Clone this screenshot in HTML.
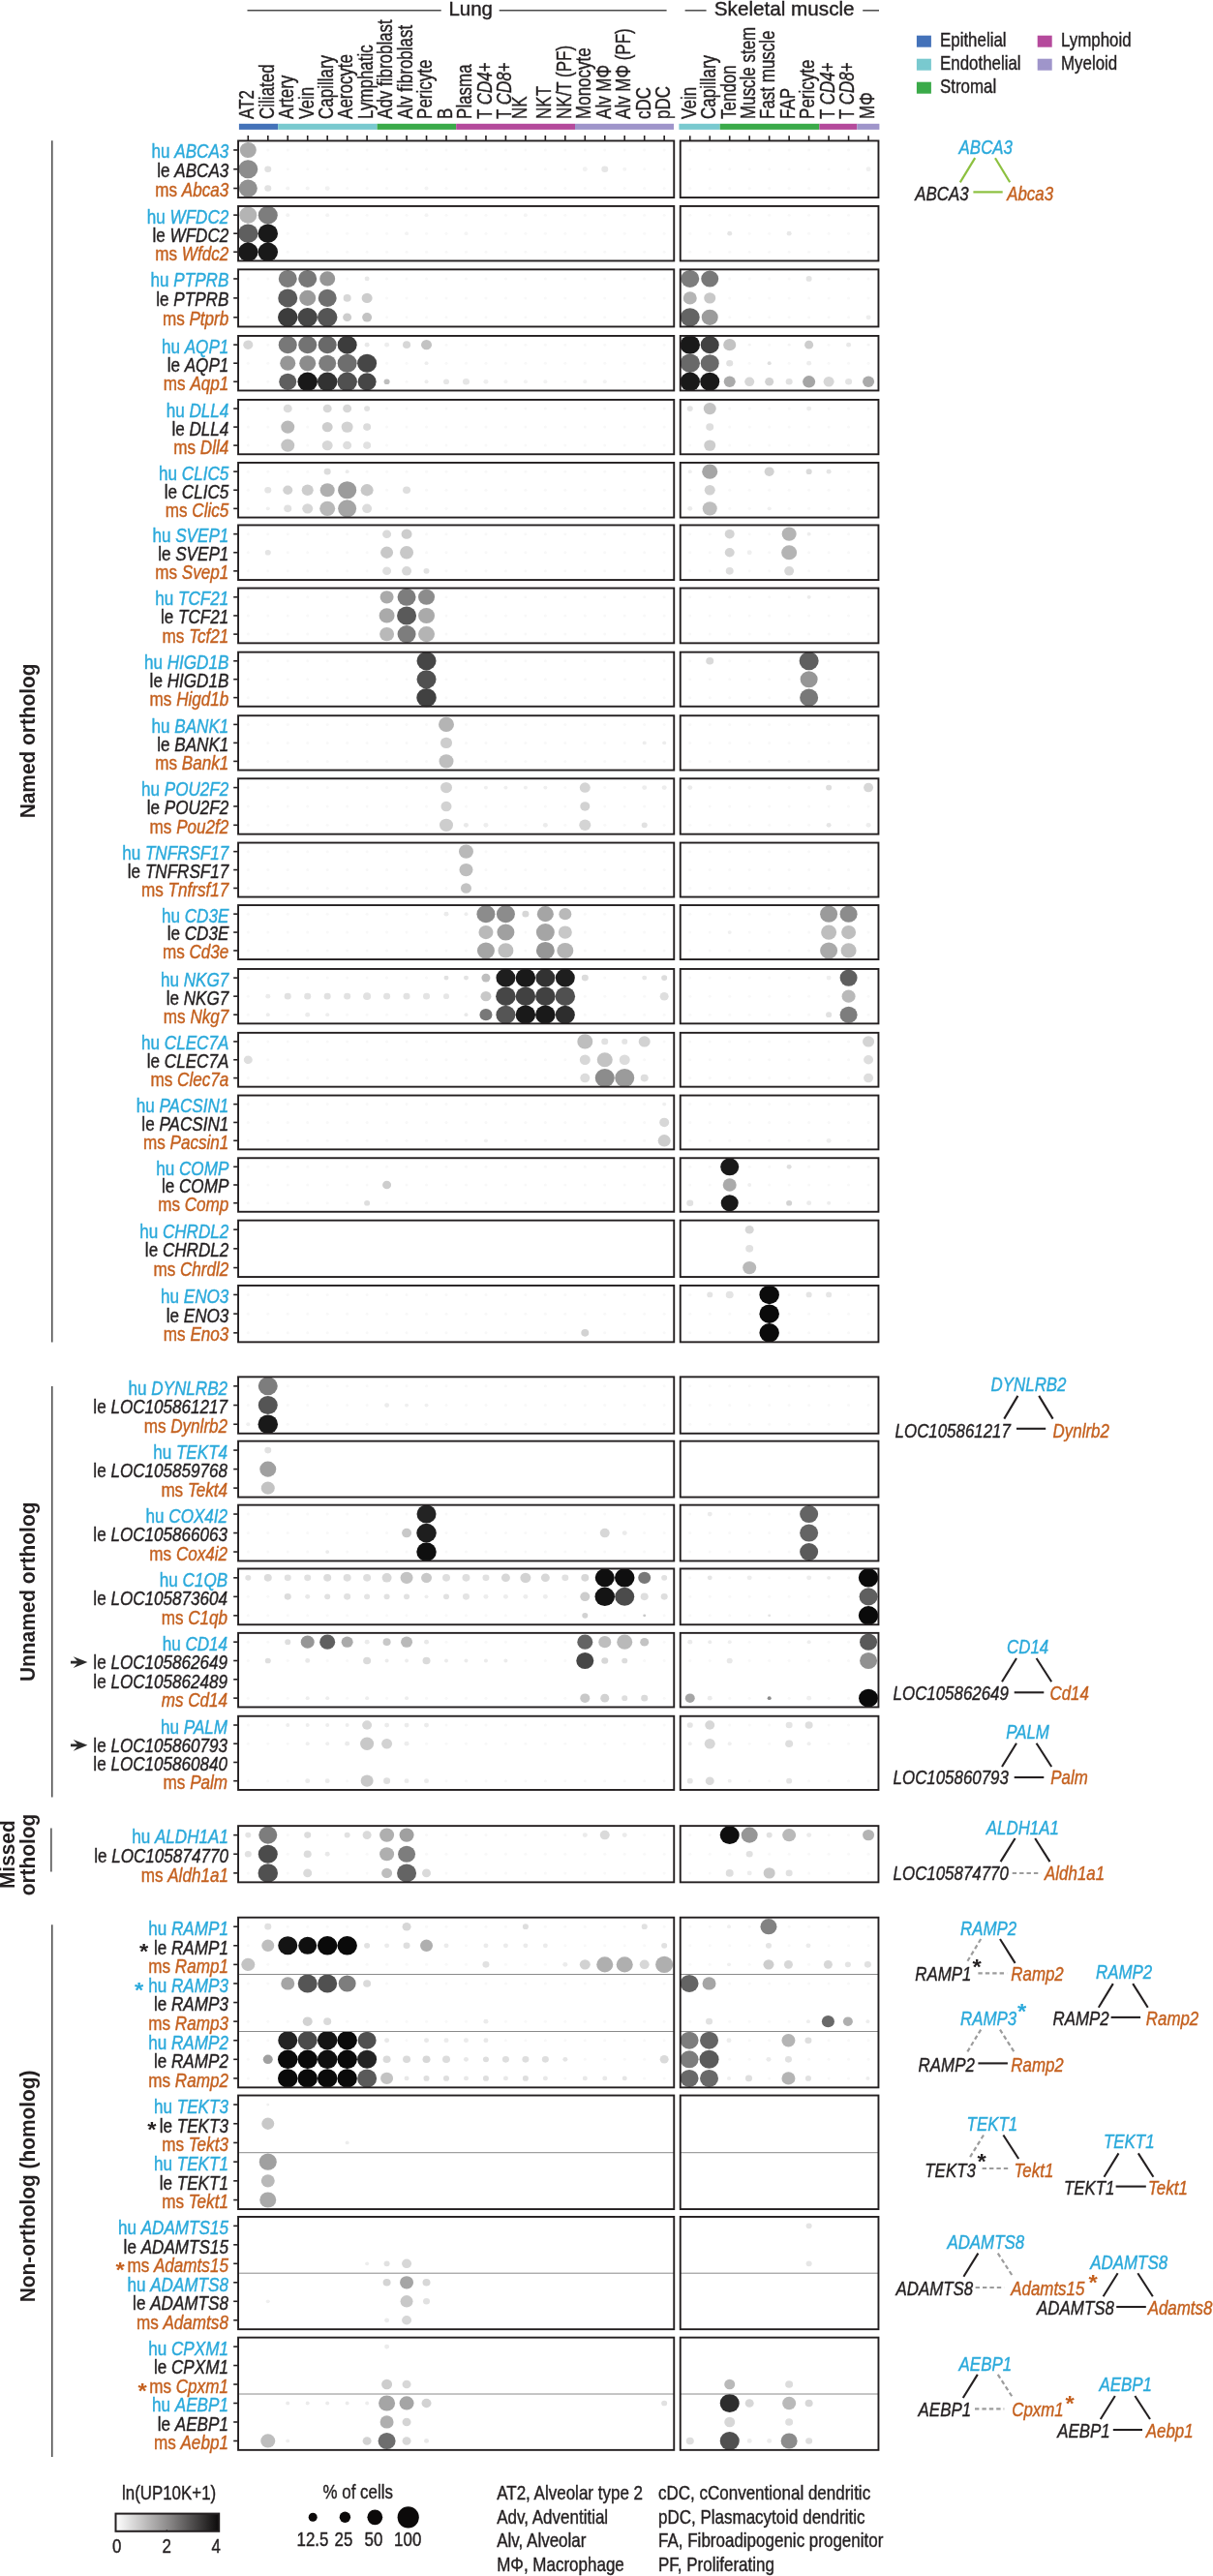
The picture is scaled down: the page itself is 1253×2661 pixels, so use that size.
<!DOCTYPE html>
<html><head><meta charset="utf-8"><title>Ortholog dot plot</title>
<style>html,body{margin:0;padding:0;background:#fff}svg{display:block;will-change:transform}text{font-family:"Liberation Sans", sans-serif;}</style></head>
<body><svg width="1253" height="2661" viewBox="0 0 1253 2661">
<rect width="1253" height="2661" fill="#ffffff"/>
<line x1="255.50" y1="10.80" x2="455.70" y2="10.80" stroke="#4a4a4a" stroke-width="1.5" stroke-linecap="butt"/>
<line x1="515.70" y1="10.80" x2="688.60" y2="10.80" stroke="#4a4a4a" stroke-width="1.5" stroke-linecap="butt"/>
<text transform="translate(463.40,15.60) scale(0.9750,1)" text-anchor="start" font-size="21.0" font-weight="normal" xml:space="preserve"><tspan font-style="normal" fill="#231f20" stroke="#231f20" stroke-width="0.4">Lung</tspan></text>
<line x1="707.60" y1="10.80" x2="729.60" y2="10.80" stroke="#4a4a4a" stroke-width="1.5" stroke-linecap="butt"/>
<line x1="891.20" y1="10.80" x2="908.00" y2="10.80" stroke="#4a4a4a" stroke-width="1.5" stroke-linecap="butt"/>
<text transform="translate(737.80,15.60) scale(0.9850,1)" text-anchor="start" font-size="21.0" font-weight="normal" xml:space="preserve"><tspan font-style="normal" fill="#231f20" stroke="#231f20" stroke-width="0.4">Skeletal muscle</tspan></text>
<text transform="translate(262.10,122.90) rotate(-90) scale(0.7670,1)" text-anchor="start" font-size="22.1" font-weight="normal" xml:space="preserve"><tspan font-style="normal" fill="#231f20" stroke="#231f20" stroke-width="0.4">AT2</tspan></text>
<text transform="translate(282.57,122.90) rotate(-90) scale(0.7670,1)" text-anchor="start" font-size="22.1" font-weight="normal" xml:space="preserve"><tspan font-style="normal" fill="#231f20" stroke="#231f20" stroke-width="0.4">Ciliated</tspan></text>
<text transform="translate(303.04,122.90) rotate(-90) scale(0.7670,1)" text-anchor="start" font-size="22.1" font-weight="normal" xml:space="preserve"><tspan font-style="normal" fill="#231f20" stroke="#231f20" stroke-width="0.4">Artery</tspan></text>
<text transform="translate(323.51,122.90) rotate(-90) scale(0.7670,1)" text-anchor="start" font-size="22.1" font-weight="normal" xml:space="preserve"><tspan font-style="normal" fill="#231f20" stroke="#231f20" stroke-width="0.4">Vein</tspan></text>
<text transform="translate(343.98,122.90) rotate(-90) scale(0.7670,1)" text-anchor="start" font-size="22.1" font-weight="normal" xml:space="preserve"><tspan font-style="normal" fill="#231f20" stroke="#231f20" stroke-width="0.4">Capillary</tspan></text>
<text transform="translate(364.45,122.90) rotate(-90) scale(0.7670,1)" text-anchor="start" font-size="22.1" font-weight="normal" xml:space="preserve"><tspan font-style="normal" fill="#231f20" stroke="#231f20" stroke-width="0.4">Aerocyte</tspan></text>
<text transform="translate(384.92,122.90) rotate(-90) scale(0.7670,1)" text-anchor="start" font-size="22.1" font-weight="normal" xml:space="preserve"><tspan font-style="normal" fill="#231f20" stroke="#231f20" stroke-width="0.4">Lymphatic</tspan></text>
<text transform="translate(405.39,122.90) rotate(-90) scale(0.7670,1)" text-anchor="start" font-size="22.1" font-weight="normal" xml:space="preserve"><tspan font-style="normal" fill="#231f20" stroke="#231f20" stroke-width="0.4">Adv fibroblast</tspan></text>
<text transform="translate(425.86,122.90) rotate(-90) scale(0.7670,1)" text-anchor="start" font-size="22.1" font-weight="normal" xml:space="preserve"><tspan font-style="normal" fill="#231f20" stroke="#231f20" stroke-width="0.4">Alv fibroblast</tspan></text>
<text transform="translate(446.33,122.90) rotate(-90) scale(0.7670,1)" text-anchor="start" font-size="22.1" font-weight="normal" xml:space="preserve"><tspan font-style="normal" fill="#231f20" stroke="#231f20" stroke-width="0.4">Pericyte</tspan></text>
<text transform="translate(466.80,122.90) rotate(-90) scale(0.7670,1)" text-anchor="start" font-size="22.1" font-weight="normal" xml:space="preserve"><tspan font-style="normal" fill="#231f20" stroke="#231f20" stroke-width="0.4">B</tspan></text>
<text transform="translate(487.27,122.90) rotate(-90) scale(0.7670,1)" text-anchor="start" font-size="22.1" font-weight="normal" xml:space="preserve"><tspan font-style="normal" fill="#231f20" stroke="#231f20" stroke-width="0.4">Plasma</tspan></text>
<text transform="translate(507.74,122.90) rotate(-90) scale(0.7670,1)" text-anchor="start" font-size="22.1" font-weight="normal" xml:space="preserve"><tspan font-style="normal" fill="#231f20" stroke="#231f20" stroke-width="0.4">T </tspan><tspan font-style="italic" fill="#231f20" stroke="#231f20" stroke-width="0.4">CD4</tspan><tspan font-style="normal" fill="#231f20" stroke="#231f20" stroke-width="0.4">+</tspan></text>
<text transform="translate(528.21,122.90) rotate(-90) scale(0.7670,1)" text-anchor="start" font-size="22.1" font-weight="normal" xml:space="preserve"><tspan font-style="normal" fill="#231f20" stroke="#231f20" stroke-width="0.4">T </tspan><tspan font-style="italic" fill="#231f20" stroke="#231f20" stroke-width="0.4">CD8</tspan><tspan font-style="normal" fill="#231f20" stroke="#231f20" stroke-width="0.4">+</tspan></text>
<text transform="translate(544.28,122.90) rotate(-90) scale(0.7670,1)" text-anchor="start" font-size="22.1" font-weight="normal" xml:space="preserve"><tspan font-style="normal" fill="#231f20" stroke="#231f20" stroke-width="0.4">NK</tspan></text>
<text transform="translate(569.15,122.90) rotate(-90) scale(0.7670,1)" text-anchor="start" font-size="22.1" font-weight="normal" xml:space="preserve"><tspan font-style="normal" fill="#231f20" stroke="#231f20" stroke-width="0.4">NKT</tspan></text>
<text transform="translate(589.62,122.90) rotate(-90) scale(0.7670,1)" text-anchor="start" font-size="22.1" font-weight="normal" xml:space="preserve"><tspan font-style="normal" fill="#231f20" stroke="#231f20" stroke-width="0.4">NK/T (PF)</tspan></text>
<text transform="translate(610.09,122.90) rotate(-90) scale(0.7670,1)" text-anchor="start" font-size="22.1" font-weight="normal" xml:space="preserve"><tspan font-style="normal" fill="#231f20" stroke="#231f20" stroke-width="0.4">Monocyte</tspan></text>
<text transform="translate(630.56,122.90) rotate(-90) scale(0.7670,1)" text-anchor="start" font-size="22.1" font-weight="normal" xml:space="preserve"><tspan font-style="normal" fill="#231f20" stroke="#231f20" stroke-width="0.4">Alv MΦ</tspan></text>
<text transform="translate(651.03,122.90) rotate(-90) scale(0.7670,1)" text-anchor="start" font-size="22.1" font-weight="normal" xml:space="preserve"><tspan font-style="normal" fill="#231f20" stroke="#231f20" stroke-width="0.4">Alv MΦ (PF)</tspan></text>
<text transform="translate(671.50,122.90) rotate(-90) scale(0.7670,1)" text-anchor="start" font-size="22.1" font-weight="normal" xml:space="preserve"><tspan font-style="normal" fill="#231f20" stroke="#231f20" stroke-width="0.4">cDC</tspan></text>
<text transform="translate(691.97,122.90) rotate(-90) scale(0.7670,1)" text-anchor="start" font-size="22.1" font-weight="normal" xml:space="preserve"><tspan font-style="normal" fill="#231f20" stroke="#231f20" stroke-width="0.4">pDC</tspan></text>
<text transform="translate(718.55,122.90) rotate(-90) scale(0.7670,1)" text-anchor="start" font-size="22.1" font-weight="normal" xml:space="preserve"><tspan font-style="normal" fill="#231f20" stroke="#231f20" stroke-width="0.4">Vein</tspan></text>
<text transform="translate(739.03,122.90) rotate(-90) scale(0.7670,1)" text-anchor="start" font-size="22.1" font-weight="normal" xml:space="preserve"><tspan font-style="normal" fill="#231f20" stroke="#231f20" stroke-width="0.4">Capillary</tspan></text>
<text transform="translate(759.51,122.90) rotate(-90) scale(0.7670,1)" text-anchor="start" font-size="22.1" font-weight="normal" xml:space="preserve"><tspan font-style="normal" fill="#231f20" stroke="#231f20" stroke-width="0.4">Tendon</tspan></text>
<text transform="translate(779.99,122.90) rotate(-90) scale(0.7670,1)" text-anchor="start" font-size="22.1" font-weight="normal" xml:space="preserve"><tspan font-style="normal" fill="#231f20" stroke="#231f20" stroke-width="0.4">Muscle stem</tspan></text>
<text transform="translate(800.47,122.90) rotate(-90) scale(0.7670,1)" text-anchor="start" font-size="22.1" font-weight="normal" xml:space="preserve"><tspan font-style="normal" fill="#231f20" stroke="#231f20" stroke-width="0.4">Fast muscle</tspan></text>
<text transform="translate(820.95,122.90) rotate(-90) scale(0.7670,1)" text-anchor="start" font-size="22.1" font-weight="normal" xml:space="preserve"><tspan font-style="normal" fill="#231f20" stroke="#231f20" stroke-width="0.4">FAP</tspan></text>
<text transform="translate(841.43,122.90) rotate(-90) scale(0.7670,1)" text-anchor="start" font-size="22.1" font-weight="normal" xml:space="preserve"><tspan font-style="normal" fill="#231f20" stroke="#231f20" stroke-width="0.4">Pericyte</tspan></text>
<text transform="translate(861.91,122.90) rotate(-90) scale(0.7670,1)" text-anchor="start" font-size="22.1" font-weight="normal" xml:space="preserve"><tspan font-style="normal" fill="#231f20" stroke="#231f20" stroke-width="0.4">T </tspan><tspan font-style="italic" fill="#231f20" stroke="#231f20" stroke-width="0.4">CD4</tspan><tspan font-style="normal" fill="#231f20" stroke="#231f20" stroke-width="0.4">+</tspan></text>
<text transform="translate(882.39,122.90) rotate(-90) scale(0.7670,1)" text-anchor="start" font-size="22.1" font-weight="normal" xml:space="preserve"><tspan font-style="normal" fill="#231f20" stroke="#231f20" stroke-width="0.4">T </tspan><tspan font-style="italic" fill="#231f20" stroke="#231f20" stroke-width="0.4">CD8</tspan><tspan font-style="normal" fill="#231f20" stroke="#231f20" stroke-width="0.4">+</tspan></text>
<text transform="translate(902.87,122.90) rotate(-90) scale(0.7670,1)" text-anchor="start" font-size="22.1" font-weight="normal" xml:space="preserve"><tspan font-style="normal" fill="#231f20" stroke="#231f20" stroke-width="0.4">MΦ</tspan></text>
<rect x="246.90" y="127.80" width="40.30" height="6.10" fill="#4472b9"/>
<rect x="287.20" y="127.80" width="102.40" height="6.10" fill="#79c9cf"/>
<rect x="389.60" y="127.80" width="81.60" height="6.10" fill="#3aaa49"/>
<rect x="471.20" y="127.80" width="122.80" height="6.10" fill="#b54a9c"/>
<rect x="594.00" y="127.80" width="102.00" height="6.10" fill="#9f95ca"/>
<rect x="701.40" y="127.80" width="42.30" height="6.10" fill="#79c9cf"/>
<rect x="743.70" y="127.80" width="102.70" height="6.10" fill="#3aaa49"/>
<rect x="846.40" y="127.80" width="38.90" height="6.10" fill="#b54a9c"/>
<rect x="885.30" y="127.80" width="23.10" height="6.10" fill="#9f95ca"/>
<rect x="946.90" y="36.70" width="15.00" height="12.00" fill="#4472b9"/>
<text transform="translate(971.00,48.00) scale(0.8366,1)" text-anchor="start" font-size="20.2" font-weight="normal" xml:space="preserve"><tspan font-style="normal" fill="#231f20" stroke="#231f20" stroke-width="0.4">Epithelial</tspan></text>
<rect x="946.90" y="60.70" width="15.00" height="12.00" fill="#79c9cf"/>
<text transform="translate(971.00,72.00) scale(0.8366,1)" text-anchor="start" font-size="20.2" font-weight="normal" xml:space="preserve"><tspan font-style="normal" fill="#231f20" stroke="#231f20" stroke-width="0.4">Endothelial</tspan></text>
<rect x="946.90" y="84.70" width="15.00" height="12.00" fill="#3aaa49"/>
<text transform="translate(971.00,96.00) scale(0.8366,1)" text-anchor="start" font-size="20.2" font-weight="normal" xml:space="preserve"><tspan font-style="normal" fill="#231f20" stroke="#231f20" stroke-width="0.4">Stromal</tspan></text>
<rect x="1071.70" y="36.70" width="15.00" height="12.00" fill="#b54a9c"/>
<text transform="translate(1096.00,48.00) scale(0.8366,1)" text-anchor="start" font-size="20.2" font-weight="normal" xml:space="preserve"><tspan font-style="normal" fill="#231f20" stroke="#231f20" stroke-width="0.4">Lymphoid</tspan></text>
<rect x="1071.70" y="60.70" width="15.00" height="12.00" fill="#9f95ca"/>
<text transform="translate(1096.00,72.00) scale(0.8366,1)" text-anchor="start" font-size="20.2" font-weight="normal" xml:space="preserve"><tspan font-style="normal" fill="#231f20" stroke="#231f20" stroke-width="0.4">Myeloid</tspan></text>
<ellipse cx="256.30" cy="154.98" rx="8.50" ry="8.07" fill="#aaaaaa"/>
<circle cx="276.77" cy="154.98" r="1.5" fill="#f8f8f8"/>
<circle cx="297.24" cy="154.98" r="1.5" fill="#f8f8f8"/>
<circle cx="317.71" cy="154.98" r="1.5" fill="#f8f8f8"/>
<circle cx="338.18" cy="154.98" r="1.5" fill="#f8f8f8"/>
<circle cx="358.65" cy="154.98" r="1.5" fill="#f8f8f8"/>
<circle cx="379.12" cy="154.98" r="1.5" fill="#f8f8f8"/>
<circle cx="399.59" cy="154.98" r="1.5" fill="#f8f8f8"/>
<circle cx="420.06" cy="154.98" r="1.5" fill="#f8f8f8"/>
<circle cx="440.53" cy="154.98" r="1.5" fill="#f8f8f8"/>
<circle cx="461.00" cy="154.98" r="1.5" fill="#f8f8f8"/>
<circle cx="481.47" cy="154.98" r="1.5" fill="#f8f8f8"/>
<circle cx="501.94" cy="154.98" r="1.5" fill="#f8f8f8"/>
<circle cx="522.41" cy="154.98" r="1.5" fill="#f8f8f8"/>
<circle cx="542.88" cy="154.98" r="1.5" fill="#f8f8f8"/>
<circle cx="563.35" cy="154.98" r="1.5" fill="#f8f8f8"/>
<circle cx="583.82" cy="154.98" r="1.5" fill="#f8f8f8"/>
<circle cx="604.29" cy="154.98" r="1.5" fill="#f8f8f8"/>
<circle cx="624.76" cy="154.98" r="1.5" fill="#f8f8f8"/>
<circle cx="645.23" cy="154.98" r="1.5" fill="#f8f8f8"/>
<circle cx="665.70" cy="154.98" r="1.5" fill="#f8f8f8"/>
<circle cx="686.17" cy="154.98" r="1.5" fill="#f8f8f8"/>
<circle cx="712.75" cy="154.98" r="1.5" fill="#f8f8f8"/>
<circle cx="733.23" cy="154.98" r="1.5" fill="#f8f8f8"/>
<circle cx="753.71" cy="154.98" r="1.5" fill="#f8f8f8"/>
<circle cx="774.19" cy="154.98" r="1.5" fill="#f8f8f8"/>
<circle cx="794.67" cy="154.98" r="1.5" fill="#f8f8f8"/>
<circle cx="815.15" cy="154.98" r="1.5" fill="#f8f8f8"/>
<circle cx="835.63" cy="154.98" r="1.5" fill="#f8f8f8"/>
<circle cx="856.11" cy="154.98" r="1.5" fill="#f8f8f8"/>
<circle cx="876.59" cy="154.98" r="1.5" fill="#f8f8f8"/>
<circle cx="897.07" cy="154.98" r="1.5" fill="#f8f8f8"/>
<ellipse cx="256.30" cy="174.75" rx="10.00" ry="9.50" fill="#8c8c8c"/>
<ellipse cx="276.77" cy="174.75" rx="3.50" ry="3.32" fill="#e1e1e1"/>
<circle cx="297.24" cy="174.75" r="1.5" fill="#f8f8f8"/>
<circle cx="317.71" cy="174.75" r="1.5" fill="#f8f8f8"/>
<circle cx="338.18" cy="174.75" r="1.5" fill="#f8f8f8"/>
<circle cx="358.65" cy="174.75" r="1.5" fill="#f8f8f8"/>
<circle cx="379.12" cy="174.75" r="1.5" fill="#f8f8f8"/>
<circle cx="399.59" cy="174.75" r="1.5" fill="#f8f8f8"/>
<circle cx="420.06" cy="174.75" r="1.5" fill="#f8f8f8"/>
<circle cx="440.53" cy="174.75" r="1.5" fill="#f8f8f8"/>
<circle cx="461.00" cy="174.75" r="1.5" fill="#f8f8f8"/>
<circle cx="481.47" cy="174.75" r="1.5" fill="#f8f8f8"/>
<circle cx="501.94" cy="174.75" r="1.5" fill="#f8f8f8"/>
<circle cx="522.41" cy="174.75" r="1.5" fill="#f8f8f8"/>
<circle cx="542.88" cy="174.75" r="1.5" fill="#f8f8f8"/>
<circle cx="563.35" cy="174.75" r="1.5" fill="#f8f8f8"/>
<circle cx="583.82" cy="174.75" r="1.5" fill="#f8f8f8"/>
<ellipse cx="604.29" cy="174.75" rx="2.50" ry="2.38" fill="#f2f2f2"/>
<ellipse cx="624.76" cy="174.75" rx="3.50" ry="3.32" fill="#e6e6e6"/>
<ellipse cx="645.23" cy="174.75" rx="2.00" ry="1.90" fill="#f4f4f4"/>
<circle cx="665.70" cy="174.75" r="1.5" fill="#f8f8f8"/>
<circle cx="686.17" cy="174.75" r="1.5" fill="#f8f8f8"/>
<circle cx="712.75" cy="174.75" r="1.5" fill="#f8f8f8"/>
<circle cx="733.23" cy="174.75" r="1.5" fill="#f8f8f8"/>
<circle cx="753.71" cy="174.75" r="1.5" fill="#f8f8f8"/>
<circle cx="774.19" cy="174.75" r="1.5" fill="#f8f8f8"/>
<circle cx="794.67" cy="174.75" r="1.5" fill="#f8f8f8"/>
<circle cx="815.15" cy="174.75" r="1.5" fill="#f8f8f8"/>
<circle cx="835.63" cy="174.75" r="1.5" fill="#f8f8f8"/>
<circle cx="856.11" cy="174.75" r="1.5" fill="#f8f8f8"/>
<circle cx="876.59" cy="174.75" r="1.5" fill="#f8f8f8"/>
<ellipse cx="897.07" cy="174.75" rx="2.50" ry="2.38" fill="#f0f0f0"/>
<ellipse cx="256.30" cy="194.52" rx="9.50" ry="9.03" fill="#919191"/>
<ellipse cx="276.77" cy="194.52" rx="3.50" ry="3.32" fill="#e2e2e2"/>
<ellipse cx="297.24" cy="194.52" rx="2.00" ry="1.90" fill="#f3f3f3"/>
<ellipse cx="317.71" cy="194.52" rx="2.00" ry="1.90" fill="#f3f3f3"/>
<ellipse cx="338.18" cy="194.52" rx="2.50" ry="2.38" fill="#f1f1f1"/>
<circle cx="358.65" cy="194.52" r="1.5" fill="#f8f8f8"/>
<circle cx="379.12" cy="194.52" r="1.5" fill="#f8f8f8"/>
<circle cx="399.59" cy="194.52" r="1.5" fill="#f8f8f8"/>
<circle cx="420.06" cy="194.52" r="1.5" fill="#f8f8f8"/>
<ellipse cx="440.53" cy="194.52" rx="2.00" ry="1.90" fill="#f3f3f3"/>
<circle cx="461.00" cy="194.52" r="1.5" fill="#f8f8f8"/>
<circle cx="481.47" cy="194.52" r="1.5" fill="#f8f8f8"/>
<circle cx="501.94" cy="194.52" r="1.5" fill="#f8f8f8"/>
<circle cx="522.41" cy="194.52" r="1.5" fill="#f8f8f8"/>
<circle cx="542.88" cy="194.52" r="1.5" fill="#f8f8f8"/>
<circle cx="563.35" cy="194.52" r="1.5" fill="#f8f8f8"/>
<circle cx="583.82" cy="194.52" r="1.5" fill="#f8f8f8"/>
<circle cx="604.29" cy="194.52" r="1.5" fill="#f8f8f8"/>
<circle cx="624.76" cy="194.52" r="1.5" fill="#f8f8f8"/>
<circle cx="645.23" cy="194.52" r="1.5" fill="#f8f8f8"/>
<circle cx="665.70" cy="194.52" r="1.5" fill="#f8f8f8"/>
<circle cx="686.17" cy="194.52" r="1.5" fill="#f8f8f8"/>
<circle cx="712.75" cy="194.52" r="1.5" fill="#f8f8f8"/>
<circle cx="733.23" cy="194.52" r="1.5" fill="#f8f8f8"/>
<circle cx="753.71" cy="194.52" r="1.5" fill="#f8f8f8"/>
<circle cx="774.19" cy="194.52" r="1.5" fill="#f8f8f8"/>
<circle cx="794.67" cy="194.52" r="1.5" fill="#f8f8f8"/>
<circle cx="815.15" cy="194.52" r="1.5" fill="#f8f8f8"/>
<circle cx="835.63" cy="194.52" r="1.5" fill="#f8f8f8"/>
<circle cx="856.11" cy="194.52" r="1.5" fill="#f8f8f8"/>
<circle cx="876.59" cy="194.52" r="1.5" fill="#f8f8f8"/>
<circle cx="897.07" cy="194.52" r="1.5" fill="#f8f8f8"/>
<rect x="246.05" y="145.45" width="450.20" height="58.60" fill="none" stroke="#231f20" stroke-width="1.9"/>
<rect x="702.75" y="145.45" width="204.70" height="58.60" fill="none" stroke="#231f20" stroke-width="1.9"/>
<line x1="241.20" y1="154.98" x2="245.60" y2="154.98" stroke="#231f20" stroke-width="1.6" stroke-linecap="butt"/>
<text transform="translate(236.30,163.38) scale(0.8465,1)" text-anchor="end" font-size="20.2" font-weight="normal" xml:space="preserve"><tspan font-style="normal" fill="#2aa9db" stroke="#2aa9db" stroke-width="0.4">hu </tspan><tspan font-style="italic" fill="#2aa9db" stroke="#2aa9db" stroke-width="0.4">ABCA3</tspan></text>
<line x1="241.20" y1="174.75" x2="245.60" y2="174.75" stroke="#231f20" stroke-width="1.6" stroke-linecap="butt"/>
<text transform="translate(236.30,183.15) scale(0.8465,1)" text-anchor="end" font-size="20.2" font-weight="normal" xml:space="preserve"><tspan font-style="normal" fill="#231f20" stroke="#231f20" stroke-width="0.4">le </tspan><tspan font-style="italic" fill="#231f20" stroke="#231f20" stroke-width="0.4">ABCA3</tspan></text>
<line x1="241.20" y1="194.52" x2="245.60" y2="194.52" stroke="#231f20" stroke-width="1.6" stroke-linecap="butt"/>
<text transform="translate(236.30,202.92) scale(0.8465,1)" text-anchor="end" font-size="20.2" font-weight="normal" xml:space="preserve"><tspan font-style="normal" fill="#c4601e" stroke="#c4601e" stroke-width="0.4">ms </tspan><tspan font-style="italic" fill="#c4601e" stroke="#c4601e" stroke-width="0.4">Abca3</tspan></text>
<ellipse cx="256.30" cy="222.13" rx="9.00" ry="8.55" fill="#b4b4b4"/>
<ellipse cx="276.77" cy="222.13" rx="10.00" ry="9.50" fill="#7d7d7d"/>
<ellipse cx="297.24" cy="222.13" rx="2.00" ry="1.90" fill="#f2f2f2"/>
<circle cx="317.71" cy="222.13" r="1.5" fill="#f8f8f8"/>
<ellipse cx="338.18" cy="222.13" rx="2.00" ry="1.90" fill="#f3f3f3"/>
<circle cx="358.65" cy="222.13" r="1.5" fill="#f8f8f8"/>
<circle cx="379.12" cy="222.13" r="1.5" fill="#f8f8f8"/>
<circle cx="399.59" cy="222.13" r="1.5" fill="#f8f8f8"/>
<circle cx="420.06" cy="222.13" r="1.5" fill="#f8f8f8"/>
<ellipse cx="440.53" cy="222.13" rx="2.00" ry="1.90" fill="#f3f3f3"/>
<circle cx="461.00" cy="222.13" r="1.5" fill="#f8f8f8"/>
<circle cx="481.47" cy="222.13" r="1.5" fill="#f8f8f8"/>
<circle cx="501.94" cy="222.13" r="1.5" fill="#f8f8f8"/>
<circle cx="522.41" cy="222.13" r="1.5" fill="#f8f8f8"/>
<ellipse cx="542.88" cy="222.13" rx="2.00" ry="1.90" fill="#f4f4f4"/>
<circle cx="563.35" cy="222.13" r="1.5" fill="#f8f8f8"/>
<circle cx="583.82" cy="222.13" r="1.5" fill="#f8f8f8"/>
<circle cx="604.29" cy="222.13" r="1.5" fill="#f8f8f8"/>
<circle cx="624.76" cy="222.13" r="1.5" fill="#f8f8f8"/>
<circle cx="645.23" cy="222.13" r="1.5" fill="#f8f8f8"/>
<circle cx="665.70" cy="222.13" r="1.5" fill="#f8f8f8"/>
<circle cx="686.17" cy="222.13" r="1.5" fill="#f8f8f8"/>
<circle cx="712.75" cy="222.13" r="1.5" fill="#f8f8f8"/>
<circle cx="733.23" cy="222.13" r="1.5" fill="#f8f8f8"/>
<circle cx="753.71" cy="222.13" r="1.5" fill="#f8f8f8"/>
<circle cx="774.19" cy="222.13" r="1.5" fill="#f8f8f8"/>
<circle cx="794.67" cy="222.13" r="1.5" fill="#f8f8f8"/>
<circle cx="815.15" cy="222.13" r="1.5" fill="#f8f8f8"/>
<circle cx="835.63" cy="222.13" r="1.5" fill="#f8f8f8"/>
<circle cx="856.11" cy="222.13" r="1.5" fill="#f8f8f8"/>
<circle cx="876.59" cy="222.13" r="1.5" fill="#f8f8f8"/>
<circle cx="897.07" cy="222.13" r="1.5" fill="#f8f8f8"/>
<ellipse cx="256.30" cy="241.20" rx="10.25" ry="9.74" fill="#5f5f5f"/>
<ellipse cx="276.77" cy="241.20" rx="10.25" ry="9.74" fill="#191919"/>
<circle cx="297.24" cy="241.20" r="1.5" fill="#f8f8f8"/>
<circle cx="317.71" cy="241.20" r="1.5" fill="#f8f8f8"/>
<circle cx="338.18" cy="241.20" r="1.5" fill="#f8f8f8"/>
<circle cx="358.65" cy="241.20" r="1.5" fill="#f8f8f8"/>
<circle cx="379.12" cy="241.20" r="1.5" fill="#f8f8f8"/>
<circle cx="399.59" cy="241.20" r="1.5" fill="#f8f8f8"/>
<ellipse cx="420.06" cy="241.20" rx="2.00" ry="1.90" fill="#f3f3f3"/>
<circle cx="440.53" cy="241.20" r="1.5" fill="#f8f8f8"/>
<circle cx="461.00" cy="241.20" r="1.5" fill="#f8f8f8"/>
<ellipse cx="481.47" cy="241.20" rx="2.00" ry="1.90" fill="#f4f4f4"/>
<circle cx="501.94" cy="241.20" r="1.5" fill="#f8f8f8"/>
<circle cx="522.41" cy="241.20" r="1.5" fill="#f8f8f8"/>
<circle cx="542.88" cy="241.20" r="1.5" fill="#f8f8f8"/>
<circle cx="563.35" cy="241.20" r="1.5" fill="#f8f8f8"/>
<circle cx="583.82" cy="241.20" r="1.5" fill="#f8f8f8"/>
<circle cx="604.29" cy="241.20" r="1.5" fill="#f8f8f8"/>
<circle cx="624.76" cy="241.20" r="1.5" fill="#f8f8f8"/>
<circle cx="645.23" cy="241.20" r="1.5" fill="#f8f8f8"/>
<circle cx="665.70" cy="241.20" r="1.5" fill="#f8f8f8"/>
<circle cx="686.17" cy="241.20" r="1.5" fill="#f8f8f8"/>
<circle cx="712.75" cy="241.20" r="1.5" fill="#f8f8f8"/>
<circle cx="733.23" cy="241.20" r="1.5" fill="#f8f8f8"/>
<ellipse cx="753.71" cy="241.20" rx="2.50" ry="2.38" fill="#e5e5e5"/>
<circle cx="774.19" cy="241.20" r="1.5" fill="#f8f8f8"/>
<circle cx="794.67" cy="241.20" r="1.5" fill="#f8f8f8"/>
<ellipse cx="815.15" cy="241.20" rx="2.50" ry="2.38" fill="#e8e8e8"/>
<circle cx="835.63" cy="241.20" r="1.5" fill="#f8f8f8"/>
<circle cx="856.11" cy="241.20" r="1.5" fill="#f8f8f8"/>
<circle cx="876.59" cy="241.20" r="1.5" fill="#f8f8f8"/>
<circle cx="897.07" cy="241.20" r="1.5" fill="#f8f8f8"/>
<ellipse cx="256.30" cy="260.27" rx="10.25" ry="9.74" fill="#191919"/>
<ellipse cx="276.77" cy="260.27" rx="10.25" ry="9.74" fill="#191919"/>
<circle cx="297.24" cy="260.27" r="1.5" fill="#f8f8f8"/>
<circle cx="317.71" cy="260.27" r="1.5" fill="#f8f8f8"/>
<circle cx="338.18" cy="260.27" r="1.5" fill="#f8f8f8"/>
<circle cx="358.65" cy="260.27" r="1.5" fill="#f8f8f8"/>
<circle cx="379.12" cy="260.27" r="1.5" fill="#f8f8f8"/>
<circle cx="399.59" cy="260.27" r="1.5" fill="#f8f8f8"/>
<circle cx="420.06" cy="260.27" r="1.5" fill="#f8f8f8"/>
<circle cx="440.53" cy="260.27" r="1.5" fill="#f8f8f8"/>
<circle cx="461.00" cy="260.27" r="1.5" fill="#f8f8f8"/>
<circle cx="481.47" cy="260.27" r="1.5" fill="#f8f8f8"/>
<circle cx="501.94" cy="260.27" r="1.5" fill="#f8f8f8"/>
<circle cx="522.41" cy="260.27" r="1.5" fill="#f8f8f8"/>
<circle cx="542.88" cy="260.27" r="1.5" fill="#f8f8f8"/>
<circle cx="563.35" cy="260.27" r="1.5" fill="#f8f8f8"/>
<circle cx="583.82" cy="260.27" r="1.5" fill="#f8f8f8"/>
<circle cx="604.29" cy="260.27" r="1.5" fill="#f8f8f8"/>
<circle cx="624.76" cy="260.27" r="1.5" fill="#f8f8f8"/>
<circle cx="645.23" cy="260.27" r="1.5" fill="#f8f8f8"/>
<circle cx="665.70" cy="260.27" r="1.5" fill="#f8f8f8"/>
<circle cx="686.17" cy="260.27" r="1.5" fill="#f8f8f8"/>
<circle cx="712.75" cy="260.27" r="1.5" fill="#f8f8f8"/>
<circle cx="733.23" cy="260.27" r="1.5" fill="#f8f8f8"/>
<circle cx="753.71" cy="260.27" r="1.5" fill="#f8f8f8"/>
<circle cx="774.19" cy="260.27" r="1.5" fill="#f8f8f8"/>
<circle cx="794.67" cy="260.27" r="1.5" fill="#f8f8f8"/>
<circle cx="815.15" cy="260.27" r="1.5" fill="#f8f8f8"/>
<circle cx="835.63" cy="260.27" r="1.5" fill="#f8f8f8"/>
<circle cx="856.11" cy="260.27" r="1.5" fill="#f8f8f8"/>
<circle cx="876.59" cy="260.27" r="1.5" fill="#f8f8f8"/>
<circle cx="897.07" cy="260.27" r="1.5" fill="#f8f8f8"/>
<rect x="246.05" y="212.95" width="450.20" height="56.50" fill="none" stroke="#231f20" stroke-width="1.9"/>
<rect x="702.75" y="212.95" width="204.70" height="56.50" fill="none" stroke="#231f20" stroke-width="1.9"/>
<line x1="241.20" y1="222.13" x2="245.60" y2="222.13" stroke="#231f20" stroke-width="1.6" stroke-linecap="butt"/>
<text transform="translate(236.30,230.53) scale(0.8465,1)" text-anchor="end" font-size="20.2" font-weight="normal" xml:space="preserve"><tspan font-style="normal" fill="#2aa9db" stroke="#2aa9db" stroke-width="0.4">hu </tspan><tspan font-style="italic" fill="#2aa9db" stroke="#2aa9db" stroke-width="0.4">WFDC2</tspan></text>
<line x1="241.20" y1="241.20" x2="245.60" y2="241.20" stroke="#231f20" stroke-width="1.6" stroke-linecap="butt"/>
<text transform="translate(236.30,249.60) scale(0.8465,1)" text-anchor="end" font-size="20.2" font-weight="normal" xml:space="preserve"><tspan font-style="normal" fill="#231f20" stroke="#231f20" stroke-width="0.4">le </tspan><tspan font-style="italic" fill="#231f20" stroke="#231f20" stroke-width="0.4">WFDC2</tspan></text>
<line x1="241.20" y1="260.27" x2="245.60" y2="260.27" stroke="#231f20" stroke-width="1.6" stroke-linecap="butt"/>
<text transform="translate(236.30,268.67) scale(0.8465,1)" text-anchor="end" font-size="20.2" font-weight="normal" xml:space="preserve"><tspan font-style="normal" fill="#c4601e" stroke="#c4601e" stroke-width="0.4">ms </tspan><tspan font-style="italic" fill="#c4601e" stroke="#c4601e" stroke-width="0.4">Wfdc2</tspan></text>
<circle cx="256.30" cy="287.97" r="1.5" fill="#f8f8f8"/>
<circle cx="276.77" cy="287.97" r="1.5" fill="#f8f8f8"/>
<ellipse cx="297.24" cy="287.97" rx="9.50" ry="9.03" fill="#7d7d7d"/>
<ellipse cx="317.71" cy="287.97" rx="9.50" ry="9.03" fill="#787878"/>
<ellipse cx="338.18" cy="287.97" rx="8.00" ry="7.60" fill="#969696"/>
<circle cx="358.65" cy="287.97" r="1.5" fill="#f8f8f8"/>
<ellipse cx="379.12" cy="287.97" rx="2.50" ry="2.38" fill="#e8e8e8"/>
<circle cx="399.59" cy="287.97" r="1.5" fill="#f8f8f8"/>
<circle cx="420.06" cy="287.97" r="1.5" fill="#f8f8f8"/>
<circle cx="440.53" cy="287.97" r="1.5" fill="#f8f8f8"/>
<circle cx="461.00" cy="287.97" r="1.5" fill="#f8f8f8"/>
<circle cx="481.47" cy="287.97" r="1.5" fill="#f8f8f8"/>
<circle cx="501.94" cy="287.97" r="1.5" fill="#f8f8f8"/>
<circle cx="522.41" cy="287.97" r="1.5" fill="#f8f8f8"/>
<circle cx="542.88" cy="287.97" r="1.5" fill="#f8f8f8"/>
<circle cx="563.35" cy="287.97" r="1.5" fill="#f8f8f8"/>
<circle cx="583.82" cy="287.97" r="1.5" fill="#f8f8f8"/>
<circle cx="604.29" cy="287.97" r="1.5" fill="#f8f8f8"/>
<circle cx="624.76" cy="287.97" r="1.5" fill="#f8f8f8"/>
<circle cx="645.23" cy="287.97" r="1.5" fill="#f8f8f8"/>
<circle cx="665.70" cy="287.97" r="1.5" fill="#f8f8f8"/>
<circle cx="686.17" cy="287.97" r="1.5" fill="#f8f8f8"/>
<ellipse cx="712.75" cy="287.97" rx="9.50" ry="9.03" fill="#7d7d7d"/>
<ellipse cx="733.23" cy="287.97" rx="9.00" ry="8.55" fill="#787878"/>
<circle cx="753.71" cy="287.97" r="1.5" fill="#f8f8f8"/>
<circle cx="774.19" cy="287.97" r="1.5" fill="#f8f8f8"/>
<circle cx="794.67" cy="287.97" r="1.5" fill="#f8f8f8"/>
<circle cx="815.15" cy="287.97" r="1.5" fill="#f8f8f8"/>
<ellipse cx="835.63" cy="287.97" rx="3.00" ry="2.85" fill="#e4e4e4"/>
<circle cx="856.11" cy="287.97" r="1.5" fill="#f8f8f8"/>
<circle cx="876.59" cy="287.97" r="1.5" fill="#f8f8f8"/>
<circle cx="897.07" cy="287.97" r="1.5" fill="#f8f8f8"/>
<circle cx="256.30" cy="307.90" r="1.5" fill="#f8f8f8"/>
<circle cx="276.77" cy="307.90" r="1.5" fill="#f8f8f8"/>
<ellipse cx="297.24" cy="307.90" rx="10.00" ry="9.50" fill="#5a5a5a"/>
<ellipse cx="317.71" cy="307.90" rx="8.50" ry="8.07" fill="#9b9b9b"/>
<ellipse cx="338.18" cy="307.90" rx="9.50" ry="9.03" fill="#6e6e6e"/>
<ellipse cx="358.65" cy="307.90" rx="4.00" ry="3.80" fill="#d7d7d7"/>
<ellipse cx="379.12" cy="307.90" rx="5.50" ry="5.22" fill="#cdcdcd"/>
<circle cx="399.59" cy="307.90" r="1.5" fill="#f8f8f8"/>
<circle cx="420.06" cy="307.90" r="1.5" fill="#f8f8f8"/>
<circle cx="440.53" cy="307.90" r="1.5" fill="#f8f8f8"/>
<circle cx="461.00" cy="307.90" r="1.5" fill="#f8f8f8"/>
<circle cx="481.47" cy="307.90" r="1.5" fill="#f8f8f8"/>
<circle cx="501.94" cy="307.90" r="1.5" fill="#f8f8f8"/>
<circle cx="522.41" cy="307.90" r="1.5" fill="#f8f8f8"/>
<circle cx="542.88" cy="307.90" r="1.5" fill="#f8f8f8"/>
<circle cx="563.35" cy="307.90" r="1.5" fill="#f8f8f8"/>
<circle cx="583.82" cy="307.90" r="1.5" fill="#f8f8f8"/>
<circle cx="604.29" cy="307.90" r="1.5" fill="#f8f8f8"/>
<circle cx="624.76" cy="307.90" r="1.5" fill="#f8f8f8"/>
<circle cx="645.23" cy="307.90" r="1.5" fill="#f8f8f8"/>
<circle cx="665.70" cy="307.90" r="1.5" fill="#f8f8f8"/>
<circle cx="686.17" cy="307.90" r="1.5" fill="#f8f8f8"/>
<ellipse cx="712.75" cy="307.90" rx="7.00" ry="6.65" fill="#b4b4b4"/>
<ellipse cx="733.23" cy="307.90" rx="6.00" ry="5.70" fill="#c8c8c8"/>
<circle cx="753.71" cy="307.90" r="1.5" fill="#f8f8f8"/>
<circle cx="774.19" cy="307.90" r="1.5" fill="#f8f8f8"/>
<circle cx="794.67" cy="307.90" r="1.5" fill="#f8f8f8"/>
<circle cx="815.15" cy="307.90" r="1.5" fill="#f8f8f8"/>
<circle cx="835.63" cy="307.90" r="1.5" fill="#f8f8f8"/>
<circle cx="856.11" cy="307.90" r="1.5" fill="#f8f8f8"/>
<circle cx="876.59" cy="307.90" r="1.5" fill="#f8f8f8"/>
<circle cx="897.07" cy="307.90" r="1.5" fill="#f8f8f8"/>
<circle cx="256.30" cy="327.83" r="1.5" fill="#f8f8f8"/>
<circle cx="276.77" cy="327.83" r="1.5" fill="#f8f8f8"/>
<ellipse cx="297.24" cy="327.83" rx="10.25" ry="9.74" fill="#3c3c3c"/>
<ellipse cx="317.71" cy="327.83" rx="10.25" ry="9.74" fill="#464646"/>
<ellipse cx="338.18" cy="327.83" rx="10.25" ry="9.74" fill="#555555"/>
<ellipse cx="358.65" cy="327.83" rx="4.50" ry="4.27" fill="#cdcdcd"/>
<ellipse cx="379.12" cy="327.83" rx="5.00" ry="4.75" fill="#c3c3c3"/>
<circle cx="399.59" cy="327.83" r="1.5" fill="#f8f8f8"/>
<circle cx="420.06" cy="327.83" r="1.5" fill="#f8f8f8"/>
<circle cx="440.53" cy="327.83" r="1.5" fill="#f8f8f8"/>
<circle cx="461.00" cy="327.83" r="1.5" fill="#f8f8f8"/>
<circle cx="481.47" cy="327.83" r="1.5" fill="#f8f8f8"/>
<circle cx="501.94" cy="327.83" r="1.5" fill="#f8f8f8"/>
<circle cx="522.41" cy="327.83" r="1.5" fill="#f8f8f8"/>
<circle cx="542.88" cy="327.83" r="1.5" fill="#f8f8f8"/>
<circle cx="563.35" cy="327.83" r="1.5" fill="#f8f8f8"/>
<circle cx="583.82" cy="327.83" r="1.5" fill="#f8f8f8"/>
<circle cx="604.29" cy="327.83" r="1.5" fill="#f8f8f8"/>
<circle cx="624.76" cy="327.83" r="1.5" fill="#f8f8f8"/>
<circle cx="645.23" cy="327.83" r="1.5" fill="#f8f8f8"/>
<circle cx="665.70" cy="327.83" r="1.5" fill="#f8f8f8"/>
<circle cx="686.17" cy="327.83" r="1.5" fill="#f8f8f8"/>
<ellipse cx="712.75" cy="327.83" rx="10.00" ry="9.50" fill="#646464"/>
<ellipse cx="733.23" cy="327.83" rx="8.50" ry="8.07" fill="#9b9b9b"/>
<circle cx="753.71" cy="327.83" r="1.5" fill="#f8f8f8"/>
<circle cx="774.19" cy="327.83" r="1.5" fill="#f8f8f8"/>
<circle cx="794.67" cy="327.83" r="1.5" fill="#f8f8f8"/>
<circle cx="815.15" cy="327.83" r="1.5" fill="#f8f8f8"/>
<circle cx="835.63" cy="327.83" r="1.5" fill="#f8f8f8"/>
<circle cx="856.11" cy="327.83" r="1.5" fill="#f8f8f8"/>
<circle cx="876.59" cy="327.83" r="1.5" fill="#f8f8f8"/>
<ellipse cx="897.07" cy="327.83" rx="2.50" ry="2.38" fill="#ededed"/>
<rect x="246.05" y="278.35" width="450.20" height="59.10" fill="none" stroke="#231f20" stroke-width="1.9"/>
<rect x="702.75" y="278.35" width="204.70" height="59.10" fill="none" stroke="#231f20" stroke-width="1.9"/>
<line x1="241.20" y1="287.97" x2="245.60" y2="287.97" stroke="#231f20" stroke-width="1.6" stroke-linecap="butt"/>
<text transform="translate(236.30,296.37) scale(0.8465,1)" text-anchor="end" font-size="20.2" font-weight="normal" xml:space="preserve"><tspan font-style="normal" fill="#2aa9db" stroke="#2aa9db" stroke-width="0.4">hu </tspan><tspan font-style="italic" fill="#2aa9db" stroke="#2aa9db" stroke-width="0.4">PTPRB</tspan></text>
<line x1="241.20" y1="307.90" x2="245.60" y2="307.90" stroke="#231f20" stroke-width="1.6" stroke-linecap="butt"/>
<text transform="translate(236.30,316.30) scale(0.8465,1)" text-anchor="end" font-size="20.2" font-weight="normal" xml:space="preserve"><tspan font-style="normal" fill="#231f20" stroke="#231f20" stroke-width="0.4">le </tspan><tspan font-style="italic" fill="#231f20" stroke="#231f20" stroke-width="0.4">PTPRB</tspan></text>
<line x1="241.20" y1="327.83" x2="245.60" y2="327.83" stroke="#231f20" stroke-width="1.6" stroke-linecap="butt"/>
<text transform="translate(236.30,336.23) scale(0.8465,1)" text-anchor="end" font-size="20.2" font-weight="normal" xml:space="preserve"><tspan font-style="normal" fill="#c4601e" stroke="#c4601e" stroke-width="0.4">ms </tspan><tspan font-style="italic" fill="#c4601e" stroke="#c4601e" stroke-width="0.4">Ptprb</tspan></text>
<ellipse cx="256.30" cy="356.13" rx="5.00" ry="4.75" fill="#d7d7d7"/>
<circle cx="276.77" cy="356.13" r="1.5" fill="#f8f8f8"/>
<ellipse cx="297.24" cy="356.13" rx="9.50" ry="9.03" fill="#787878"/>
<ellipse cx="317.71" cy="356.13" rx="9.50" ry="9.03" fill="#737373"/>
<ellipse cx="338.18" cy="356.13" rx="9.50" ry="9.03" fill="#696969"/>
<ellipse cx="358.65" cy="356.13" rx="10.00" ry="9.50" fill="#3c3c3c"/>
<ellipse cx="379.12" cy="356.13" rx="2.50" ry="2.38" fill="#e8e8e8"/>
<ellipse cx="399.59" cy="356.13" rx="2.50" ry="2.38" fill="#ededed"/>
<ellipse cx="420.06" cy="356.13" rx="4.00" ry="3.80" fill="#d7d7d7"/>
<ellipse cx="440.53" cy="356.13" rx="5.50" ry="5.22" fill="#c3c3c3"/>
<circle cx="461.00" cy="356.13" r="1.5" fill="#f8f8f8"/>
<circle cx="481.47" cy="356.13" r="1.5" fill="#f8f8f8"/>
<circle cx="501.94" cy="356.13" r="1.5" fill="#f8f8f8"/>
<circle cx="522.41" cy="356.13" r="1.5" fill="#f8f8f8"/>
<circle cx="542.88" cy="356.13" r="1.5" fill="#f8f8f8"/>
<circle cx="563.35" cy="356.13" r="1.5" fill="#f8f8f8"/>
<circle cx="583.82" cy="356.13" r="1.5" fill="#f8f8f8"/>
<circle cx="604.29" cy="356.13" r="1.5" fill="#f8f8f8"/>
<circle cx="624.76" cy="356.13" r="1.5" fill="#f8f8f8"/>
<circle cx="645.23" cy="356.13" r="1.5" fill="#f8f8f8"/>
<circle cx="665.70" cy="356.13" r="1.5" fill="#f8f8f8"/>
<circle cx="686.17" cy="356.13" r="1.5" fill="#f8f8f8"/>
<ellipse cx="712.75" cy="356.13" rx="10.25" ry="9.74" fill="#191919"/>
<ellipse cx="733.23" cy="356.13" rx="9.50" ry="9.03" fill="#414141"/>
<ellipse cx="753.71" cy="356.13" rx="6.50" ry="6.17" fill="#c3c3c3"/>
<ellipse cx="774.19" cy="356.13" rx="1.50" ry="1.42" fill="#f3f3f3"/>
<circle cx="794.67" cy="356.13" r="1.5" fill="#f8f8f8"/>
<ellipse cx="815.15" cy="356.13" rx="1.50" ry="1.42" fill="#f3f3f3"/>
<ellipse cx="835.63" cy="356.13" rx="4.50" ry="4.27" fill="#cdcdcd"/>
<circle cx="856.11" cy="356.13" r="1.5" fill="#f8f8f8"/>
<ellipse cx="876.59" cy="356.13" rx="2.50" ry="2.38" fill="#e8e8e8"/>
<ellipse cx="897.07" cy="356.13" rx="1.50" ry="1.42" fill="#f4f4f4"/>
<circle cx="256.30" cy="375.20" r="1.5" fill="#f8f8f8"/>
<circle cx="276.77" cy="375.20" r="1.5" fill="#f8f8f8"/>
<ellipse cx="297.24" cy="375.20" rx="8.00" ry="7.60" fill="#969696"/>
<ellipse cx="317.71" cy="375.20" rx="8.50" ry="8.07" fill="#8c8c8c"/>
<ellipse cx="338.18" cy="375.20" rx="9.00" ry="8.55" fill="#7d7d7d"/>
<ellipse cx="358.65" cy="375.20" rx="10.00" ry="9.50" fill="#6e6e6e"/>
<ellipse cx="379.12" cy="375.20" rx="10.00" ry="9.50" fill="#464646"/>
<circle cx="399.59" cy="375.20" r="1.5" fill="#f8f8f8"/>
<circle cx="420.06" cy="375.20" r="1.5" fill="#f8f8f8"/>
<ellipse cx="440.53" cy="375.20" rx="2.00" ry="1.90" fill="#ededed"/>
<circle cx="461.00" cy="375.20" r="1.5" fill="#f8f8f8"/>
<circle cx="481.47" cy="375.20" r="1.5" fill="#f8f8f8"/>
<circle cx="501.94" cy="375.20" r="1.5" fill="#f8f8f8"/>
<circle cx="522.41" cy="375.20" r="1.5" fill="#f8f8f8"/>
<circle cx="542.88" cy="375.20" r="1.5" fill="#f8f8f8"/>
<circle cx="563.35" cy="375.20" r="1.5" fill="#f8f8f8"/>
<circle cx="583.82" cy="375.20" r="1.5" fill="#f8f8f8"/>
<circle cx="604.29" cy="375.20" r="1.5" fill="#f8f8f8"/>
<circle cx="624.76" cy="375.20" r="1.5" fill="#f8f8f8"/>
<circle cx="645.23" cy="375.20" r="1.5" fill="#f8f8f8"/>
<circle cx="665.70" cy="375.20" r="1.5" fill="#f8f8f8"/>
<circle cx="686.17" cy="375.20" r="1.5" fill="#f8f8f8"/>
<ellipse cx="712.75" cy="375.20" rx="10.25" ry="9.74" fill="#696969"/>
<ellipse cx="733.23" cy="375.20" rx="9.50" ry="9.03" fill="#696969"/>
<ellipse cx="753.71" cy="375.20" rx="3.50" ry="3.32" fill="#e1e1e1"/>
<circle cx="774.19" cy="375.20" r="1.5" fill="#f8f8f8"/>
<ellipse cx="794.67" cy="375.20" rx="2.00" ry="1.90" fill="#dedede"/>
<circle cx="815.15" cy="375.20" r="1.5" fill="#f8f8f8"/>
<ellipse cx="835.63" cy="375.20" rx="2.50" ry="2.38" fill="#ededed"/>
<circle cx="856.11" cy="375.20" r="1.5" fill="#f8f8f8"/>
<circle cx="876.59" cy="375.20" r="1.5" fill="#f8f8f8"/>
<circle cx="897.07" cy="375.20" r="1.5" fill="#f8f8f8"/>
<circle cx="256.30" cy="394.27" r="1.5" fill="#f8f8f8"/>
<circle cx="276.77" cy="394.27" r="1.5" fill="#f8f8f8"/>
<ellipse cx="297.24" cy="394.27" rx="9.00" ry="8.55" fill="#5f5f5f"/>
<ellipse cx="317.71" cy="394.27" rx="10.25" ry="9.74" fill="#191919"/>
<ellipse cx="338.18" cy="394.27" rx="10.25" ry="9.74" fill="#323232"/>
<ellipse cx="358.65" cy="394.27" rx="10.25" ry="9.74" fill="#505050"/>
<ellipse cx="379.12" cy="394.27" rx="9.50" ry="9.03" fill="#464646"/>
<ellipse cx="399.59" cy="394.27" rx="3.00" ry="2.85" fill="#bebebe"/>
<circle cx="420.06" cy="394.27" r="1.5" fill="#f8f8f8"/>
<ellipse cx="440.53" cy="394.27" rx="2.00" ry="1.90" fill="#ededed"/>
<ellipse cx="461.00" cy="394.27" rx="3.00" ry="2.85" fill="#e6e6e6"/>
<ellipse cx="481.47" cy="394.27" rx="3.50" ry="3.32" fill="#e6e6e6"/>
<ellipse cx="501.94" cy="394.27" rx="2.50" ry="2.38" fill="#efefef"/>
<ellipse cx="522.41" cy="394.27" rx="2.00" ry="1.90" fill="#f3f3f3"/>
<ellipse cx="542.88" cy="394.27" rx="2.00" ry="1.90" fill="#f3f3f3"/>
<ellipse cx="563.35" cy="394.27" rx="2.00" ry="1.90" fill="#f3f3f3"/>
<circle cx="583.82" cy="394.27" r="1.5" fill="#f8f8f8"/>
<ellipse cx="604.29" cy="394.27" rx="2.00" ry="1.90" fill="#f3f3f3"/>
<ellipse cx="624.76" cy="394.27" rx="2.00" ry="1.90" fill="#f3f3f3"/>
<circle cx="645.23" cy="394.27" r="1.5" fill="#f8f8f8"/>
<circle cx="665.70" cy="394.27" r="1.5" fill="#f8f8f8"/>
<circle cx="686.17" cy="394.27" r="1.5" fill="#f8f8f8"/>
<ellipse cx="712.75" cy="394.27" rx="10.25" ry="9.74" fill="#191919"/>
<ellipse cx="733.23" cy="394.27" rx="10.00" ry="9.50" fill="#191919"/>
<ellipse cx="753.71" cy="394.27" rx="6.00" ry="5.70" fill="#aaaaaa"/>
<ellipse cx="774.19" cy="394.27" rx="5.00" ry="4.75" fill="#d7d7d7"/>
<ellipse cx="794.67" cy="394.27" rx="4.50" ry="4.27" fill="#d2d2d2"/>
<ellipse cx="815.15" cy="394.27" rx="3.50" ry="3.32" fill="#e1e1e1"/>
<ellipse cx="835.63" cy="394.27" rx="6.50" ry="6.17" fill="#a5a5a5"/>
<ellipse cx="856.11" cy="394.27" rx="5.50" ry="5.22" fill="#d7d7d7"/>
<ellipse cx="876.59" cy="394.27" rx="3.50" ry="3.32" fill="#e4e4e4"/>
<ellipse cx="897.07" cy="394.27" rx="6.00" ry="5.70" fill="#aaaaaa"/>
<rect x="246.05" y="346.95" width="450.20" height="56.50" fill="none" stroke="#231f20" stroke-width="1.9"/>
<rect x="702.75" y="346.95" width="204.70" height="56.50" fill="none" stroke="#231f20" stroke-width="1.9"/>
<line x1="241.20" y1="356.13" x2="245.60" y2="356.13" stroke="#231f20" stroke-width="1.6" stroke-linecap="butt"/>
<text transform="translate(236.30,364.53) scale(0.8465,1)" text-anchor="end" font-size="20.2" font-weight="normal" xml:space="preserve"><tspan font-style="normal" fill="#2aa9db" stroke="#2aa9db" stroke-width="0.4">hu </tspan><tspan font-style="italic" fill="#2aa9db" stroke="#2aa9db" stroke-width="0.4">AQP1</tspan></text>
<line x1="241.20" y1="375.20" x2="245.60" y2="375.20" stroke="#231f20" stroke-width="1.6" stroke-linecap="butt"/>
<text transform="translate(236.30,383.60) scale(0.8465,1)" text-anchor="end" font-size="20.2" font-weight="normal" xml:space="preserve"><tspan font-style="normal" fill="#231f20" stroke="#231f20" stroke-width="0.4">le </tspan><tspan font-style="italic" fill="#231f20" stroke="#231f20" stroke-width="0.4">AQP1</tspan></text>
<line x1="241.20" y1="394.27" x2="245.60" y2="394.27" stroke="#231f20" stroke-width="1.6" stroke-linecap="butt"/>
<text transform="translate(236.30,402.67) scale(0.8465,1)" text-anchor="end" font-size="20.2" font-weight="normal" xml:space="preserve"><tspan font-style="normal" fill="#c4601e" stroke="#c4601e" stroke-width="0.4">ms </tspan><tspan font-style="italic" fill="#c4601e" stroke="#c4601e" stroke-width="0.4">Aqp1</tspan></text>
<circle cx="256.30" cy="422.10" r="1.5" fill="#f8f8f8"/>
<circle cx="276.77" cy="422.10" r="1.5" fill="#f8f8f8"/>
<ellipse cx="297.24" cy="422.10" rx="4.50" ry="4.27" fill="#dcdcdc"/>
<circle cx="317.71" cy="422.10" r="1.5" fill="#f8f8f8"/>
<ellipse cx="338.18" cy="422.10" rx="4.50" ry="4.27" fill="#d7d7d7"/>
<ellipse cx="358.65" cy="422.10" rx="4.50" ry="4.27" fill="#d7d7d7"/>
<ellipse cx="379.12" cy="422.10" rx="3.00" ry="2.85" fill="#e1e1e1"/>
<circle cx="399.59" cy="422.10" r="1.5" fill="#f8f8f8"/>
<circle cx="420.06" cy="422.10" r="1.5" fill="#f8f8f8"/>
<circle cx="440.53" cy="422.10" r="1.5" fill="#f8f8f8"/>
<circle cx="461.00" cy="422.10" r="1.5" fill="#f8f8f8"/>
<circle cx="481.47" cy="422.10" r="1.5" fill="#f8f8f8"/>
<circle cx="501.94" cy="422.10" r="1.5" fill="#f8f8f8"/>
<circle cx="522.41" cy="422.10" r="1.5" fill="#f8f8f8"/>
<circle cx="542.88" cy="422.10" r="1.5" fill="#f8f8f8"/>
<circle cx="563.35" cy="422.10" r="1.5" fill="#f8f8f8"/>
<circle cx="583.82" cy="422.10" r="1.5" fill="#f8f8f8"/>
<circle cx="604.29" cy="422.10" r="1.5" fill="#f8f8f8"/>
<circle cx="624.76" cy="422.10" r="1.5" fill="#f8f8f8"/>
<circle cx="645.23" cy="422.10" r="1.5" fill="#f8f8f8"/>
<circle cx="665.70" cy="422.10" r="1.5" fill="#f8f8f8"/>
<circle cx="686.17" cy="422.10" r="1.5" fill="#f8f8f8"/>
<ellipse cx="712.75" cy="422.10" rx="3.00" ry="2.85" fill="#e4e4e4"/>
<ellipse cx="733.23" cy="422.10" rx="6.50" ry="6.17" fill="#c3c3c3"/>
<circle cx="753.71" cy="422.10" r="1.5" fill="#f8f8f8"/>
<circle cx="774.19" cy="422.10" r="1.5" fill="#f8f8f8"/>
<circle cx="794.67" cy="422.10" r="1.5" fill="#f8f8f8"/>
<circle cx="815.15" cy="422.10" r="1.5" fill="#f8f8f8"/>
<ellipse cx="835.63" cy="422.10" rx="2.50" ry="2.38" fill="#ededed"/>
<circle cx="856.11" cy="422.10" r="1.5" fill="#f8f8f8"/>
<circle cx="876.59" cy="422.10" r="1.5" fill="#f8f8f8"/>
<circle cx="897.07" cy="422.10" r="1.5" fill="#f8f8f8"/>
<circle cx="256.30" cy="441.10" r="1.5" fill="#f8f8f8"/>
<circle cx="276.77" cy="441.10" r="1.5" fill="#f8f8f8"/>
<ellipse cx="297.24" cy="441.10" rx="7.00" ry="6.65" fill="#b9b9b9"/>
<circle cx="317.71" cy="441.10" r="1.5" fill="#f8f8f8"/>
<ellipse cx="338.18" cy="441.10" rx="5.50" ry="5.22" fill="#cdcdcd"/>
<ellipse cx="358.65" cy="441.10" rx="6.00" ry="5.70" fill="#d2d2d2"/>
<ellipse cx="379.12" cy="441.10" rx="4.00" ry="3.80" fill="#dcdcdc"/>
<circle cx="399.59" cy="441.10" r="1.5" fill="#f8f8f8"/>
<circle cx="420.06" cy="441.10" r="1.5" fill="#f8f8f8"/>
<circle cx="440.53" cy="441.10" r="1.5" fill="#f8f8f8"/>
<circle cx="461.00" cy="441.10" r="1.5" fill="#f8f8f8"/>
<circle cx="481.47" cy="441.10" r="1.5" fill="#f8f8f8"/>
<circle cx="501.94" cy="441.10" r="1.5" fill="#f8f8f8"/>
<circle cx="522.41" cy="441.10" r="1.5" fill="#f8f8f8"/>
<circle cx="542.88" cy="441.10" r="1.5" fill="#f8f8f8"/>
<circle cx="563.35" cy="441.10" r="1.5" fill="#f8f8f8"/>
<circle cx="583.82" cy="441.10" r="1.5" fill="#f8f8f8"/>
<circle cx="604.29" cy="441.10" r="1.5" fill="#f8f8f8"/>
<circle cx="624.76" cy="441.10" r="1.5" fill="#f8f8f8"/>
<circle cx="645.23" cy="441.10" r="1.5" fill="#f8f8f8"/>
<circle cx="665.70" cy="441.10" r="1.5" fill="#f8f8f8"/>
<circle cx="686.17" cy="441.10" r="1.5" fill="#f8f8f8"/>
<circle cx="712.75" cy="441.10" r="1.5" fill="#f8f8f8"/>
<ellipse cx="733.23" cy="441.10" rx="4.00" ry="3.80" fill="#dedede"/>
<circle cx="753.71" cy="441.10" r="1.5" fill="#f8f8f8"/>
<circle cx="774.19" cy="441.10" r="1.5" fill="#f8f8f8"/>
<circle cx="794.67" cy="441.10" r="1.5" fill="#f8f8f8"/>
<circle cx="815.15" cy="441.10" r="1.5" fill="#f8f8f8"/>
<circle cx="835.63" cy="441.10" r="1.5" fill="#f8f8f8"/>
<circle cx="856.11" cy="441.10" r="1.5" fill="#f8f8f8"/>
<circle cx="876.59" cy="441.10" r="1.5" fill="#f8f8f8"/>
<circle cx="897.07" cy="441.10" r="1.5" fill="#f8f8f8"/>
<circle cx="256.30" cy="460.10" r="1.5" fill="#f8f8f8"/>
<circle cx="276.77" cy="460.10" r="1.5" fill="#f8f8f8"/>
<ellipse cx="297.24" cy="460.10" rx="7.00" ry="6.65" fill="#c3c3c3"/>
<circle cx="317.71" cy="460.10" r="1.5" fill="#f8f8f8"/>
<ellipse cx="338.18" cy="460.10" rx="5.50" ry="5.22" fill="#d7d7d7"/>
<ellipse cx="358.65" cy="460.10" rx="4.50" ry="4.27" fill="#dedede"/>
<ellipse cx="379.12" cy="460.10" rx="4.00" ry="3.80" fill="#e1e1e1"/>
<circle cx="399.59" cy="460.10" r="1.5" fill="#f8f8f8"/>
<circle cx="420.06" cy="460.10" r="1.5" fill="#f8f8f8"/>
<circle cx="440.53" cy="460.10" r="1.5" fill="#f8f8f8"/>
<circle cx="461.00" cy="460.10" r="1.5" fill="#f8f8f8"/>
<circle cx="481.47" cy="460.10" r="1.5" fill="#f8f8f8"/>
<circle cx="501.94" cy="460.10" r="1.5" fill="#f8f8f8"/>
<circle cx="522.41" cy="460.10" r="1.5" fill="#f8f8f8"/>
<circle cx="542.88" cy="460.10" r="1.5" fill="#f8f8f8"/>
<circle cx="563.35" cy="460.10" r="1.5" fill="#f8f8f8"/>
<circle cx="583.82" cy="460.10" r="1.5" fill="#f8f8f8"/>
<circle cx="604.29" cy="460.10" r="1.5" fill="#f8f8f8"/>
<circle cx="624.76" cy="460.10" r="1.5" fill="#f8f8f8"/>
<circle cx="645.23" cy="460.10" r="1.5" fill="#f8f8f8"/>
<circle cx="665.70" cy="460.10" r="1.5" fill="#f8f8f8"/>
<circle cx="686.17" cy="460.10" r="1.5" fill="#f8f8f8"/>
<circle cx="712.75" cy="460.10" r="1.5" fill="#f8f8f8"/>
<ellipse cx="733.23" cy="460.10" rx="6.00" ry="5.70" fill="#cdcdcd"/>
<circle cx="753.71" cy="460.10" r="1.5" fill="#f8f8f8"/>
<circle cx="774.19" cy="460.10" r="1.5" fill="#f8f8f8"/>
<circle cx="794.67" cy="460.10" r="1.5" fill="#f8f8f8"/>
<circle cx="815.15" cy="460.10" r="1.5" fill="#f8f8f8"/>
<circle cx="835.63" cy="460.10" r="1.5" fill="#f8f8f8"/>
<circle cx="856.11" cy="460.10" r="1.5" fill="#f8f8f8"/>
<circle cx="876.59" cy="460.10" r="1.5" fill="#f8f8f8"/>
<circle cx="897.07" cy="460.10" r="1.5" fill="#f8f8f8"/>
<rect x="246.05" y="412.95" width="450.20" height="56.30" fill="none" stroke="#231f20" stroke-width="1.9"/>
<rect x="702.75" y="412.95" width="204.70" height="56.30" fill="none" stroke="#231f20" stroke-width="1.9"/>
<line x1="241.20" y1="422.10" x2="245.60" y2="422.10" stroke="#231f20" stroke-width="1.6" stroke-linecap="butt"/>
<text transform="translate(236.30,430.50) scale(0.8465,1)" text-anchor="end" font-size="20.2" font-weight="normal" xml:space="preserve"><tspan font-style="normal" fill="#2aa9db" stroke="#2aa9db" stroke-width="0.4">hu </tspan><tspan font-style="italic" fill="#2aa9db" stroke="#2aa9db" stroke-width="0.4">DLL4</tspan></text>
<line x1="241.20" y1="441.10" x2="245.60" y2="441.10" stroke="#231f20" stroke-width="1.6" stroke-linecap="butt"/>
<text transform="translate(236.30,449.50) scale(0.8465,1)" text-anchor="end" font-size="20.2" font-weight="normal" xml:space="preserve"><tspan font-style="normal" fill="#231f20" stroke="#231f20" stroke-width="0.4">le </tspan><tspan font-style="italic" fill="#231f20" stroke="#231f20" stroke-width="0.4">DLL4</tspan></text>
<line x1="241.20" y1="460.10" x2="245.60" y2="460.10" stroke="#231f20" stroke-width="1.6" stroke-linecap="butt"/>
<text transform="translate(236.30,468.50) scale(0.8465,1)" text-anchor="end" font-size="20.2" font-weight="normal" xml:space="preserve"><tspan font-style="normal" fill="#c4601e" stroke="#c4601e" stroke-width="0.4">ms </tspan><tspan font-style="italic" fill="#c4601e" stroke="#c4601e" stroke-width="0.4">Dll4</tspan></text>
<circle cx="256.30" cy="487.15" r="1.5" fill="#f8f8f8"/>
<circle cx="276.77" cy="487.15" r="1.5" fill="#f8f8f8"/>
<circle cx="297.24" cy="487.15" r="1.5" fill="#f8f8f8"/>
<circle cx="317.71" cy="487.15" r="1.5" fill="#f8f8f8"/>
<ellipse cx="338.18" cy="487.15" rx="3.50" ry="3.32" fill="#dcdcdc"/>
<ellipse cx="358.65" cy="487.15" rx="2.00" ry="1.90" fill="#ebebeb"/>
<circle cx="379.12" cy="487.15" r="1.5" fill="#f8f8f8"/>
<circle cx="399.59" cy="487.15" r="1.5" fill="#f8f8f8"/>
<circle cx="420.06" cy="487.15" r="1.5" fill="#f8f8f8"/>
<circle cx="440.53" cy="487.15" r="1.5" fill="#f8f8f8"/>
<circle cx="461.00" cy="487.15" r="1.5" fill="#f8f8f8"/>
<circle cx="481.47" cy="487.15" r="1.5" fill="#f8f8f8"/>
<circle cx="501.94" cy="487.15" r="1.5" fill="#f8f8f8"/>
<circle cx="522.41" cy="487.15" r="1.5" fill="#f8f8f8"/>
<circle cx="542.88" cy="487.15" r="1.5" fill="#f8f8f8"/>
<circle cx="563.35" cy="487.15" r="1.5" fill="#f8f8f8"/>
<circle cx="583.82" cy="487.15" r="1.5" fill="#f8f8f8"/>
<circle cx="604.29" cy="487.15" r="1.5" fill="#f8f8f8"/>
<circle cx="624.76" cy="487.15" r="1.5" fill="#f8f8f8"/>
<circle cx="645.23" cy="487.15" r="1.5" fill="#f8f8f8"/>
<circle cx="665.70" cy="487.15" r="1.5" fill="#f8f8f8"/>
<circle cx="686.17" cy="487.15" r="1.5" fill="#f8f8f8"/>
<ellipse cx="712.75" cy="487.15" rx="2.00" ry="1.90" fill="#efefef"/>
<ellipse cx="733.23" cy="487.15" rx="8.00" ry="7.60" fill="#a5a5a5"/>
<circle cx="753.71" cy="487.15" r="1.5" fill="#f8f8f8"/>
<circle cx="774.19" cy="487.15" r="1.5" fill="#f8f8f8"/>
<ellipse cx="794.67" cy="487.15" rx="5.00" ry="4.75" fill="#d2d2d2"/>
<circle cx="815.15" cy="487.15" r="1.5" fill="#f8f8f8"/>
<ellipse cx="835.63" cy="487.15" rx="3.00" ry="2.85" fill="#dadada"/>
<ellipse cx="856.11" cy="487.15" rx="2.50" ry="2.38" fill="#e5e5e5"/>
<circle cx="876.59" cy="487.15" r="1.5" fill="#f8f8f8"/>
<circle cx="897.07" cy="487.15" r="1.5" fill="#f8f8f8"/>
<circle cx="256.30" cy="506.25" r="1.5" fill="#f8f8f8"/>
<ellipse cx="276.77" cy="506.25" rx="3.50" ry="3.32" fill="#e4e4e4"/>
<ellipse cx="297.24" cy="506.25" rx="5.00" ry="4.75" fill="#d2d2d2"/>
<ellipse cx="317.71" cy="506.25" rx="6.00" ry="5.70" fill="#cdcdcd"/>
<ellipse cx="338.18" cy="506.25" rx="7.50" ry="7.12" fill="#afafaf"/>
<ellipse cx="358.65" cy="506.25" rx="9.50" ry="9.03" fill="#9b9b9b"/>
<ellipse cx="379.12" cy="506.25" rx="6.50" ry="6.17" fill="#c8c8c8"/>
<circle cx="399.59" cy="506.25" r="1.5" fill="#f8f8f8"/>
<ellipse cx="420.06" cy="506.25" rx="4.00" ry="3.80" fill="#dedede"/>
<circle cx="440.53" cy="506.25" r="1.5" fill="#f8f8f8"/>
<circle cx="461.00" cy="506.25" r="1.5" fill="#f8f8f8"/>
<circle cx="481.47" cy="506.25" r="1.5" fill="#f8f8f8"/>
<circle cx="501.94" cy="506.25" r="1.5" fill="#f8f8f8"/>
<circle cx="522.41" cy="506.25" r="1.5" fill="#f8f8f8"/>
<circle cx="542.88" cy="506.25" r="1.5" fill="#f8f8f8"/>
<circle cx="563.35" cy="506.25" r="1.5" fill="#f8f8f8"/>
<circle cx="583.82" cy="506.25" r="1.5" fill="#f8f8f8"/>
<circle cx="604.29" cy="506.25" r="1.5" fill="#f8f8f8"/>
<circle cx="624.76" cy="506.25" r="1.5" fill="#f8f8f8"/>
<circle cx="645.23" cy="506.25" r="1.5" fill="#f8f8f8"/>
<circle cx="665.70" cy="506.25" r="1.5" fill="#f8f8f8"/>
<circle cx="686.17" cy="506.25" r="1.5" fill="#f8f8f8"/>
<circle cx="712.75" cy="506.25" r="1.5" fill="#f8f8f8"/>
<ellipse cx="733.23" cy="506.25" rx="5.50" ry="5.22" fill="#d2d2d2"/>
<circle cx="753.71" cy="506.25" r="1.5" fill="#f8f8f8"/>
<circle cx="774.19" cy="506.25" r="1.5" fill="#f8f8f8"/>
<circle cx="794.67" cy="506.25" r="1.5" fill="#f8f8f8"/>
<circle cx="815.15" cy="506.25" r="1.5" fill="#f8f8f8"/>
<circle cx="835.63" cy="506.25" r="1.5" fill="#f8f8f8"/>
<circle cx="856.11" cy="506.25" r="1.5" fill="#f8f8f8"/>
<circle cx="876.59" cy="506.25" r="1.5" fill="#f8f8f8"/>
<circle cx="897.07" cy="506.25" r="1.5" fill="#f8f8f8"/>
<circle cx="256.30" cy="525.35" r="1.5" fill="#f8f8f8"/>
<ellipse cx="276.77" cy="525.35" rx="2.00" ry="1.90" fill="#efefef"/>
<ellipse cx="297.24" cy="525.35" rx="4.00" ry="3.80" fill="#e1e1e1"/>
<ellipse cx="317.71" cy="525.35" rx="5.50" ry="5.22" fill="#d7d7d7"/>
<ellipse cx="338.18" cy="525.35" rx="8.00" ry="7.60" fill="#b9b9b9"/>
<ellipse cx="358.65" cy="525.35" rx="9.50" ry="9.03" fill="#a5a5a5"/>
<ellipse cx="379.12" cy="525.35" rx="5.00" ry="4.75" fill="#dcdcdc"/>
<circle cx="399.59" cy="525.35" r="1.5" fill="#f8f8f8"/>
<circle cx="420.06" cy="525.35" r="1.5" fill="#f8f8f8"/>
<circle cx="440.53" cy="525.35" r="1.5" fill="#f8f8f8"/>
<circle cx="461.00" cy="525.35" r="1.5" fill="#f8f8f8"/>
<circle cx="481.47" cy="525.35" r="1.5" fill="#f8f8f8"/>
<circle cx="501.94" cy="525.35" r="1.5" fill="#f8f8f8"/>
<circle cx="522.41" cy="525.35" r="1.5" fill="#f8f8f8"/>
<circle cx="542.88" cy="525.35" r="1.5" fill="#f8f8f8"/>
<circle cx="563.35" cy="525.35" r="1.5" fill="#f8f8f8"/>
<circle cx="583.82" cy="525.35" r="1.5" fill="#f8f8f8"/>
<circle cx="604.29" cy="525.35" r="1.5" fill="#f8f8f8"/>
<circle cx="624.76" cy="525.35" r="1.5" fill="#f8f8f8"/>
<circle cx="645.23" cy="525.35" r="1.5" fill="#f8f8f8"/>
<circle cx="665.70" cy="525.35" r="1.5" fill="#f8f8f8"/>
<circle cx="686.17" cy="525.35" r="1.5" fill="#f8f8f8"/>
<ellipse cx="712.75" cy="525.35" rx="2.50" ry="2.38" fill="#ebebeb"/>
<ellipse cx="733.23" cy="525.35" rx="7.50" ry="7.12" fill="#bebebe"/>
<circle cx="753.71" cy="525.35" r="1.5" fill="#f8f8f8"/>
<circle cx="774.19" cy="525.35" r="1.5" fill="#f8f8f8"/>
<ellipse cx="794.67" cy="525.35" rx="2.00" ry="1.90" fill="#efefef"/>
<circle cx="815.15" cy="525.35" r="1.5" fill="#f8f8f8"/>
<circle cx="835.63" cy="525.35" r="1.5" fill="#f8f8f8"/>
<circle cx="856.11" cy="525.35" r="1.5" fill="#f8f8f8"/>
<circle cx="876.59" cy="525.35" r="1.5" fill="#f8f8f8"/>
<circle cx="897.07" cy="525.35" r="1.5" fill="#f8f8f8"/>
<rect x="246.05" y="477.95" width="450.20" height="56.60" fill="none" stroke="#231f20" stroke-width="1.9"/>
<rect x="702.75" y="477.95" width="204.70" height="56.60" fill="none" stroke="#231f20" stroke-width="1.9"/>
<line x1="241.20" y1="487.15" x2="245.60" y2="487.15" stroke="#231f20" stroke-width="1.6" stroke-linecap="butt"/>
<text transform="translate(236.30,495.55) scale(0.8465,1)" text-anchor="end" font-size="20.2" font-weight="normal" xml:space="preserve"><tspan font-style="normal" fill="#2aa9db" stroke="#2aa9db" stroke-width="0.4">hu </tspan><tspan font-style="italic" fill="#2aa9db" stroke="#2aa9db" stroke-width="0.4">CLIC5</tspan></text>
<line x1="241.20" y1="506.25" x2="245.60" y2="506.25" stroke="#231f20" stroke-width="1.6" stroke-linecap="butt"/>
<text transform="translate(236.30,514.65) scale(0.8465,1)" text-anchor="end" font-size="20.2" font-weight="normal" xml:space="preserve"><tspan font-style="normal" fill="#231f20" stroke="#231f20" stroke-width="0.4">le </tspan><tspan font-style="italic" fill="#231f20" stroke="#231f20" stroke-width="0.4">CLIC5</tspan></text>
<line x1="241.20" y1="525.35" x2="245.60" y2="525.35" stroke="#231f20" stroke-width="1.6" stroke-linecap="butt"/>
<text transform="translate(236.30,533.75) scale(0.8465,1)" text-anchor="end" font-size="20.2" font-weight="normal" xml:space="preserve"><tspan font-style="normal" fill="#c4601e" stroke="#c4601e" stroke-width="0.4">ms </tspan><tspan font-style="italic" fill="#c4601e" stroke="#c4601e" stroke-width="0.4">Clic5</tspan></text>
<circle cx="256.30" cy="551.65" r="1.5" fill="#f8f8f8"/>
<circle cx="276.77" cy="551.65" r="1.5" fill="#f8f8f8"/>
<circle cx="297.24" cy="551.65" r="1.5" fill="#f8f8f8"/>
<circle cx="317.71" cy="551.65" r="1.5" fill="#f8f8f8"/>
<circle cx="338.18" cy="551.65" r="1.5" fill="#f8f8f8"/>
<circle cx="358.65" cy="551.65" r="1.5" fill="#f8f8f8"/>
<circle cx="379.12" cy="551.65" r="1.5" fill="#f8f8f8"/>
<ellipse cx="399.59" cy="551.65" rx="4.50" ry="4.27" fill="#dadada"/>
<ellipse cx="420.06" cy="551.65" rx="5.50" ry="5.22" fill="#cdcdcd"/>
<circle cx="440.53" cy="551.65" r="1.5" fill="#f8f8f8"/>
<circle cx="461.00" cy="551.65" r="1.5" fill="#f8f8f8"/>
<circle cx="481.47" cy="551.65" r="1.5" fill="#f8f8f8"/>
<circle cx="501.94" cy="551.65" r="1.5" fill="#f8f8f8"/>
<circle cx="522.41" cy="551.65" r="1.5" fill="#f8f8f8"/>
<circle cx="542.88" cy="551.65" r="1.5" fill="#f8f8f8"/>
<circle cx="563.35" cy="551.65" r="1.5" fill="#f8f8f8"/>
<circle cx="583.82" cy="551.65" r="1.5" fill="#f8f8f8"/>
<circle cx="604.29" cy="551.65" r="1.5" fill="#f8f8f8"/>
<circle cx="624.76" cy="551.65" r="1.5" fill="#f8f8f8"/>
<circle cx="645.23" cy="551.65" r="1.5" fill="#f8f8f8"/>
<circle cx="665.70" cy="551.65" r="1.5" fill="#f8f8f8"/>
<circle cx="686.17" cy="551.65" r="1.5" fill="#f8f8f8"/>
<circle cx="712.75" cy="551.65" r="1.5" fill="#f8f8f8"/>
<circle cx="733.23" cy="551.65" r="1.5" fill="#f8f8f8"/>
<ellipse cx="753.71" cy="551.65" rx="5.00" ry="4.75" fill="#d4d4d4"/>
<circle cx="774.19" cy="551.65" r="1.5" fill="#f8f8f8"/>
<circle cx="794.67" cy="551.65" r="1.5" fill="#f8f8f8"/>
<ellipse cx="815.15" cy="551.65" rx="7.50" ry="7.12" fill="#b4b4b4"/>
<ellipse cx="835.63" cy="551.65" rx="2.00" ry="1.90" fill="#ededed"/>
<circle cx="856.11" cy="551.65" r="1.5" fill="#f8f8f8"/>
<circle cx="876.59" cy="551.65" r="1.5" fill="#f8f8f8"/>
<circle cx="897.07" cy="551.65" r="1.5" fill="#f8f8f8"/>
<circle cx="256.30" cy="570.75" r="1.5" fill="#f8f8f8"/>
<ellipse cx="276.77" cy="570.75" rx="3.00" ry="2.85" fill="#e4e4e4"/>
<circle cx="297.24" cy="570.75" r="1.5" fill="#f8f8f8"/>
<circle cx="317.71" cy="570.75" r="1.5" fill="#f8f8f8"/>
<circle cx="338.18" cy="570.75" r="1.5" fill="#f8f8f8"/>
<circle cx="358.65" cy="570.75" r="1.5" fill="#f8f8f8"/>
<circle cx="379.12" cy="570.75" r="1.5" fill="#f8f8f8"/>
<ellipse cx="399.59" cy="570.75" rx="6.50" ry="6.17" fill="#c8c8c8"/>
<ellipse cx="420.06" cy="570.75" rx="7.00" ry="6.65" fill="#c8c8c8"/>
<circle cx="440.53" cy="570.75" r="1.5" fill="#f8f8f8"/>
<circle cx="461.00" cy="570.75" r="1.5" fill="#f8f8f8"/>
<circle cx="481.47" cy="570.75" r="1.5" fill="#f8f8f8"/>
<circle cx="501.94" cy="570.75" r="1.5" fill="#f8f8f8"/>
<circle cx="522.41" cy="570.75" r="1.5" fill="#f8f8f8"/>
<circle cx="542.88" cy="570.75" r="1.5" fill="#f8f8f8"/>
<circle cx="563.35" cy="570.75" r="1.5" fill="#f8f8f8"/>
<circle cx="583.82" cy="570.75" r="1.5" fill="#f8f8f8"/>
<circle cx="604.29" cy="570.75" r="1.5" fill="#f8f8f8"/>
<circle cx="624.76" cy="570.75" r="1.5" fill="#f8f8f8"/>
<circle cx="645.23" cy="570.75" r="1.5" fill="#f8f8f8"/>
<circle cx="665.70" cy="570.75" r="1.5" fill="#f8f8f8"/>
<circle cx="686.17" cy="570.75" r="1.5" fill="#f8f8f8"/>
<circle cx="712.75" cy="570.75" r="1.5" fill="#f8f8f8"/>
<circle cx="733.23" cy="570.75" r="1.5" fill="#f8f8f8"/>
<ellipse cx="753.71" cy="570.75" rx="5.00" ry="4.75" fill="#d4d4d4"/>
<ellipse cx="774.19" cy="570.75" rx="2.50" ry="2.38" fill="#efefef"/>
<circle cx="794.67" cy="570.75" r="1.5" fill="#f8f8f8"/>
<ellipse cx="815.15" cy="570.75" rx="8.00" ry="7.60" fill="#b4b4b4"/>
<circle cx="835.63" cy="570.75" r="1.5" fill="#f8f8f8"/>
<circle cx="856.11" cy="570.75" r="1.5" fill="#f8f8f8"/>
<circle cx="876.59" cy="570.75" r="1.5" fill="#f8f8f8"/>
<circle cx="897.07" cy="570.75" r="1.5" fill="#f8f8f8"/>
<circle cx="256.30" cy="589.85" r="1.5" fill="#f8f8f8"/>
<circle cx="276.77" cy="589.85" r="1.5" fill="#f8f8f8"/>
<circle cx="297.24" cy="589.85" r="1.5" fill="#f8f8f8"/>
<circle cx="317.71" cy="589.85" r="1.5" fill="#f8f8f8"/>
<circle cx="338.18" cy="589.85" r="1.5" fill="#f8f8f8"/>
<circle cx="358.65" cy="589.85" r="1.5" fill="#f8f8f8"/>
<circle cx="379.12" cy="589.85" r="1.5" fill="#f8f8f8"/>
<ellipse cx="399.59" cy="589.85" rx="4.50" ry="4.27" fill="#dedede"/>
<ellipse cx="420.06" cy="589.85" rx="5.00" ry="4.75" fill="#d7d7d7"/>
<ellipse cx="440.53" cy="589.85" rx="3.00" ry="2.85" fill="#e1e1e1"/>
<circle cx="461.00" cy="589.85" r="1.5" fill="#f8f8f8"/>
<circle cx="481.47" cy="589.85" r="1.5" fill="#f8f8f8"/>
<circle cx="501.94" cy="589.85" r="1.5" fill="#f8f8f8"/>
<circle cx="522.41" cy="589.85" r="1.5" fill="#f8f8f8"/>
<circle cx="542.88" cy="589.85" r="1.5" fill="#f8f8f8"/>
<circle cx="563.35" cy="589.85" r="1.5" fill="#f8f8f8"/>
<circle cx="583.82" cy="589.85" r="1.5" fill="#f8f8f8"/>
<circle cx="604.29" cy="589.85" r="1.5" fill="#f8f8f8"/>
<circle cx="624.76" cy="589.85" r="1.5" fill="#f8f8f8"/>
<circle cx="645.23" cy="589.85" r="1.5" fill="#f8f8f8"/>
<circle cx="665.70" cy="589.85" r="1.5" fill="#f8f8f8"/>
<circle cx="686.17" cy="589.85" r="1.5" fill="#f8f8f8"/>
<circle cx="712.75" cy="589.85" r="1.5" fill="#f8f8f8"/>
<circle cx="733.23" cy="589.85" r="1.5" fill="#f8f8f8"/>
<ellipse cx="753.71" cy="589.85" rx="4.00" ry="3.80" fill="#dedede"/>
<circle cx="774.19" cy="589.85" r="1.5" fill="#f8f8f8"/>
<circle cx="794.67" cy="589.85" r="1.5" fill="#f8f8f8"/>
<ellipse cx="815.15" cy="589.85" rx="5.00" ry="4.75" fill="#d7d7d7"/>
<circle cx="835.63" cy="589.85" r="1.5" fill="#f8f8f8"/>
<circle cx="856.11" cy="589.85" r="1.5" fill="#f8f8f8"/>
<circle cx="876.59" cy="589.85" r="1.5" fill="#f8f8f8"/>
<circle cx="897.07" cy="589.85" r="1.5" fill="#f8f8f8"/>
<rect x="246.05" y="542.45" width="450.20" height="56.60" fill="none" stroke="#231f20" stroke-width="1.9"/>
<rect x="702.75" y="542.45" width="204.70" height="56.60" fill="none" stroke="#231f20" stroke-width="1.9"/>
<line x1="241.20" y1="551.65" x2="245.60" y2="551.65" stroke="#231f20" stroke-width="1.6" stroke-linecap="butt"/>
<text transform="translate(236.30,560.05) scale(0.8465,1)" text-anchor="end" font-size="20.2" font-weight="normal" xml:space="preserve"><tspan font-style="normal" fill="#2aa9db" stroke="#2aa9db" stroke-width="0.4">hu </tspan><tspan font-style="italic" fill="#2aa9db" stroke="#2aa9db" stroke-width="0.4">SVEP1</tspan></text>
<line x1="241.20" y1="570.75" x2="245.60" y2="570.75" stroke="#231f20" stroke-width="1.6" stroke-linecap="butt"/>
<text transform="translate(236.30,579.15) scale(0.8465,1)" text-anchor="end" font-size="20.2" font-weight="normal" xml:space="preserve"><tspan font-style="normal" fill="#231f20" stroke="#231f20" stroke-width="0.4">le </tspan><tspan font-style="italic" fill="#231f20" stroke="#231f20" stroke-width="0.4">SVEP1</tspan></text>
<line x1="241.20" y1="589.85" x2="245.60" y2="589.85" stroke="#231f20" stroke-width="1.6" stroke-linecap="butt"/>
<text transform="translate(236.30,598.25) scale(0.8465,1)" text-anchor="end" font-size="20.2" font-weight="normal" xml:space="preserve"><tspan font-style="normal" fill="#c4601e" stroke="#c4601e" stroke-width="0.4">ms </tspan><tspan font-style="italic" fill="#c4601e" stroke="#c4601e" stroke-width="0.4">Svep1</tspan></text>
<circle cx="256.30" cy="616.78" r="1.5" fill="#f8f8f8"/>
<circle cx="276.77" cy="616.78" r="1.5" fill="#f8f8f8"/>
<circle cx="297.24" cy="616.78" r="1.5" fill="#f8f8f8"/>
<circle cx="317.71" cy="616.78" r="1.5" fill="#f8f8f8"/>
<circle cx="338.18" cy="616.78" r="1.5" fill="#f8f8f8"/>
<circle cx="358.65" cy="616.78" r="1.5" fill="#f8f8f8"/>
<circle cx="379.12" cy="616.78" r="1.5" fill="#f8f8f8"/>
<ellipse cx="399.59" cy="616.78" rx="7.00" ry="6.65" fill="#aaaaaa"/>
<ellipse cx="420.06" cy="616.78" rx="9.50" ry="9.03" fill="#7d7d7d"/>
<ellipse cx="440.53" cy="616.78" rx="8.50" ry="8.07" fill="#8c8c8c"/>
<circle cx="461.00" cy="616.78" r="1.5" fill="#f8f8f8"/>
<circle cx="481.47" cy="616.78" r="1.5" fill="#f8f8f8"/>
<circle cx="501.94" cy="616.78" r="1.5" fill="#f8f8f8"/>
<circle cx="522.41" cy="616.78" r="1.5" fill="#f8f8f8"/>
<circle cx="542.88" cy="616.78" r="1.5" fill="#f8f8f8"/>
<circle cx="563.35" cy="616.78" r="1.5" fill="#f8f8f8"/>
<circle cx="583.82" cy="616.78" r="1.5" fill="#f8f8f8"/>
<circle cx="604.29" cy="616.78" r="1.5" fill="#f8f8f8"/>
<circle cx="624.76" cy="616.78" r="1.5" fill="#f8f8f8"/>
<circle cx="645.23" cy="616.78" r="1.5" fill="#f8f8f8"/>
<circle cx="665.70" cy="616.78" r="1.5" fill="#f8f8f8"/>
<circle cx="686.17" cy="616.78" r="1.5" fill="#f8f8f8"/>
<circle cx="712.75" cy="616.78" r="1.5" fill="#f8f8f8"/>
<circle cx="733.23" cy="616.78" r="1.5" fill="#f8f8f8"/>
<circle cx="753.71" cy="616.78" r="1.5" fill="#f8f8f8"/>
<circle cx="774.19" cy="616.78" r="1.5" fill="#f8f8f8"/>
<circle cx="794.67" cy="616.78" r="1.5" fill="#f8f8f8"/>
<circle cx="815.15" cy="616.78" r="1.5" fill="#f8f8f8"/>
<ellipse cx="835.63" cy="616.78" rx="2.00" ry="1.90" fill="#ebebeb"/>
<circle cx="856.11" cy="616.78" r="1.5" fill="#f8f8f8"/>
<circle cx="876.59" cy="616.78" r="1.5" fill="#f8f8f8"/>
<circle cx="897.07" cy="616.78" r="1.5" fill="#f8f8f8"/>
<circle cx="256.30" cy="635.95" r="1.5" fill="#f8f8f8"/>
<circle cx="276.77" cy="635.95" r="1.5" fill="#f8f8f8"/>
<circle cx="297.24" cy="635.95" r="1.5" fill="#f8f8f8"/>
<circle cx="317.71" cy="635.95" r="1.5" fill="#f8f8f8"/>
<circle cx="338.18" cy="635.95" r="1.5" fill="#f8f8f8"/>
<circle cx="358.65" cy="635.95" r="1.5" fill="#f8f8f8"/>
<circle cx="379.12" cy="635.95" r="1.5" fill="#f8f8f8"/>
<ellipse cx="399.59" cy="635.95" rx="8.00" ry="7.60" fill="#aaaaaa"/>
<ellipse cx="420.06" cy="635.95" rx="10.00" ry="9.50" fill="#5a5a5a"/>
<ellipse cx="440.53" cy="635.95" rx="8.50" ry="8.07" fill="#aaaaaa"/>
<circle cx="461.00" cy="635.95" r="1.5" fill="#f8f8f8"/>
<circle cx="481.47" cy="635.95" r="1.5" fill="#f8f8f8"/>
<circle cx="501.94" cy="635.95" r="1.5" fill="#f8f8f8"/>
<circle cx="522.41" cy="635.95" r="1.5" fill="#f8f8f8"/>
<circle cx="542.88" cy="635.95" r="1.5" fill="#f8f8f8"/>
<circle cx="563.35" cy="635.95" r="1.5" fill="#f8f8f8"/>
<circle cx="583.82" cy="635.95" r="1.5" fill="#f8f8f8"/>
<circle cx="604.29" cy="635.95" r="1.5" fill="#f8f8f8"/>
<circle cx="624.76" cy="635.95" r="1.5" fill="#f8f8f8"/>
<circle cx="645.23" cy="635.95" r="1.5" fill="#f8f8f8"/>
<circle cx="665.70" cy="635.95" r="1.5" fill="#f8f8f8"/>
<circle cx="686.17" cy="635.95" r="1.5" fill="#f8f8f8"/>
<circle cx="712.75" cy="635.95" r="1.5" fill="#f8f8f8"/>
<circle cx="733.23" cy="635.95" r="1.5" fill="#f8f8f8"/>
<circle cx="753.71" cy="635.95" r="1.5" fill="#f8f8f8"/>
<circle cx="774.19" cy="635.95" r="1.5" fill="#f8f8f8"/>
<circle cx="794.67" cy="635.95" r="1.5" fill="#f8f8f8"/>
<circle cx="815.15" cy="635.95" r="1.5" fill="#f8f8f8"/>
<circle cx="835.63" cy="635.95" r="1.5" fill="#f8f8f8"/>
<circle cx="856.11" cy="635.95" r="1.5" fill="#f8f8f8"/>
<circle cx="876.59" cy="635.95" r="1.5" fill="#f8f8f8"/>
<circle cx="897.07" cy="635.95" r="1.5" fill="#f8f8f8"/>
<circle cx="256.30" cy="655.12" r="1.5" fill="#f8f8f8"/>
<circle cx="276.77" cy="655.12" r="1.5" fill="#f8f8f8"/>
<circle cx="297.24" cy="655.12" r="1.5" fill="#f8f8f8"/>
<circle cx="317.71" cy="655.12" r="1.5" fill="#f8f8f8"/>
<circle cx="338.18" cy="655.12" r="1.5" fill="#f8f8f8"/>
<circle cx="358.65" cy="655.12" r="1.5" fill="#f8f8f8"/>
<circle cx="379.12" cy="655.12" r="1.5" fill="#f8f8f8"/>
<ellipse cx="399.59" cy="655.12" rx="7.50" ry="7.12" fill="#b9b9b9"/>
<ellipse cx="420.06" cy="655.12" rx="9.50" ry="9.03" fill="#7d7d7d"/>
<ellipse cx="440.53" cy="655.12" rx="8.50" ry="8.07" fill="#b4b4b4"/>
<circle cx="461.00" cy="655.12" r="1.5" fill="#f8f8f8"/>
<circle cx="481.47" cy="655.12" r="1.5" fill="#f8f8f8"/>
<circle cx="501.94" cy="655.12" r="1.5" fill="#f8f8f8"/>
<circle cx="522.41" cy="655.12" r="1.5" fill="#f8f8f8"/>
<circle cx="542.88" cy="655.12" r="1.5" fill="#f8f8f8"/>
<circle cx="563.35" cy="655.12" r="1.5" fill="#f8f8f8"/>
<circle cx="583.82" cy="655.12" r="1.5" fill="#f8f8f8"/>
<circle cx="604.29" cy="655.12" r="1.5" fill="#f8f8f8"/>
<circle cx="624.76" cy="655.12" r="1.5" fill="#f8f8f8"/>
<circle cx="645.23" cy="655.12" r="1.5" fill="#f8f8f8"/>
<circle cx="665.70" cy="655.12" r="1.5" fill="#f8f8f8"/>
<circle cx="686.17" cy="655.12" r="1.5" fill="#f8f8f8"/>
<circle cx="712.75" cy="655.12" r="1.5" fill="#f8f8f8"/>
<circle cx="733.23" cy="655.12" r="1.5" fill="#f8f8f8"/>
<circle cx="753.71" cy="655.12" r="1.5" fill="#f8f8f8"/>
<circle cx="774.19" cy="655.12" r="1.5" fill="#f8f8f8"/>
<circle cx="794.67" cy="655.12" r="1.5" fill="#f8f8f8"/>
<circle cx="815.15" cy="655.12" r="1.5" fill="#f8f8f8"/>
<circle cx="835.63" cy="655.12" r="1.5" fill="#f8f8f8"/>
<circle cx="856.11" cy="655.12" r="1.5" fill="#f8f8f8"/>
<circle cx="876.59" cy="655.12" r="1.5" fill="#f8f8f8"/>
<circle cx="897.07" cy="655.12" r="1.5" fill="#f8f8f8"/>
<rect x="246.05" y="607.55" width="450.20" height="56.80" fill="none" stroke="#231f20" stroke-width="1.9"/>
<rect x="702.75" y="607.55" width="204.70" height="56.80" fill="none" stroke="#231f20" stroke-width="1.9"/>
<line x1="241.20" y1="616.78" x2="245.60" y2="616.78" stroke="#231f20" stroke-width="1.6" stroke-linecap="butt"/>
<text transform="translate(236.30,625.18) scale(0.8465,1)" text-anchor="end" font-size="20.2" font-weight="normal" xml:space="preserve"><tspan font-style="normal" fill="#2aa9db" stroke="#2aa9db" stroke-width="0.4">hu </tspan><tspan font-style="italic" fill="#2aa9db" stroke="#2aa9db" stroke-width="0.4">TCF21</tspan></text>
<line x1="241.20" y1="635.95" x2="245.60" y2="635.95" stroke="#231f20" stroke-width="1.6" stroke-linecap="butt"/>
<text transform="translate(236.30,644.35) scale(0.8465,1)" text-anchor="end" font-size="20.2" font-weight="normal" xml:space="preserve"><tspan font-style="normal" fill="#231f20" stroke="#231f20" stroke-width="0.4">le </tspan><tspan font-style="italic" fill="#231f20" stroke="#231f20" stroke-width="0.4">TCF21</tspan></text>
<line x1="241.20" y1="655.12" x2="245.60" y2="655.12" stroke="#231f20" stroke-width="1.6" stroke-linecap="butt"/>
<text transform="translate(236.30,663.52) scale(0.8465,1)" text-anchor="end" font-size="20.2" font-weight="normal" xml:space="preserve"><tspan font-style="normal" fill="#c4601e" stroke="#c4601e" stroke-width="0.4">ms </tspan><tspan font-style="italic" fill="#c4601e" stroke="#c4601e" stroke-width="0.4">Tcf21</tspan></text>
<circle cx="256.30" cy="682.77" r="1.5" fill="#f8f8f8"/>
<circle cx="276.77" cy="682.77" r="1.5" fill="#f8f8f8"/>
<circle cx="297.24" cy="682.77" r="1.5" fill="#f8f8f8"/>
<circle cx="317.71" cy="682.77" r="1.5" fill="#f8f8f8"/>
<circle cx="338.18" cy="682.77" r="1.5" fill="#f8f8f8"/>
<circle cx="358.65" cy="682.77" r="1.5" fill="#f8f8f8"/>
<circle cx="379.12" cy="682.77" r="1.5" fill="#f8f8f8"/>
<circle cx="399.59" cy="682.77" r="1.5" fill="#f8f8f8"/>
<circle cx="420.06" cy="682.77" r="1.5" fill="#f8f8f8"/>
<ellipse cx="440.53" cy="682.77" rx="10.00" ry="9.50" fill="#464646"/>
<circle cx="461.00" cy="682.77" r="1.5" fill="#f8f8f8"/>
<circle cx="481.47" cy="682.77" r="1.5" fill="#f8f8f8"/>
<circle cx="501.94" cy="682.77" r="1.5" fill="#f8f8f8"/>
<circle cx="522.41" cy="682.77" r="1.5" fill="#f8f8f8"/>
<circle cx="542.88" cy="682.77" r="1.5" fill="#f8f8f8"/>
<circle cx="563.35" cy="682.77" r="1.5" fill="#f8f8f8"/>
<circle cx="583.82" cy="682.77" r="1.5" fill="#f8f8f8"/>
<circle cx="604.29" cy="682.77" r="1.5" fill="#f8f8f8"/>
<circle cx="624.76" cy="682.77" r="1.5" fill="#f8f8f8"/>
<circle cx="645.23" cy="682.77" r="1.5" fill="#f8f8f8"/>
<circle cx="665.70" cy="682.77" r="1.5" fill="#f8f8f8"/>
<circle cx="686.17" cy="682.77" r="1.5" fill="#f8f8f8"/>
<circle cx="712.75" cy="682.77" r="1.5" fill="#f8f8f8"/>
<ellipse cx="733.23" cy="682.77" rx="4.00" ry="3.80" fill="#dadada"/>
<circle cx="753.71" cy="682.77" r="1.5" fill="#f8f8f8"/>
<circle cx="774.19" cy="682.77" r="1.5" fill="#f8f8f8"/>
<circle cx="794.67" cy="682.77" r="1.5" fill="#f8f8f8"/>
<circle cx="815.15" cy="682.77" r="1.5" fill="#f8f8f8"/>
<ellipse cx="835.63" cy="682.77" rx="10.00" ry="9.50" fill="#5f5f5f"/>
<circle cx="856.11" cy="682.77" r="1.5" fill="#f8f8f8"/>
<circle cx="876.59" cy="682.77" r="1.5" fill="#f8f8f8"/>
<circle cx="897.07" cy="682.77" r="1.5" fill="#f8f8f8"/>
<circle cx="256.30" cy="701.70" r="1.5" fill="#f8f8f8"/>
<circle cx="276.77" cy="701.70" r="1.5" fill="#f8f8f8"/>
<circle cx="297.24" cy="701.70" r="1.5" fill="#f8f8f8"/>
<circle cx="317.71" cy="701.70" r="1.5" fill="#f8f8f8"/>
<circle cx="338.18" cy="701.70" r="1.5" fill="#f8f8f8"/>
<circle cx="358.65" cy="701.70" r="1.5" fill="#f8f8f8"/>
<circle cx="379.12" cy="701.70" r="1.5" fill="#f8f8f8"/>
<circle cx="399.59" cy="701.70" r="1.5" fill="#f8f8f8"/>
<circle cx="420.06" cy="701.70" r="1.5" fill="#f8f8f8"/>
<ellipse cx="440.53" cy="701.70" rx="10.00" ry="9.50" fill="#505050"/>
<circle cx="461.00" cy="701.70" r="1.5" fill="#f8f8f8"/>
<circle cx="481.47" cy="701.70" r="1.5" fill="#f8f8f8"/>
<circle cx="501.94" cy="701.70" r="1.5" fill="#f8f8f8"/>
<circle cx="522.41" cy="701.70" r="1.5" fill="#f8f8f8"/>
<circle cx="542.88" cy="701.70" r="1.5" fill="#f8f8f8"/>
<circle cx="563.35" cy="701.70" r="1.5" fill="#f8f8f8"/>
<circle cx="583.82" cy="701.70" r="1.5" fill="#f8f8f8"/>
<circle cx="604.29" cy="701.70" r="1.5" fill="#f8f8f8"/>
<circle cx="624.76" cy="701.70" r="1.5" fill="#f8f8f8"/>
<circle cx="645.23" cy="701.70" r="1.5" fill="#f8f8f8"/>
<circle cx="665.70" cy="701.70" r="1.5" fill="#f8f8f8"/>
<circle cx="686.17" cy="701.70" r="1.5" fill="#f8f8f8"/>
<circle cx="712.75" cy="701.70" r="1.5" fill="#f8f8f8"/>
<circle cx="733.23" cy="701.70" r="1.5" fill="#f8f8f8"/>
<circle cx="753.71" cy="701.70" r="1.5" fill="#f8f8f8"/>
<circle cx="774.19" cy="701.70" r="1.5" fill="#f8f8f8"/>
<circle cx="794.67" cy="701.70" r="1.5" fill="#f8f8f8"/>
<circle cx="815.15" cy="701.70" r="1.5" fill="#f8f8f8"/>
<ellipse cx="835.63" cy="701.70" rx="9.00" ry="8.55" fill="#969696"/>
<circle cx="856.11" cy="701.70" r="1.5" fill="#f8f8f8"/>
<circle cx="876.59" cy="701.70" r="1.5" fill="#f8f8f8"/>
<circle cx="897.07" cy="701.70" r="1.5" fill="#f8f8f8"/>
<circle cx="256.30" cy="720.63" r="1.5" fill="#f8f8f8"/>
<circle cx="276.77" cy="720.63" r="1.5" fill="#f8f8f8"/>
<circle cx="297.24" cy="720.63" r="1.5" fill="#f8f8f8"/>
<circle cx="317.71" cy="720.63" r="1.5" fill="#f8f8f8"/>
<circle cx="338.18" cy="720.63" r="1.5" fill="#f8f8f8"/>
<circle cx="358.65" cy="720.63" r="1.5" fill="#f8f8f8"/>
<circle cx="379.12" cy="720.63" r="1.5" fill="#f8f8f8"/>
<circle cx="399.59" cy="720.63" r="1.5" fill="#f8f8f8"/>
<circle cx="420.06" cy="720.63" r="1.5" fill="#f8f8f8"/>
<ellipse cx="440.53" cy="720.63" rx="10.25" ry="9.74" fill="#414141"/>
<circle cx="461.00" cy="720.63" r="1.5" fill="#f8f8f8"/>
<circle cx="481.47" cy="720.63" r="1.5" fill="#f8f8f8"/>
<circle cx="501.94" cy="720.63" r="1.5" fill="#f8f8f8"/>
<circle cx="522.41" cy="720.63" r="1.5" fill="#f8f8f8"/>
<circle cx="542.88" cy="720.63" r="1.5" fill="#f8f8f8"/>
<circle cx="563.35" cy="720.63" r="1.5" fill="#f8f8f8"/>
<circle cx="583.82" cy="720.63" r="1.5" fill="#f8f8f8"/>
<circle cx="604.29" cy="720.63" r="1.5" fill="#f8f8f8"/>
<circle cx="624.76" cy="720.63" r="1.5" fill="#f8f8f8"/>
<circle cx="645.23" cy="720.63" r="1.5" fill="#f8f8f8"/>
<circle cx="665.70" cy="720.63" r="1.5" fill="#f8f8f8"/>
<circle cx="686.17" cy="720.63" r="1.5" fill="#f8f8f8"/>
<circle cx="712.75" cy="720.63" r="1.5" fill="#f8f8f8"/>
<circle cx="733.23" cy="720.63" r="1.5" fill="#f8f8f8"/>
<circle cx="753.71" cy="720.63" r="1.5" fill="#f8f8f8"/>
<circle cx="774.19" cy="720.63" r="1.5" fill="#f8f8f8"/>
<circle cx="794.67" cy="720.63" r="1.5" fill="#f8f8f8"/>
<circle cx="815.15" cy="720.63" r="1.5" fill="#f8f8f8"/>
<ellipse cx="835.63" cy="720.63" rx="9.50" ry="9.03" fill="#787878"/>
<circle cx="856.11" cy="720.63" r="1.5" fill="#f8f8f8"/>
<circle cx="876.59" cy="720.63" r="1.5" fill="#f8f8f8"/>
<circle cx="897.07" cy="720.63" r="1.5" fill="#f8f8f8"/>
<rect x="246.05" y="673.65" width="450.20" height="56.10" fill="none" stroke="#231f20" stroke-width="1.9"/>
<rect x="702.75" y="673.65" width="204.70" height="56.10" fill="none" stroke="#231f20" stroke-width="1.9"/>
<line x1="241.20" y1="682.77" x2="245.60" y2="682.77" stroke="#231f20" stroke-width="1.6" stroke-linecap="butt"/>
<text transform="translate(236.30,691.17) scale(0.8465,1)" text-anchor="end" font-size="20.2" font-weight="normal" xml:space="preserve"><tspan font-style="normal" fill="#2aa9db" stroke="#2aa9db" stroke-width="0.4">hu </tspan><tspan font-style="italic" fill="#2aa9db" stroke="#2aa9db" stroke-width="0.4">HIGD1B</tspan></text>
<line x1="241.20" y1="701.70" x2="245.60" y2="701.70" stroke="#231f20" stroke-width="1.6" stroke-linecap="butt"/>
<text transform="translate(236.30,710.10) scale(0.8465,1)" text-anchor="end" font-size="20.2" font-weight="normal" xml:space="preserve"><tspan font-style="normal" fill="#231f20" stroke="#231f20" stroke-width="0.4">le </tspan><tspan font-style="italic" fill="#231f20" stroke="#231f20" stroke-width="0.4">HIGD1B</tspan></text>
<line x1="241.20" y1="720.63" x2="245.60" y2="720.63" stroke="#231f20" stroke-width="1.6" stroke-linecap="butt"/>
<text transform="translate(236.30,729.03) scale(0.8465,1)" text-anchor="end" font-size="20.2" font-weight="normal" xml:space="preserve"><tspan font-style="normal" fill="#c4601e" stroke="#c4601e" stroke-width="0.4">ms </tspan><tspan font-style="italic" fill="#c4601e" stroke="#c4601e" stroke-width="0.4">Higd1b</tspan></text>
<circle cx="256.30" cy="748.40" r="1.5" fill="#f8f8f8"/>
<circle cx="276.77" cy="748.40" r="1.5" fill="#f8f8f8"/>
<circle cx="297.24" cy="748.40" r="1.5" fill="#f8f8f8"/>
<circle cx="317.71" cy="748.40" r="1.5" fill="#f8f8f8"/>
<circle cx="338.18" cy="748.40" r="1.5" fill="#f8f8f8"/>
<circle cx="358.65" cy="748.40" r="1.5" fill="#f8f8f8"/>
<circle cx="379.12" cy="748.40" r="1.5" fill="#f8f8f8"/>
<circle cx="399.59" cy="748.40" r="1.5" fill="#f8f8f8"/>
<circle cx="420.06" cy="748.40" r="1.5" fill="#f8f8f8"/>
<circle cx="440.53" cy="748.40" r="1.5" fill="#f8f8f8"/>
<ellipse cx="461.00" cy="748.40" rx="8.00" ry="7.60" fill="#b4b4b4"/>
<circle cx="481.47" cy="748.40" r="1.5" fill="#f8f8f8"/>
<circle cx="501.94" cy="748.40" r="1.5" fill="#f8f8f8"/>
<circle cx="522.41" cy="748.40" r="1.5" fill="#f8f8f8"/>
<circle cx="542.88" cy="748.40" r="1.5" fill="#f8f8f8"/>
<circle cx="563.35" cy="748.40" r="1.5" fill="#f8f8f8"/>
<circle cx="583.82" cy="748.40" r="1.5" fill="#f8f8f8"/>
<circle cx="604.29" cy="748.40" r="1.5" fill="#f8f8f8"/>
<circle cx="624.76" cy="748.40" r="1.5" fill="#f8f8f8"/>
<circle cx="645.23" cy="748.40" r="1.5" fill="#f8f8f8"/>
<circle cx="665.70" cy="748.40" r="1.5" fill="#f8f8f8"/>
<circle cx="686.17" cy="748.40" r="1.5" fill="#f8f8f8"/>
<circle cx="712.75" cy="748.40" r="1.5" fill="#f8f8f8"/>
<circle cx="733.23" cy="748.40" r="1.5" fill="#f8f8f8"/>
<circle cx="753.71" cy="748.40" r="1.5" fill="#f8f8f8"/>
<circle cx="774.19" cy="748.40" r="1.5" fill="#f8f8f8"/>
<circle cx="794.67" cy="748.40" r="1.5" fill="#f8f8f8"/>
<circle cx="815.15" cy="748.40" r="1.5" fill="#f8f8f8"/>
<circle cx="835.63" cy="748.40" r="1.5" fill="#f8f8f8"/>
<circle cx="856.11" cy="748.40" r="1.5" fill="#f8f8f8"/>
<circle cx="876.59" cy="748.40" r="1.5" fill="#f8f8f8"/>
<circle cx="897.07" cy="748.40" r="1.5" fill="#f8f8f8"/>
<circle cx="256.30" cy="767.40" r="1.5" fill="#f8f8f8"/>
<circle cx="276.77" cy="767.40" r="1.5" fill="#f8f8f8"/>
<circle cx="297.24" cy="767.40" r="1.5" fill="#f8f8f8"/>
<circle cx="317.71" cy="767.40" r="1.5" fill="#f8f8f8"/>
<circle cx="338.18" cy="767.40" r="1.5" fill="#f8f8f8"/>
<circle cx="358.65" cy="767.40" r="1.5" fill="#f8f8f8"/>
<circle cx="379.12" cy="767.40" r="1.5" fill="#f8f8f8"/>
<circle cx="399.59" cy="767.40" r="1.5" fill="#f8f8f8"/>
<circle cx="420.06" cy="767.40" r="1.5" fill="#f8f8f8"/>
<circle cx="440.53" cy="767.40" r="1.5" fill="#f8f8f8"/>
<ellipse cx="461.00" cy="767.40" rx="6.00" ry="5.70" fill="#cdcdcd"/>
<circle cx="481.47" cy="767.40" r="1.5" fill="#f8f8f8"/>
<circle cx="501.94" cy="767.40" r="1.5" fill="#f8f8f8"/>
<circle cx="522.41" cy="767.40" r="1.5" fill="#f8f8f8"/>
<circle cx="542.88" cy="767.40" r="1.5" fill="#f8f8f8"/>
<circle cx="563.35" cy="767.40" r="1.5" fill="#f8f8f8"/>
<circle cx="583.82" cy="767.40" r="1.5" fill="#f8f8f8"/>
<circle cx="604.29" cy="767.40" r="1.5" fill="#f8f8f8"/>
<circle cx="624.76" cy="767.40" r="1.5" fill="#f8f8f8"/>
<circle cx="645.23" cy="767.40" r="1.5" fill="#f8f8f8"/>
<ellipse cx="665.70" cy="767.40" rx="2.00" ry="1.90" fill="#ededed"/>
<ellipse cx="686.17" cy="767.40" rx="2.00" ry="1.90" fill="#ededed"/>
<circle cx="712.75" cy="767.40" r="1.5" fill="#f8f8f8"/>
<circle cx="733.23" cy="767.40" r="1.5" fill="#f8f8f8"/>
<circle cx="753.71" cy="767.40" r="1.5" fill="#f8f8f8"/>
<circle cx="774.19" cy="767.40" r="1.5" fill="#f8f8f8"/>
<circle cx="794.67" cy="767.40" r="1.5" fill="#f8f8f8"/>
<circle cx="815.15" cy="767.40" r="1.5" fill="#f8f8f8"/>
<circle cx="835.63" cy="767.40" r="1.5" fill="#f8f8f8"/>
<circle cx="856.11" cy="767.40" r="1.5" fill="#f8f8f8"/>
<circle cx="876.59" cy="767.40" r="1.5" fill="#f8f8f8"/>
<circle cx="897.07" cy="767.40" r="1.5" fill="#f8f8f8"/>
<circle cx="256.30" cy="786.40" r="1.5" fill="#f8f8f8"/>
<circle cx="276.77" cy="786.40" r="1.5" fill="#f8f8f8"/>
<circle cx="297.24" cy="786.40" r="1.5" fill="#f8f8f8"/>
<circle cx="317.71" cy="786.40" r="1.5" fill="#f8f8f8"/>
<circle cx="338.18" cy="786.40" r="1.5" fill="#f8f8f8"/>
<circle cx="358.65" cy="786.40" r="1.5" fill="#f8f8f8"/>
<circle cx="379.12" cy="786.40" r="1.5" fill="#f8f8f8"/>
<circle cx="399.59" cy="786.40" r="1.5" fill="#f8f8f8"/>
<circle cx="420.06" cy="786.40" r="1.5" fill="#f8f8f8"/>
<circle cx="440.53" cy="786.40" r="1.5" fill="#f8f8f8"/>
<ellipse cx="461.00" cy="786.40" rx="7.50" ry="7.12" fill="#bebebe"/>
<circle cx="481.47" cy="786.40" r="1.5" fill="#f8f8f8"/>
<circle cx="501.94" cy="786.40" r="1.5" fill="#f8f8f8"/>
<circle cx="522.41" cy="786.40" r="1.5" fill="#f8f8f8"/>
<circle cx="542.88" cy="786.40" r="1.5" fill="#f8f8f8"/>
<circle cx="563.35" cy="786.40" r="1.5" fill="#f8f8f8"/>
<circle cx="583.82" cy="786.40" r="1.5" fill="#f8f8f8"/>
<circle cx="604.29" cy="786.40" r="1.5" fill="#f8f8f8"/>
<circle cx="624.76" cy="786.40" r="1.5" fill="#f8f8f8"/>
<circle cx="645.23" cy="786.40" r="1.5" fill="#f8f8f8"/>
<circle cx="665.70" cy="786.40" r="1.5" fill="#f8f8f8"/>
<circle cx="686.17" cy="786.40" r="1.5" fill="#f8f8f8"/>
<circle cx="712.75" cy="786.40" r="1.5" fill="#f8f8f8"/>
<circle cx="733.23" cy="786.40" r="1.5" fill="#f8f8f8"/>
<circle cx="753.71" cy="786.40" r="1.5" fill="#f8f8f8"/>
<circle cx="774.19" cy="786.40" r="1.5" fill="#f8f8f8"/>
<circle cx="794.67" cy="786.40" r="1.5" fill="#f8f8f8"/>
<circle cx="815.15" cy="786.40" r="1.5" fill="#f8f8f8"/>
<circle cx="835.63" cy="786.40" r="1.5" fill="#f8f8f8"/>
<circle cx="856.11" cy="786.40" r="1.5" fill="#f8f8f8"/>
<circle cx="876.59" cy="786.40" r="1.5" fill="#f8f8f8"/>
<circle cx="897.07" cy="786.40" r="1.5" fill="#f8f8f8"/>
<rect x="246.05" y="739.25" width="450.20" height="56.30" fill="none" stroke="#231f20" stroke-width="1.9"/>
<rect x="702.75" y="739.25" width="204.70" height="56.30" fill="none" stroke="#231f20" stroke-width="1.9"/>
<line x1="241.20" y1="748.40" x2="245.60" y2="748.40" stroke="#231f20" stroke-width="1.6" stroke-linecap="butt"/>
<text transform="translate(236.30,756.80) scale(0.8465,1)" text-anchor="end" font-size="20.2" font-weight="normal" xml:space="preserve"><tspan font-style="normal" fill="#2aa9db" stroke="#2aa9db" stroke-width="0.4">hu </tspan><tspan font-style="italic" fill="#2aa9db" stroke="#2aa9db" stroke-width="0.4">BANK1</tspan></text>
<line x1="241.20" y1="767.40" x2="245.60" y2="767.40" stroke="#231f20" stroke-width="1.6" stroke-linecap="butt"/>
<text transform="translate(236.30,775.80) scale(0.8465,1)" text-anchor="end" font-size="20.2" font-weight="normal" xml:space="preserve"><tspan font-style="normal" fill="#231f20" stroke="#231f20" stroke-width="0.4">le </tspan><tspan font-style="italic" fill="#231f20" stroke="#231f20" stroke-width="0.4">BANK1</tspan></text>
<line x1="241.20" y1="786.40" x2="245.60" y2="786.40" stroke="#231f20" stroke-width="1.6" stroke-linecap="butt"/>
<text transform="translate(236.30,794.80) scale(0.8465,1)" text-anchor="end" font-size="20.2" font-weight="normal" xml:space="preserve"><tspan font-style="normal" fill="#c4601e" stroke="#c4601e" stroke-width="0.4">ms </tspan><tspan font-style="italic" fill="#c4601e" stroke="#c4601e" stroke-width="0.4">Bank1</tspan></text>
<circle cx="256.30" cy="813.58" r="1.5" fill="#f8f8f8"/>
<circle cx="276.77" cy="813.58" r="1.5" fill="#f8f8f8"/>
<circle cx="297.24" cy="813.58" r="1.5" fill="#f8f8f8"/>
<circle cx="317.71" cy="813.58" r="1.5" fill="#f8f8f8"/>
<circle cx="338.18" cy="813.58" r="1.5" fill="#f8f8f8"/>
<circle cx="358.65" cy="813.58" r="1.5" fill="#f8f8f8"/>
<circle cx="379.12" cy="813.58" r="1.5" fill="#f8f8f8"/>
<circle cx="399.59" cy="813.58" r="1.5" fill="#f8f8f8"/>
<circle cx="420.06" cy="813.58" r="1.5" fill="#f8f8f8"/>
<circle cx="440.53" cy="813.58" r="1.5" fill="#f8f8f8"/>
<ellipse cx="461.00" cy="813.58" rx="6.00" ry="5.70" fill="#d0d0d0"/>
<circle cx="481.47" cy="813.58" r="1.5" fill="#f8f8f8"/>
<ellipse cx="501.94" cy="813.58" rx="2.00" ry="1.90" fill="#efefef"/>
<ellipse cx="522.41" cy="813.58" rx="2.00" ry="1.90" fill="#efefef"/>
<ellipse cx="542.88" cy="813.58" rx="2.00" ry="1.90" fill="#efefef"/>
<ellipse cx="563.35" cy="813.58" rx="2.00" ry="1.90" fill="#efefef"/>
<circle cx="583.82" cy="813.58" r="1.5" fill="#f8f8f8"/>
<ellipse cx="604.29" cy="813.58" rx="5.50" ry="5.22" fill="#d4d4d4"/>
<circle cx="624.76" cy="813.58" r="1.5" fill="#f8f8f8"/>
<circle cx="645.23" cy="813.58" r="1.5" fill="#f8f8f8"/>
<ellipse cx="665.70" cy="813.58" rx="2.50" ry="2.38" fill="#ededed"/>
<ellipse cx="686.17" cy="813.58" rx="2.50" ry="2.38" fill="#ededed"/>
<ellipse cx="712.75" cy="813.58" rx="2.50" ry="2.38" fill="#ebebeb"/>
<circle cx="733.23" cy="813.58" r="1.5" fill="#f8f8f8"/>
<circle cx="753.71" cy="813.58" r="1.5" fill="#f8f8f8"/>
<circle cx="774.19" cy="813.58" r="1.5" fill="#f8f8f8"/>
<circle cx="794.67" cy="813.58" r="1.5" fill="#f8f8f8"/>
<circle cx="815.15" cy="813.58" r="1.5" fill="#f8f8f8"/>
<circle cx="835.63" cy="813.58" r="1.5" fill="#f8f8f8"/>
<ellipse cx="856.11" cy="813.58" rx="3.00" ry="2.85" fill="#dedede"/>
<circle cx="876.59" cy="813.58" r="1.5" fill="#f8f8f8"/>
<ellipse cx="897.07" cy="813.58" rx="5.00" ry="4.75" fill="#d7d7d7"/>
<circle cx="256.30" cy="832.95" r="1.5" fill="#f8f8f8"/>
<circle cx="276.77" cy="832.95" r="1.5" fill="#f8f8f8"/>
<circle cx="297.24" cy="832.95" r="1.5" fill="#f8f8f8"/>
<circle cx="317.71" cy="832.95" r="1.5" fill="#f8f8f8"/>
<circle cx="338.18" cy="832.95" r="1.5" fill="#f8f8f8"/>
<circle cx="358.65" cy="832.95" r="1.5" fill="#f8f8f8"/>
<circle cx="379.12" cy="832.95" r="1.5" fill="#f8f8f8"/>
<circle cx="399.59" cy="832.95" r="1.5" fill="#f8f8f8"/>
<circle cx="420.06" cy="832.95" r="1.5" fill="#f8f8f8"/>
<circle cx="440.53" cy="832.95" r="1.5" fill="#f8f8f8"/>
<ellipse cx="461.00" cy="832.95" rx="5.50" ry="5.22" fill="#d2d2d2"/>
<circle cx="481.47" cy="832.95" r="1.5" fill="#f8f8f8"/>
<circle cx="501.94" cy="832.95" r="1.5" fill="#f8f8f8"/>
<circle cx="522.41" cy="832.95" r="1.5" fill="#f8f8f8"/>
<circle cx="542.88" cy="832.95" r="1.5" fill="#f8f8f8"/>
<circle cx="563.35" cy="832.95" r="1.5" fill="#f8f8f8"/>
<circle cx="583.82" cy="832.95" r="1.5" fill="#f8f8f8"/>
<ellipse cx="604.29" cy="832.95" rx="5.00" ry="4.75" fill="#d2d2d2"/>
<circle cx="624.76" cy="832.95" r="1.5" fill="#f8f8f8"/>
<circle cx="645.23" cy="832.95" r="1.5" fill="#f8f8f8"/>
<circle cx="665.70" cy="832.95" r="1.5" fill="#f8f8f8"/>
<circle cx="686.17" cy="832.95" r="1.5" fill="#f8f8f8"/>
<circle cx="712.75" cy="832.95" r="1.5" fill="#f8f8f8"/>
<circle cx="733.23" cy="832.95" r="1.5" fill="#f8f8f8"/>
<circle cx="753.71" cy="832.95" r="1.5" fill="#f8f8f8"/>
<circle cx="774.19" cy="832.95" r="1.5" fill="#f8f8f8"/>
<circle cx="794.67" cy="832.95" r="1.5" fill="#f8f8f8"/>
<circle cx="815.15" cy="832.95" r="1.5" fill="#f8f8f8"/>
<circle cx="835.63" cy="832.95" r="1.5" fill="#f8f8f8"/>
<circle cx="856.11" cy="832.95" r="1.5" fill="#f8f8f8"/>
<circle cx="876.59" cy="832.95" r="1.5" fill="#f8f8f8"/>
<circle cx="897.07" cy="832.95" r="1.5" fill="#f8f8f8"/>
<circle cx="256.30" cy="852.32" r="1.5" fill="#f8f8f8"/>
<circle cx="276.77" cy="852.32" r="1.5" fill="#f8f8f8"/>
<circle cx="297.24" cy="852.32" r="1.5" fill="#f8f8f8"/>
<circle cx="317.71" cy="852.32" r="1.5" fill="#f8f8f8"/>
<circle cx="338.18" cy="852.32" r="1.5" fill="#f8f8f8"/>
<circle cx="358.65" cy="852.32" r="1.5" fill="#f8f8f8"/>
<circle cx="379.12" cy="852.32" r="1.5" fill="#f8f8f8"/>
<circle cx="399.59" cy="852.32" r="1.5" fill="#f8f8f8"/>
<circle cx="420.06" cy="852.32" r="1.5" fill="#f8f8f8"/>
<circle cx="440.53" cy="852.32" r="1.5" fill="#f8f8f8"/>
<ellipse cx="461.00" cy="852.32" rx="7.00" ry="6.65" fill="#cdcdcd"/>
<ellipse cx="481.47" cy="852.32" rx="2.50" ry="2.38" fill="#e8e8e8"/>
<ellipse cx="501.94" cy="852.32" rx="2.50" ry="2.38" fill="#ededed"/>
<circle cx="522.41" cy="852.32" r="1.5" fill="#f8f8f8"/>
<circle cx="542.88" cy="852.32" r="1.5" fill="#f8f8f8"/>
<ellipse cx="563.35" cy="852.32" rx="2.50" ry="2.38" fill="#ebebeb"/>
<circle cx="583.82" cy="852.32" r="1.5" fill="#f8f8f8"/>
<ellipse cx="604.29" cy="852.32" rx="6.00" ry="5.70" fill="#d4d4d4"/>
<circle cx="624.76" cy="852.32" r="1.5" fill="#f8f8f8"/>
<circle cx="645.23" cy="852.32" r="1.5" fill="#f8f8f8"/>
<ellipse cx="665.70" cy="852.32" rx="3.00" ry="2.85" fill="#e1e1e1"/>
<circle cx="686.17" cy="852.32" r="1.5" fill="#f8f8f8"/>
<circle cx="712.75" cy="852.32" r="1.5" fill="#f8f8f8"/>
<circle cx="733.23" cy="852.32" r="1.5" fill="#f8f8f8"/>
<circle cx="753.71" cy="852.32" r="1.5" fill="#f8f8f8"/>
<circle cx="774.19" cy="852.32" r="1.5" fill="#f8f8f8"/>
<circle cx="794.67" cy="852.32" r="1.5" fill="#f8f8f8"/>
<circle cx="815.15" cy="852.32" r="1.5" fill="#f8f8f8"/>
<circle cx="835.63" cy="852.32" r="1.5" fill="#f8f8f8"/>
<ellipse cx="856.11" cy="852.32" rx="2.50" ry="2.38" fill="#e5e5e5"/>
<circle cx="876.59" cy="852.32" r="1.5" fill="#f8f8f8"/>
<ellipse cx="897.07" cy="852.32" rx="2.50" ry="2.38" fill="#ededed"/>
<rect x="246.05" y="804.25" width="450.20" height="57.40" fill="none" stroke="#231f20" stroke-width="1.9"/>
<rect x="702.75" y="804.25" width="204.70" height="57.40" fill="none" stroke="#231f20" stroke-width="1.9"/>
<line x1="241.20" y1="813.58" x2="245.60" y2="813.58" stroke="#231f20" stroke-width="1.6" stroke-linecap="butt"/>
<text transform="translate(236.30,821.98) scale(0.8465,1)" text-anchor="end" font-size="20.2" font-weight="normal" xml:space="preserve"><tspan font-style="normal" fill="#2aa9db" stroke="#2aa9db" stroke-width="0.4">hu </tspan><tspan font-style="italic" fill="#2aa9db" stroke="#2aa9db" stroke-width="0.4">POU2F2</tspan></text>
<line x1="241.20" y1="832.95" x2="245.60" y2="832.95" stroke="#231f20" stroke-width="1.6" stroke-linecap="butt"/>
<text transform="translate(236.30,841.35) scale(0.8465,1)" text-anchor="end" font-size="20.2" font-weight="normal" xml:space="preserve"><tspan font-style="normal" fill="#231f20" stroke="#231f20" stroke-width="0.4">le </tspan><tspan font-style="italic" fill="#231f20" stroke="#231f20" stroke-width="0.4">POU2F2</tspan></text>
<line x1="241.20" y1="852.32" x2="245.60" y2="852.32" stroke="#231f20" stroke-width="1.6" stroke-linecap="butt"/>
<text transform="translate(236.30,860.72) scale(0.8465,1)" text-anchor="end" font-size="20.2" font-weight="normal" xml:space="preserve"><tspan font-style="normal" fill="#c4601e" stroke="#c4601e" stroke-width="0.4">ms </tspan><tspan font-style="italic" fill="#c4601e" stroke="#c4601e" stroke-width="0.4">Pou2f2</tspan></text>
<circle cx="256.30" cy="879.65" r="1.5" fill="#f8f8f8"/>
<circle cx="276.77" cy="879.65" r="1.5" fill="#f8f8f8"/>
<circle cx="297.24" cy="879.65" r="1.5" fill="#f8f8f8"/>
<circle cx="317.71" cy="879.65" r="1.5" fill="#f8f8f8"/>
<circle cx="338.18" cy="879.65" r="1.5" fill="#f8f8f8"/>
<circle cx="358.65" cy="879.65" r="1.5" fill="#f8f8f8"/>
<circle cx="379.12" cy="879.65" r="1.5" fill="#f8f8f8"/>
<circle cx="399.59" cy="879.65" r="1.5" fill="#f8f8f8"/>
<circle cx="420.06" cy="879.65" r="1.5" fill="#f8f8f8"/>
<circle cx="440.53" cy="879.65" r="1.5" fill="#f8f8f8"/>
<circle cx="461.00" cy="879.65" r="1.5" fill="#f8f8f8"/>
<ellipse cx="481.47" cy="879.65" rx="7.50" ry="7.12" fill="#b9b9b9"/>
<circle cx="501.94" cy="879.65" r="1.5" fill="#f8f8f8"/>
<circle cx="522.41" cy="879.65" r="1.5" fill="#f8f8f8"/>
<circle cx="542.88" cy="879.65" r="1.5" fill="#f8f8f8"/>
<circle cx="563.35" cy="879.65" r="1.5" fill="#f8f8f8"/>
<circle cx="583.82" cy="879.65" r="1.5" fill="#f8f8f8"/>
<circle cx="604.29" cy="879.65" r="1.5" fill="#f8f8f8"/>
<circle cx="624.76" cy="879.65" r="1.5" fill="#f8f8f8"/>
<circle cx="645.23" cy="879.65" r="1.5" fill="#f8f8f8"/>
<circle cx="665.70" cy="879.65" r="1.5" fill="#f8f8f8"/>
<circle cx="686.17" cy="879.65" r="1.5" fill="#f8f8f8"/>
<circle cx="712.75" cy="879.65" r="1.5" fill="#f8f8f8"/>
<circle cx="733.23" cy="879.65" r="1.5" fill="#f8f8f8"/>
<circle cx="753.71" cy="879.65" r="1.5" fill="#f8f8f8"/>
<circle cx="774.19" cy="879.65" r="1.5" fill="#f8f8f8"/>
<circle cx="794.67" cy="879.65" r="1.5" fill="#f8f8f8"/>
<circle cx="815.15" cy="879.65" r="1.5" fill="#f8f8f8"/>
<circle cx="835.63" cy="879.65" r="1.5" fill="#f8f8f8"/>
<circle cx="856.11" cy="879.65" r="1.5" fill="#f8f8f8"/>
<circle cx="876.59" cy="879.65" r="1.5" fill="#f8f8f8"/>
<circle cx="897.07" cy="879.65" r="1.5" fill="#f8f8f8"/>
<circle cx="256.30" cy="898.55" r="1.5" fill="#f8f8f8"/>
<circle cx="276.77" cy="898.55" r="1.5" fill="#f8f8f8"/>
<circle cx="297.24" cy="898.55" r="1.5" fill="#f8f8f8"/>
<circle cx="317.71" cy="898.55" r="1.5" fill="#f8f8f8"/>
<circle cx="338.18" cy="898.55" r="1.5" fill="#f8f8f8"/>
<circle cx="358.65" cy="898.55" r="1.5" fill="#f8f8f8"/>
<circle cx="379.12" cy="898.55" r="1.5" fill="#f8f8f8"/>
<circle cx="399.59" cy="898.55" r="1.5" fill="#f8f8f8"/>
<circle cx="420.06" cy="898.55" r="1.5" fill="#f8f8f8"/>
<circle cx="440.53" cy="898.55" r="1.5" fill="#f8f8f8"/>
<circle cx="461.00" cy="898.55" r="1.5" fill="#f8f8f8"/>
<ellipse cx="481.47" cy="898.55" rx="7.00" ry="6.65" fill="#bebebe"/>
<circle cx="501.94" cy="898.55" r="1.5" fill="#f8f8f8"/>
<circle cx="522.41" cy="898.55" r="1.5" fill="#f8f8f8"/>
<circle cx="542.88" cy="898.55" r="1.5" fill="#f8f8f8"/>
<circle cx="563.35" cy="898.55" r="1.5" fill="#f8f8f8"/>
<circle cx="583.82" cy="898.55" r="1.5" fill="#f8f8f8"/>
<circle cx="604.29" cy="898.55" r="1.5" fill="#f8f8f8"/>
<circle cx="624.76" cy="898.55" r="1.5" fill="#f8f8f8"/>
<circle cx="645.23" cy="898.55" r="1.5" fill="#f8f8f8"/>
<circle cx="665.70" cy="898.55" r="1.5" fill="#f8f8f8"/>
<circle cx="686.17" cy="898.55" r="1.5" fill="#f8f8f8"/>
<circle cx="712.75" cy="898.55" r="1.5" fill="#f8f8f8"/>
<circle cx="733.23" cy="898.55" r="1.5" fill="#f8f8f8"/>
<circle cx="753.71" cy="898.55" r="1.5" fill="#f8f8f8"/>
<circle cx="774.19" cy="898.55" r="1.5" fill="#f8f8f8"/>
<circle cx="794.67" cy="898.55" r="1.5" fill="#f8f8f8"/>
<circle cx="815.15" cy="898.55" r="1.5" fill="#f8f8f8"/>
<circle cx="835.63" cy="898.55" r="1.5" fill="#f8f8f8"/>
<circle cx="856.11" cy="898.55" r="1.5" fill="#f8f8f8"/>
<circle cx="876.59" cy="898.55" r="1.5" fill="#f8f8f8"/>
<circle cx="897.07" cy="898.55" r="1.5" fill="#f8f8f8"/>
<circle cx="256.30" cy="917.45" r="1.5" fill="#f8f8f8"/>
<circle cx="276.77" cy="917.45" r="1.5" fill="#f8f8f8"/>
<circle cx="297.24" cy="917.45" r="1.5" fill="#f8f8f8"/>
<circle cx="317.71" cy="917.45" r="1.5" fill="#f8f8f8"/>
<circle cx="338.18" cy="917.45" r="1.5" fill="#f8f8f8"/>
<circle cx="358.65" cy="917.45" r="1.5" fill="#f8f8f8"/>
<circle cx="379.12" cy="917.45" r="1.5" fill="#f8f8f8"/>
<circle cx="399.59" cy="917.45" r="1.5" fill="#f8f8f8"/>
<circle cx="420.06" cy="917.45" r="1.5" fill="#f8f8f8"/>
<circle cx="440.53" cy="917.45" r="1.5" fill="#f8f8f8"/>
<circle cx="461.00" cy="917.45" r="1.5" fill="#f8f8f8"/>
<ellipse cx="481.47" cy="917.45" rx="5.50" ry="5.22" fill="#c3c3c3"/>
<circle cx="501.94" cy="917.45" r="1.5" fill="#f8f8f8"/>
<circle cx="522.41" cy="917.45" r="1.5" fill="#f8f8f8"/>
<circle cx="542.88" cy="917.45" r="1.5" fill="#f8f8f8"/>
<circle cx="563.35" cy="917.45" r="1.5" fill="#f8f8f8"/>
<circle cx="583.82" cy="917.45" r="1.5" fill="#f8f8f8"/>
<circle cx="604.29" cy="917.45" r="1.5" fill="#f8f8f8"/>
<circle cx="624.76" cy="917.45" r="1.5" fill="#f8f8f8"/>
<circle cx="645.23" cy="917.45" r="1.5" fill="#f8f8f8"/>
<circle cx="665.70" cy="917.45" r="1.5" fill="#f8f8f8"/>
<circle cx="686.17" cy="917.45" r="1.5" fill="#f8f8f8"/>
<circle cx="712.75" cy="917.45" r="1.5" fill="#f8f8f8"/>
<circle cx="733.23" cy="917.45" r="1.5" fill="#f8f8f8"/>
<circle cx="753.71" cy="917.45" r="1.5" fill="#f8f8f8"/>
<circle cx="774.19" cy="917.45" r="1.5" fill="#f8f8f8"/>
<circle cx="794.67" cy="917.45" r="1.5" fill="#f8f8f8"/>
<circle cx="815.15" cy="917.45" r="1.5" fill="#f8f8f8"/>
<circle cx="835.63" cy="917.45" r="1.5" fill="#f8f8f8"/>
<circle cx="856.11" cy="917.45" r="1.5" fill="#f8f8f8"/>
<circle cx="876.59" cy="917.45" r="1.5" fill="#f8f8f8"/>
<circle cx="897.07" cy="917.45" r="1.5" fill="#f8f8f8"/>
<rect x="246.05" y="870.55" width="450.20" height="56.00" fill="none" stroke="#231f20" stroke-width="1.9"/>
<rect x="702.75" y="870.55" width="204.70" height="56.00" fill="none" stroke="#231f20" stroke-width="1.9"/>
<line x1="241.20" y1="879.65" x2="245.60" y2="879.65" stroke="#231f20" stroke-width="1.6" stroke-linecap="butt"/>
<text transform="translate(236.30,888.05) scale(0.8465,1)" text-anchor="end" font-size="20.2" font-weight="normal" xml:space="preserve"><tspan font-style="normal" fill="#2aa9db" stroke="#2aa9db" stroke-width="0.4">hu </tspan><tspan font-style="italic" fill="#2aa9db" stroke="#2aa9db" stroke-width="0.4">TNFRSF17</tspan></text>
<line x1="241.20" y1="898.55" x2="245.60" y2="898.55" stroke="#231f20" stroke-width="1.6" stroke-linecap="butt"/>
<text transform="translate(236.30,906.95) scale(0.8465,1)" text-anchor="end" font-size="20.2" font-weight="normal" xml:space="preserve"><tspan font-style="normal" fill="#231f20" stroke="#231f20" stroke-width="0.4">le </tspan><tspan font-style="italic" fill="#231f20" stroke="#231f20" stroke-width="0.4">TNFRSF17</tspan></text>
<line x1="241.20" y1="917.45" x2="245.60" y2="917.45" stroke="#231f20" stroke-width="1.6" stroke-linecap="butt"/>
<text transform="translate(236.30,925.85) scale(0.8465,1)" text-anchor="end" font-size="20.2" font-weight="normal" xml:space="preserve"><tspan font-style="normal" fill="#c4601e" stroke="#c4601e" stroke-width="0.4">ms </tspan><tspan font-style="italic" fill="#c4601e" stroke="#c4601e" stroke-width="0.4">Tnfrsf17</tspan></text>
<circle cx="256.30" cy="944.15" r="1.5" fill="#f8f8f8"/>
<circle cx="276.77" cy="944.15" r="1.5" fill="#f8f8f8"/>
<circle cx="297.24" cy="944.15" r="1.5" fill="#f8f8f8"/>
<circle cx="317.71" cy="944.15" r="1.5" fill="#f8f8f8"/>
<circle cx="338.18" cy="944.15" r="1.5" fill="#f8f8f8"/>
<circle cx="358.65" cy="944.15" r="1.5" fill="#f8f8f8"/>
<circle cx="379.12" cy="944.15" r="1.5" fill="#f8f8f8"/>
<circle cx="399.59" cy="944.15" r="1.5" fill="#f8f8f8"/>
<circle cx="420.06" cy="944.15" r="1.5" fill="#f8f8f8"/>
<circle cx="440.53" cy="944.15" r="1.5" fill="#f8f8f8"/>
<ellipse cx="461.00" cy="944.15" rx="2.50" ry="2.38" fill="#ebebeb"/>
<ellipse cx="481.47" cy="944.15" rx="2.00" ry="1.90" fill="#ededed"/>
<ellipse cx="501.94" cy="944.15" rx="9.50" ry="9.03" fill="#8c8c8c"/>
<ellipse cx="522.41" cy="944.15" rx="9.50" ry="9.03" fill="#8c8c8c"/>
<ellipse cx="542.88" cy="944.15" rx="3.50" ry="3.32" fill="#d7d7d7"/>
<ellipse cx="563.35" cy="944.15" rx="8.50" ry="8.07" fill="#a5a5a5"/>
<ellipse cx="583.82" cy="944.15" rx="6.50" ry="6.17" fill="#b9b9b9"/>
<circle cx="604.29" cy="944.15" r="1.5" fill="#f8f8f8"/>
<circle cx="624.76" cy="944.15" r="1.5" fill="#f8f8f8"/>
<circle cx="645.23" cy="944.15" r="1.5" fill="#f8f8f8"/>
<circle cx="665.70" cy="944.15" r="1.5" fill="#f8f8f8"/>
<circle cx="686.17" cy="944.15" r="1.5" fill="#f8f8f8"/>
<circle cx="712.75" cy="944.15" r="1.5" fill="#f8f8f8"/>
<circle cx="733.23" cy="944.15" r="1.5" fill="#f8f8f8"/>
<circle cx="753.71" cy="944.15" r="1.5" fill="#f8f8f8"/>
<circle cx="774.19" cy="944.15" r="1.5" fill="#f8f8f8"/>
<circle cx="794.67" cy="944.15" r="1.5" fill="#f8f8f8"/>
<circle cx="815.15" cy="944.15" r="1.5" fill="#f8f8f8"/>
<circle cx="835.63" cy="944.15" r="1.5" fill="#f8f8f8"/>
<ellipse cx="856.11" cy="944.15" rx="9.00" ry="8.55" fill="#9b9b9b"/>
<ellipse cx="876.59" cy="944.15" rx="9.00" ry="8.55" fill="#8c8c8c"/>
<circle cx="897.07" cy="944.15" r="1.5" fill="#f8f8f8"/>
<circle cx="256.30" cy="963.05" r="1.5" fill="#f8f8f8"/>
<circle cx="276.77" cy="963.05" r="1.5" fill="#f8f8f8"/>
<circle cx="297.24" cy="963.05" r="1.5" fill="#f8f8f8"/>
<circle cx="317.71" cy="963.05" r="1.5" fill="#f8f8f8"/>
<circle cx="338.18" cy="963.05" r="1.5" fill="#f8f8f8"/>
<circle cx="358.65" cy="963.05" r="1.5" fill="#f8f8f8"/>
<circle cx="379.12" cy="963.05" r="1.5" fill="#f8f8f8"/>
<circle cx="399.59" cy="963.05" r="1.5" fill="#f8f8f8"/>
<circle cx="420.06" cy="963.05" r="1.5" fill="#f8f8f8"/>
<circle cx="440.53" cy="963.05" r="1.5" fill="#f8f8f8"/>
<circle cx="461.00" cy="963.05" r="1.5" fill="#f8f8f8"/>
<circle cx="481.47" cy="963.05" r="1.5" fill="#f8f8f8"/>
<ellipse cx="501.94" cy="963.05" rx="7.50" ry="7.12" fill="#b9b9b9"/>
<ellipse cx="522.41" cy="963.05" rx="9.00" ry="8.55" fill="#a0a0a0"/>
<circle cx="542.88" cy="963.05" r="1.5" fill="#f8f8f8"/>
<ellipse cx="563.35" cy="963.05" rx="9.50" ry="9.03" fill="#a5a5a5"/>
<ellipse cx="583.82" cy="963.05" rx="7.00" ry="6.65" fill="#c8c8c8"/>
<circle cx="604.29" cy="963.05" r="1.5" fill="#f8f8f8"/>
<circle cx="624.76" cy="963.05" r="1.5" fill="#f8f8f8"/>
<circle cx="645.23" cy="963.05" r="1.5" fill="#f8f8f8"/>
<circle cx="665.70" cy="963.05" r="1.5" fill="#f8f8f8"/>
<circle cx="686.17" cy="963.05" r="1.5" fill="#f8f8f8"/>
<circle cx="712.75" cy="963.05" r="1.5" fill="#f8f8f8"/>
<circle cx="733.23" cy="963.05" r="1.5" fill="#f8f8f8"/>
<ellipse cx="753.71" cy="963.05" rx="2.00" ry="1.90" fill="#efefef"/>
<circle cx="774.19" cy="963.05" r="1.5" fill="#f8f8f8"/>
<circle cx="794.67" cy="963.05" r="1.5" fill="#f8f8f8"/>
<circle cx="815.15" cy="963.05" r="1.5" fill="#f8f8f8"/>
<circle cx="835.63" cy="963.05" r="1.5" fill="#f8f8f8"/>
<ellipse cx="856.11" cy="963.05" rx="8.00" ry="7.60" fill="#bebebe"/>
<ellipse cx="876.59" cy="963.05" rx="7.50" ry="7.12" fill="#bebebe"/>
<circle cx="897.07" cy="963.05" r="1.5" fill="#f8f8f8"/>
<circle cx="256.30" cy="981.95" r="1.5" fill="#f8f8f8"/>
<circle cx="276.77" cy="981.95" r="1.5" fill="#f8f8f8"/>
<circle cx="297.24" cy="981.95" r="1.5" fill="#f8f8f8"/>
<circle cx="317.71" cy="981.95" r="1.5" fill="#f8f8f8"/>
<circle cx="338.18" cy="981.95" r="1.5" fill="#f8f8f8"/>
<circle cx="358.65" cy="981.95" r="1.5" fill="#f8f8f8"/>
<circle cx="379.12" cy="981.95" r="1.5" fill="#f8f8f8"/>
<circle cx="399.59" cy="981.95" r="1.5" fill="#f8f8f8"/>
<circle cx="420.06" cy="981.95" r="1.5" fill="#f8f8f8"/>
<circle cx="440.53" cy="981.95" r="1.5" fill="#f8f8f8"/>
<circle cx="461.00" cy="981.95" r="1.5" fill="#f8f8f8"/>
<circle cx="481.47" cy="981.95" r="1.5" fill="#f8f8f8"/>
<ellipse cx="501.94" cy="981.95" rx="9.00" ry="8.55" fill="#a5a5a5"/>
<ellipse cx="522.41" cy="981.95" rx="8.00" ry="7.60" fill="#bebebe"/>
<circle cx="542.88" cy="981.95" r="1.5" fill="#f8f8f8"/>
<ellipse cx="563.35" cy="981.95" rx="9.50" ry="9.03" fill="#969696"/>
<ellipse cx="583.82" cy="981.95" rx="8.50" ry="8.07" fill="#b4b4b4"/>
<circle cx="604.29" cy="981.95" r="1.5" fill="#f8f8f8"/>
<circle cx="624.76" cy="981.95" r="1.5" fill="#f8f8f8"/>
<circle cx="645.23" cy="981.95" r="1.5" fill="#f8f8f8"/>
<circle cx="665.70" cy="981.95" r="1.5" fill="#f8f8f8"/>
<circle cx="686.17" cy="981.95" r="1.5" fill="#f8f8f8"/>
<circle cx="712.75" cy="981.95" r="1.5" fill="#f8f8f8"/>
<circle cx="733.23" cy="981.95" r="1.5" fill="#f8f8f8"/>
<circle cx="753.71" cy="981.95" r="1.5" fill="#f8f8f8"/>
<circle cx="774.19" cy="981.95" r="1.5" fill="#f8f8f8"/>
<circle cx="794.67" cy="981.95" r="1.5" fill="#f8f8f8"/>
<circle cx="815.15" cy="981.95" r="1.5" fill="#f8f8f8"/>
<circle cx="835.63" cy="981.95" r="1.5" fill="#f8f8f8"/>
<ellipse cx="856.11" cy="981.95" rx="9.00" ry="8.55" fill="#aaaaaa"/>
<ellipse cx="876.59" cy="981.95" rx="8.00" ry="7.60" fill="#bebebe"/>
<circle cx="897.07" cy="981.95" r="1.5" fill="#f8f8f8"/>
<rect x="246.05" y="935.05" width="450.20" height="56.00" fill="none" stroke="#231f20" stroke-width="1.9"/>
<rect x="702.75" y="935.05" width="204.70" height="56.00" fill="none" stroke="#231f20" stroke-width="1.9"/>
<line x1="241.20" y1="944.15" x2="245.60" y2="944.15" stroke="#231f20" stroke-width="1.6" stroke-linecap="butt"/>
<text transform="translate(236.30,952.55) scale(0.8465,1)" text-anchor="end" font-size="20.2" font-weight="normal" xml:space="preserve"><tspan font-style="normal" fill="#2aa9db" stroke="#2aa9db" stroke-width="0.4">hu </tspan><tspan font-style="italic" fill="#2aa9db" stroke="#2aa9db" stroke-width="0.4">CD3E</tspan></text>
<line x1="241.20" y1="963.05" x2="245.60" y2="963.05" stroke="#231f20" stroke-width="1.6" stroke-linecap="butt"/>
<text transform="translate(236.30,971.45) scale(0.8465,1)" text-anchor="end" font-size="20.2" font-weight="normal" xml:space="preserve"><tspan font-style="normal" fill="#231f20" stroke="#231f20" stroke-width="0.4">le </tspan><tspan font-style="italic" fill="#231f20" stroke="#231f20" stroke-width="0.4">CD3E</tspan></text>
<line x1="241.20" y1="981.95" x2="245.60" y2="981.95" stroke="#231f20" stroke-width="1.6" stroke-linecap="butt"/>
<text transform="translate(236.30,990.35) scale(0.8465,1)" text-anchor="end" font-size="20.2" font-weight="normal" xml:space="preserve"><tspan font-style="normal" fill="#c4601e" stroke="#c4601e" stroke-width="0.4">ms </tspan><tspan font-style="italic" fill="#c4601e" stroke="#c4601e" stroke-width="0.4">Cd3e</tspan></text>
<circle cx="256.30" cy="1010.12" r="1.5" fill="#f8f8f8"/>
<circle cx="276.77" cy="1010.12" r="1.5" fill="#f8f8f8"/>
<circle cx="297.24" cy="1010.12" r="1.5" fill="#f8f8f8"/>
<circle cx="317.71" cy="1010.12" r="1.5" fill="#f8f8f8"/>
<circle cx="338.18" cy="1010.12" r="1.5" fill="#f8f8f8"/>
<circle cx="358.65" cy="1010.12" r="1.5" fill="#f8f8f8"/>
<circle cx="379.12" cy="1010.12" r="1.5" fill="#f8f8f8"/>
<circle cx="399.59" cy="1010.12" r="1.5" fill="#f8f8f8"/>
<circle cx="420.06" cy="1010.12" r="1.5" fill="#f8f8f8"/>
<circle cx="440.53" cy="1010.12" r="1.5" fill="#f8f8f8"/>
<ellipse cx="461.00" cy="1010.12" rx="2.50" ry="2.38" fill="#e1e1e1"/>
<ellipse cx="481.47" cy="1010.12" rx="2.50" ry="2.38" fill="#e3e3e3"/>
<ellipse cx="501.94" cy="1010.12" rx="4.50" ry="4.27" fill="#bebebe"/>
<ellipse cx="522.41" cy="1010.12" rx="10.00" ry="9.50" fill="#1e1e1e"/>
<ellipse cx="542.88" cy="1010.12" rx="10.25" ry="9.74" fill="#191919"/>
<ellipse cx="563.35" cy="1010.12" rx="10.00" ry="9.50" fill="#323232"/>
<ellipse cx="583.82" cy="1010.12" rx="10.00" ry="9.50" fill="#1e1e1e"/>
<ellipse cx="604.29" cy="1010.12" rx="3.50" ry="3.32" fill="#dcdcdc"/>
<circle cx="624.76" cy="1010.12" r="1.5" fill="#f8f8f8"/>
<circle cx="645.23" cy="1010.12" r="1.5" fill="#f8f8f8"/>
<ellipse cx="665.70" cy="1010.12" rx="2.50" ry="2.38" fill="#e8e8e8"/>
<ellipse cx="686.17" cy="1010.12" rx="3.00" ry="2.85" fill="#dcdcdc"/>
<circle cx="712.75" cy="1010.12" r="1.5" fill="#f8f8f8"/>
<circle cx="733.23" cy="1010.12" r="1.5" fill="#f8f8f8"/>
<circle cx="753.71" cy="1010.12" r="1.5" fill="#f8f8f8"/>
<circle cx="774.19" cy="1010.12" r="1.5" fill="#f8f8f8"/>
<circle cx="794.67" cy="1010.12" r="1.5" fill="#f8f8f8"/>
<circle cx="815.15" cy="1010.12" r="1.5" fill="#f8f8f8"/>
<circle cx="835.63" cy="1010.12" r="1.5" fill="#f8f8f8"/>
<ellipse cx="856.11" cy="1010.12" rx="2.50" ry="2.38" fill="#efefef"/>
<ellipse cx="876.59" cy="1010.12" rx="9.00" ry="8.55" fill="#5f5f5f"/>
<circle cx="897.07" cy="1010.12" r="1.5" fill="#f8f8f8"/>
<circle cx="256.30" cy="1029.15" r="1.5" fill="#f8f8f8"/>
<ellipse cx="276.77" cy="1029.15" rx="2.50" ry="2.38" fill="#ebebeb"/>
<ellipse cx="297.24" cy="1029.15" rx="3.50" ry="3.32" fill="#e1e1e1"/>
<ellipse cx="317.71" cy="1029.15" rx="3.50" ry="3.32" fill="#e2e2e2"/>
<ellipse cx="338.18" cy="1029.15" rx="3.50" ry="3.32" fill="#e1e1e1"/>
<ellipse cx="358.65" cy="1029.15" rx="3.50" ry="3.32" fill="#e2e2e2"/>
<ellipse cx="379.12" cy="1029.15" rx="4.00" ry="3.80" fill="#e1e1e1"/>
<ellipse cx="399.59" cy="1029.15" rx="3.50" ry="3.32" fill="#e2e2e2"/>
<ellipse cx="420.06" cy="1029.15" rx="3.50" ry="3.32" fill="#e2e2e2"/>
<ellipse cx="440.53" cy="1029.15" rx="3.50" ry="3.32" fill="#e4e4e4"/>
<ellipse cx="461.00" cy="1029.15" rx="3.00" ry="2.85" fill="#e6e6e6"/>
<circle cx="481.47" cy="1029.15" r="1.5" fill="#f8f8f8"/>
<ellipse cx="501.94" cy="1029.15" rx="5.50" ry="5.22" fill="#c8c8c8"/>
<ellipse cx="522.41" cy="1029.15" rx="10.25" ry="9.74" fill="#464646"/>
<ellipse cx="542.88" cy="1029.15" rx="10.25" ry="9.74" fill="#414141"/>
<ellipse cx="563.35" cy="1029.15" rx="10.25" ry="9.74" fill="#414141"/>
<ellipse cx="583.82" cy="1029.15" rx="10.25" ry="9.74" fill="#505050"/>
<circle cx="604.29" cy="1029.15" r="1.5" fill="#f8f8f8"/>
<circle cx="624.76" cy="1029.15" r="1.5" fill="#f8f8f8"/>
<circle cx="645.23" cy="1029.15" r="1.5" fill="#f8f8f8"/>
<circle cx="665.70" cy="1029.15" r="1.5" fill="#f8f8f8"/>
<ellipse cx="686.17" cy="1029.15" rx="4.50" ry="4.27" fill="#dedede"/>
<circle cx="712.75" cy="1029.15" r="1.5" fill="#f8f8f8"/>
<circle cx="733.23" cy="1029.15" r="1.5" fill="#f8f8f8"/>
<circle cx="753.71" cy="1029.15" r="1.5" fill="#f8f8f8"/>
<circle cx="774.19" cy="1029.15" r="1.5" fill="#f8f8f8"/>
<circle cx="794.67" cy="1029.15" r="1.5" fill="#f8f8f8"/>
<circle cx="815.15" cy="1029.15" r="1.5" fill="#f8f8f8"/>
<circle cx="835.63" cy="1029.15" r="1.5" fill="#f8f8f8"/>
<circle cx="856.11" cy="1029.15" r="1.5" fill="#f8f8f8"/>
<ellipse cx="876.59" cy="1029.15" rx="7.00" ry="6.65" fill="#b9b9b9"/>
<circle cx="897.07" cy="1029.15" r="1.5" fill="#f8f8f8"/>
<circle cx="256.30" cy="1048.18" r="1.5" fill="#f8f8f8"/>
<ellipse cx="276.77" cy="1048.18" rx="2.00" ry="1.90" fill="#ebebeb"/>
<circle cx="297.24" cy="1048.18" r="1.5" fill="#f8f8f8"/>
<ellipse cx="317.71" cy="1048.18" rx="2.50" ry="2.38" fill="#ebebeb"/>
<ellipse cx="338.18" cy="1048.18" rx="2.00" ry="1.90" fill="#ededed"/>
<circle cx="358.65" cy="1048.18" r="1.5" fill="#f8f8f8"/>
<circle cx="379.12" cy="1048.18" r="1.5" fill="#f8f8f8"/>
<circle cx="399.59" cy="1048.18" r="1.5" fill="#f8f8f8"/>
<circle cx="420.06" cy="1048.18" r="1.5" fill="#f8f8f8"/>
<circle cx="440.53" cy="1048.18" r="1.5" fill="#f8f8f8"/>
<circle cx="461.00" cy="1048.18" r="1.5" fill="#f8f8f8"/>
<ellipse cx="481.47" cy="1048.18" rx="2.00" ry="1.90" fill="#e8e8e8"/>
<ellipse cx="501.94" cy="1048.18" rx="6.50" ry="6.17" fill="#787878"/>
<ellipse cx="522.41" cy="1048.18" rx="10.00" ry="9.50" fill="#555555"/>
<ellipse cx="542.88" cy="1048.18" rx="10.25" ry="9.74" fill="#191919"/>
<ellipse cx="563.35" cy="1048.18" rx="10.25" ry="9.74" fill="#191919"/>
<ellipse cx="583.82" cy="1048.18" rx="10.00" ry="9.50" fill="#2d2d2d"/>
<circle cx="604.29" cy="1048.18" r="1.5" fill="#f8f8f8"/>
<circle cx="624.76" cy="1048.18" r="1.5" fill="#f8f8f8"/>
<circle cx="645.23" cy="1048.18" r="1.5" fill="#f8f8f8"/>
<circle cx="665.70" cy="1048.18" r="1.5" fill="#f8f8f8"/>
<circle cx="686.17" cy="1048.18" r="1.5" fill="#f8f8f8"/>
<circle cx="712.75" cy="1048.18" r="1.5" fill="#f8f8f8"/>
<circle cx="733.23" cy="1048.18" r="1.5" fill="#f8f8f8"/>
<circle cx="753.71" cy="1048.18" r="1.5" fill="#f8f8f8"/>
<circle cx="774.19" cy="1048.18" r="1.5" fill="#f8f8f8"/>
<circle cx="794.67" cy="1048.18" r="1.5" fill="#f8f8f8"/>
<circle cx="815.15" cy="1048.18" r="1.5" fill="#f8f8f8"/>
<circle cx="835.63" cy="1048.18" r="1.5" fill="#f8f8f8"/>
<ellipse cx="856.11" cy="1048.18" rx="3.00" ry="2.85" fill="#e1e1e1"/>
<ellipse cx="876.59" cy="1048.18" rx="9.00" ry="8.55" fill="#7d7d7d"/>
<circle cx="897.07" cy="1048.18" r="1.5" fill="#f8f8f8"/>
<rect x="246.05" y="1000.95" width="450.20" height="56.40" fill="none" stroke="#231f20" stroke-width="1.9"/>
<rect x="702.75" y="1000.95" width="204.70" height="56.40" fill="none" stroke="#231f20" stroke-width="1.9"/>
<line x1="241.20" y1="1010.12" x2="245.60" y2="1010.12" stroke="#231f20" stroke-width="1.6" stroke-linecap="butt"/>
<text transform="translate(236.30,1018.52) scale(0.8465,1)" text-anchor="end" font-size="20.2" font-weight="normal" xml:space="preserve"><tspan font-style="normal" fill="#2aa9db" stroke="#2aa9db" stroke-width="0.4">hu </tspan><tspan font-style="italic" fill="#2aa9db" stroke="#2aa9db" stroke-width="0.4">NKG7</tspan></text>
<line x1="241.20" y1="1029.15" x2="245.60" y2="1029.15" stroke="#231f20" stroke-width="1.6" stroke-linecap="butt"/>
<text transform="translate(236.30,1037.55) scale(0.8465,1)" text-anchor="end" font-size="20.2" font-weight="normal" xml:space="preserve"><tspan font-style="normal" fill="#231f20" stroke="#231f20" stroke-width="0.4">le </tspan><tspan font-style="italic" fill="#231f20" stroke="#231f20" stroke-width="0.4">NKG7</tspan></text>
<line x1="241.20" y1="1048.18" x2="245.60" y2="1048.18" stroke="#231f20" stroke-width="1.6" stroke-linecap="butt"/>
<text transform="translate(236.30,1056.58) scale(0.8465,1)" text-anchor="end" font-size="20.2" font-weight="normal" xml:space="preserve"><tspan font-style="normal" fill="#c4601e" stroke="#c4601e" stroke-width="0.4">ms </tspan><tspan font-style="italic" fill="#c4601e" stroke="#c4601e" stroke-width="0.4">Nkg7</tspan></text>
<circle cx="256.30" cy="1075.92" r="1.5" fill="#f8f8f8"/>
<circle cx="276.77" cy="1075.92" r="1.5" fill="#f8f8f8"/>
<circle cx="297.24" cy="1075.92" r="1.5" fill="#f8f8f8"/>
<circle cx="317.71" cy="1075.92" r="1.5" fill="#f8f8f8"/>
<circle cx="338.18" cy="1075.92" r="1.5" fill="#f8f8f8"/>
<circle cx="358.65" cy="1075.92" r="1.5" fill="#f8f8f8"/>
<circle cx="379.12" cy="1075.92" r="1.5" fill="#f8f8f8"/>
<circle cx="399.59" cy="1075.92" r="1.5" fill="#f8f8f8"/>
<circle cx="420.06" cy="1075.92" r="1.5" fill="#f8f8f8"/>
<circle cx="440.53" cy="1075.92" r="1.5" fill="#f8f8f8"/>
<circle cx="461.00" cy="1075.92" r="1.5" fill="#f8f8f8"/>
<circle cx="481.47" cy="1075.92" r="1.5" fill="#f8f8f8"/>
<circle cx="501.94" cy="1075.92" r="1.5" fill="#f8f8f8"/>
<circle cx="522.41" cy="1075.92" r="1.5" fill="#f8f8f8"/>
<circle cx="542.88" cy="1075.92" r="1.5" fill="#f8f8f8"/>
<circle cx="563.35" cy="1075.92" r="1.5" fill="#f8f8f8"/>
<circle cx="583.82" cy="1075.92" r="1.5" fill="#f8f8f8"/>
<ellipse cx="604.29" cy="1075.92" rx="8.00" ry="7.60" fill="#bebebe"/>
<ellipse cx="624.76" cy="1075.92" rx="3.50" ry="3.32" fill="#e1e1e1"/>
<ellipse cx="645.23" cy="1075.92" rx="3.00" ry="2.85" fill="#e4e4e4"/>
<ellipse cx="665.70" cy="1075.92" rx="6.00" ry="5.70" fill="#d2d2d2"/>
<circle cx="686.17" cy="1075.92" r="1.5" fill="#f8f8f8"/>
<circle cx="712.75" cy="1075.92" r="1.5" fill="#f8f8f8"/>
<circle cx="733.23" cy="1075.92" r="1.5" fill="#f8f8f8"/>
<circle cx="753.71" cy="1075.92" r="1.5" fill="#f8f8f8"/>
<circle cx="774.19" cy="1075.92" r="1.5" fill="#f8f8f8"/>
<circle cx="794.67" cy="1075.92" r="1.5" fill="#f8f8f8"/>
<circle cx="815.15" cy="1075.92" r="1.5" fill="#f8f8f8"/>
<circle cx="835.63" cy="1075.92" r="1.5" fill="#f8f8f8"/>
<circle cx="856.11" cy="1075.92" r="1.5" fill="#f8f8f8"/>
<circle cx="876.59" cy="1075.92" r="1.5" fill="#f8f8f8"/>
<ellipse cx="897.07" cy="1075.92" rx="6.00" ry="5.70" fill="#d4d4d4"/>
<ellipse cx="256.30" cy="1094.75" rx="4.50" ry="4.27" fill="#dedede"/>
<circle cx="276.77" cy="1094.75" r="1.5" fill="#f8f8f8"/>
<circle cx="297.24" cy="1094.75" r="1.5" fill="#f8f8f8"/>
<circle cx="317.71" cy="1094.75" r="1.5" fill="#f8f8f8"/>
<circle cx="338.18" cy="1094.75" r="1.5" fill="#f8f8f8"/>
<circle cx="358.65" cy="1094.75" r="1.5" fill="#f8f8f8"/>
<circle cx="379.12" cy="1094.75" r="1.5" fill="#f8f8f8"/>
<circle cx="399.59" cy="1094.75" r="1.5" fill="#f8f8f8"/>
<circle cx="420.06" cy="1094.75" r="1.5" fill="#f8f8f8"/>
<circle cx="440.53" cy="1094.75" r="1.5" fill="#f8f8f8"/>
<circle cx="461.00" cy="1094.75" r="1.5" fill="#f8f8f8"/>
<circle cx="481.47" cy="1094.75" r="1.5" fill="#f8f8f8"/>
<circle cx="501.94" cy="1094.75" r="1.5" fill="#f8f8f8"/>
<circle cx="522.41" cy="1094.75" r="1.5" fill="#f8f8f8"/>
<circle cx="542.88" cy="1094.75" r="1.5" fill="#f8f8f8"/>
<circle cx="563.35" cy="1094.75" r="1.5" fill="#f8f8f8"/>
<circle cx="583.82" cy="1094.75" r="1.5" fill="#f8f8f8"/>
<ellipse cx="604.29" cy="1094.75" rx="5.50" ry="5.22" fill="#d7d7d7"/>
<ellipse cx="624.76" cy="1094.75" rx="8.00" ry="7.60" fill="#c3c3c3"/>
<ellipse cx="645.23" cy="1094.75" rx="5.50" ry="5.22" fill="#dcdcdc"/>
<circle cx="665.70" cy="1094.75" r="1.5" fill="#f8f8f8"/>
<circle cx="686.17" cy="1094.75" r="1.5" fill="#f8f8f8"/>
<circle cx="712.75" cy="1094.75" r="1.5" fill="#f8f8f8"/>
<circle cx="733.23" cy="1094.75" r="1.5" fill="#f8f8f8"/>
<circle cx="753.71" cy="1094.75" r="1.5" fill="#f8f8f8"/>
<circle cx="774.19" cy="1094.75" r="1.5" fill="#f8f8f8"/>
<circle cx="794.67" cy="1094.75" r="1.5" fill="#f8f8f8"/>
<circle cx="815.15" cy="1094.75" r="1.5" fill="#f8f8f8"/>
<circle cx="835.63" cy="1094.75" r="1.5" fill="#f8f8f8"/>
<circle cx="856.11" cy="1094.75" r="1.5" fill="#f8f8f8"/>
<circle cx="876.59" cy="1094.75" r="1.5" fill="#f8f8f8"/>
<ellipse cx="897.07" cy="1094.75" rx="5.00" ry="4.75" fill="#dedede"/>
<circle cx="256.30" cy="1113.58" r="1.5" fill="#f8f8f8"/>
<circle cx="276.77" cy="1113.58" r="1.5" fill="#f8f8f8"/>
<circle cx="297.24" cy="1113.58" r="1.5" fill="#f8f8f8"/>
<circle cx="317.71" cy="1113.58" r="1.5" fill="#f8f8f8"/>
<circle cx="338.18" cy="1113.58" r="1.5" fill="#f8f8f8"/>
<circle cx="358.65" cy="1113.58" r="1.5" fill="#f8f8f8"/>
<circle cx="379.12" cy="1113.58" r="1.5" fill="#f8f8f8"/>
<circle cx="399.59" cy="1113.58" r="1.5" fill="#f8f8f8"/>
<circle cx="420.06" cy="1113.58" r="1.5" fill="#f8f8f8"/>
<circle cx="440.53" cy="1113.58" r="1.5" fill="#f8f8f8"/>
<circle cx="461.00" cy="1113.58" r="1.5" fill="#f8f8f8"/>
<circle cx="481.47" cy="1113.58" r="1.5" fill="#f8f8f8"/>
<circle cx="501.94" cy="1113.58" r="1.5" fill="#f8f8f8"/>
<circle cx="522.41" cy="1113.58" r="1.5" fill="#f8f8f8"/>
<circle cx="542.88" cy="1113.58" r="1.5" fill="#f8f8f8"/>
<circle cx="563.35" cy="1113.58" r="1.5" fill="#f8f8f8"/>
<circle cx="583.82" cy="1113.58" r="1.5" fill="#f8f8f8"/>
<ellipse cx="604.29" cy="1113.58" rx="5.00" ry="4.75" fill="#dcdcdc"/>
<ellipse cx="624.76" cy="1113.58" rx="10.00" ry="9.50" fill="#8c8c8c"/>
<ellipse cx="645.23" cy="1113.58" rx="10.00" ry="9.50" fill="#9b9b9b"/>
<ellipse cx="665.70" cy="1113.58" rx="4.00" ry="3.80" fill="#dedede"/>
<circle cx="686.17" cy="1113.58" r="1.5" fill="#f8f8f8"/>
<circle cx="712.75" cy="1113.58" r="1.5" fill="#f8f8f8"/>
<circle cx="733.23" cy="1113.58" r="1.5" fill="#f8f8f8"/>
<circle cx="753.71" cy="1113.58" r="1.5" fill="#f8f8f8"/>
<circle cx="774.19" cy="1113.58" r="1.5" fill="#f8f8f8"/>
<circle cx="794.67" cy="1113.58" r="1.5" fill="#f8f8f8"/>
<circle cx="815.15" cy="1113.58" r="1.5" fill="#f8f8f8"/>
<circle cx="835.63" cy="1113.58" r="1.5" fill="#f8f8f8"/>
<circle cx="856.11" cy="1113.58" r="1.5" fill="#f8f8f8"/>
<circle cx="876.59" cy="1113.58" r="1.5" fill="#f8f8f8"/>
<ellipse cx="897.07" cy="1113.58" rx="5.00" ry="4.75" fill="#dedede"/>
<rect x="246.05" y="1066.85" width="450.20" height="55.80" fill="none" stroke="#231f20" stroke-width="1.9"/>
<rect x="702.75" y="1066.85" width="204.70" height="55.80" fill="none" stroke="#231f20" stroke-width="1.9"/>
<line x1="241.20" y1="1075.92" x2="245.60" y2="1075.92" stroke="#231f20" stroke-width="1.6" stroke-linecap="butt"/>
<text transform="translate(236.30,1084.32) scale(0.8465,1)" text-anchor="end" font-size="20.2" font-weight="normal" xml:space="preserve"><tspan font-style="normal" fill="#2aa9db" stroke="#2aa9db" stroke-width="0.4">hu </tspan><tspan font-style="italic" fill="#2aa9db" stroke="#2aa9db" stroke-width="0.4">CLEC7A</tspan></text>
<line x1="241.20" y1="1094.75" x2="245.60" y2="1094.75" stroke="#231f20" stroke-width="1.6" stroke-linecap="butt"/>
<text transform="translate(236.30,1103.15) scale(0.8465,1)" text-anchor="end" font-size="20.2" font-weight="normal" xml:space="preserve"><tspan font-style="normal" fill="#231f20" stroke="#231f20" stroke-width="0.4">le </tspan><tspan font-style="italic" fill="#231f20" stroke="#231f20" stroke-width="0.4">CLEC7A</tspan></text>
<line x1="241.20" y1="1113.58" x2="245.60" y2="1113.58" stroke="#231f20" stroke-width="1.6" stroke-linecap="butt"/>
<text transform="translate(236.30,1121.98) scale(0.8465,1)" text-anchor="end" font-size="20.2" font-weight="normal" xml:space="preserve"><tspan font-style="normal" fill="#c4601e" stroke="#c4601e" stroke-width="0.4">ms </tspan><tspan font-style="italic" fill="#c4601e" stroke="#c4601e" stroke-width="0.4">Clec7a</tspan></text>
<circle cx="256.30" cy="1140.62" r="1.5" fill="#f8f8f8"/>
<circle cx="276.77" cy="1140.62" r="1.5" fill="#f8f8f8"/>
<circle cx="297.24" cy="1140.62" r="1.5" fill="#f8f8f8"/>
<circle cx="317.71" cy="1140.62" r="1.5" fill="#f8f8f8"/>
<circle cx="338.18" cy="1140.62" r="1.5" fill="#f8f8f8"/>
<circle cx="358.65" cy="1140.62" r="1.5" fill="#f8f8f8"/>
<circle cx="379.12" cy="1140.62" r="1.5" fill="#f8f8f8"/>
<circle cx="399.59" cy="1140.62" r="1.5" fill="#f8f8f8"/>
<circle cx="420.06" cy="1140.62" r="1.5" fill="#f8f8f8"/>
<circle cx="440.53" cy="1140.62" r="1.5" fill="#f8f8f8"/>
<circle cx="461.00" cy="1140.62" r="1.5" fill="#f8f8f8"/>
<circle cx="481.47" cy="1140.62" r="1.5" fill="#f8f8f8"/>
<circle cx="501.94" cy="1140.62" r="1.5" fill="#f8f8f8"/>
<circle cx="522.41" cy="1140.62" r="1.5" fill="#f8f8f8"/>
<circle cx="542.88" cy="1140.62" r="1.5" fill="#f8f8f8"/>
<circle cx="563.35" cy="1140.62" r="1.5" fill="#f8f8f8"/>
<circle cx="583.82" cy="1140.62" r="1.5" fill="#f8f8f8"/>
<circle cx="604.29" cy="1140.62" r="1.5" fill="#f8f8f8"/>
<circle cx="624.76" cy="1140.62" r="1.5" fill="#f8f8f8"/>
<circle cx="645.23" cy="1140.62" r="1.5" fill="#f8f8f8"/>
<circle cx="665.70" cy="1140.62" r="1.5" fill="#f8f8f8"/>
<ellipse cx="686.17" cy="1140.62" rx="2.00" ry="1.90" fill="#efefef"/>
<circle cx="712.75" cy="1140.62" r="1.5" fill="#f8f8f8"/>
<circle cx="733.23" cy="1140.62" r="1.5" fill="#f8f8f8"/>
<circle cx="753.71" cy="1140.62" r="1.5" fill="#f8f8f8"/>
<circle cx="774.19" cy="1140.62" r="1.5" fill="#f8f8f8"/>
<circle cx="794.67" cy="1140.62" r="1.5" fill="#f8f8f8"/>
<circle cx="815.15" cy="1140.62" r="1.5" fill="#f8f8f8"/>
<circle cx="835.63" cy="1140.62" r="1.5" fill="#f8f8f8"/>
<circle cx="856.11" cy="1140.62" r="1.5" fill="#f8f8f8"/>
<circle cx="876.59" cy="1140.62" r="1.5" fill="#f8f8f8"/>
<circle cx="897.07" cy="1140.62" r="1.5" fill="#f8f8f8"/>
<circle cx="256.30" cy="1159.45" r="1.5" fill="#f8f8f8"/>
<circle cx="276.77" cy="1159.45" r="1.5" fill="#f8f8f8"/>
<circle cx="297.24" cy="1159.45" r="1.5" fill="#f8f8f8"/>
<circle cx="317.71" cy="1159.45" r="1.5" fill="#f8f8f8"/>
<circle cx="338.18" cy="1159.45" r="1.5" fill="#f8f8f8"/>
<circle cx="358.65" cy="1159.45" r="1.5" fill="#f8f8f8"/>
<circle cx="379.12" cy="1159.45" r="1.5" fill="#f8f8f8"/>
<circle cx="399.59" cy="1159.45" r="1.5" fill="#f8f8f8"/>
<circle cx="420.06" cy="1159.45" r="1.5" fill="#f8f8f8"/>
<circle cx="440.53" cy="1159.45" r="1.5" fill="#f8f8f8"/>
<circle cx="461.00" cy="1159.45" r="1.5" fill="#f8f8f8"/>
<circle cx="481.47" cy="1159.45" r="1.5" fill="#f8f8f8"/>
<circle cx="501.94" cy="1159.45" r="1.5" fill="#f8f8f8"/>
<circle cx="522.41" cy="1159.45" r="1.5" fill="#f8f8f8"/>
<circle cx="542.88" cy="1159.45" r="1.5" fill="#f8f8f8"/>
<circle cx="563.35" cy="1159.45" r="1.5" fill="#f8f8f8"/>
<circle cx="583.82" cy="1159.45" r="1.5" fill="#f8f8f8"/>
<circle cx="604.29" cy="1159.45" r="1.5" fill="#f8f8f8"/>
<circle cx="624.76" cy="1159.45" r="1.5" fill="#f8f8f8"/>
<circle cx="645.23" cy="1159.45" r="1.5" fill="#f8f8f8"/>
<circle cx="665.70" cy="1159.45" r="1.5" fill="#f8f8f8"/>
<ellipse cx="686.17" cy="1159.45" rx="5.00" ry="4.75" fill="#d7d7d7"/>
<circle cx="712.75" cy="1159.45" r="1.5" fill="#f8f8f8"/>
<circle cx="733.23" cy="1159.45" r="1.5" fill="#f8f8f8"/>
<circle cx="753.71" cy="1159.45" r="1.5" fill="#f8f8f8"/>
<circle cx="774.19" cy="1159.45" r="1.5" fill="#f8f8f8"/>
<circle cx="794.67" cy="1159.45" r="1.5" fill="#f8f8f8"/>
<circle cx="815.15" cy="1159.45" r="1.5" fill="#f8f8f8"/>
<circle cx="835.63" cy="1159.45" r="1.5" fill="#f8f8f8"/>
<circle cx="856.11" cy="1159.45" r="1.5" fill="#f8f8f8"/>
<circle cx="876.59" cy="1159.45" r="1.5" fill="#f8f8f8"/>
<circle cx="897.07" cy="1159.45" r="1.5" fill="#f8f8f8"/>
<circle cx="256.30" cy="1178.28" r="1.5" fill="#f8f8f8"/>
<circle cx="276.77" cy="1178.28" r="1.5" fill="#f8f8f8"/>
<circle cx="297.24" cy="1178.28" r="1.5" fill="#f8f8f8"/>
<circle cx="317.71" cy="1178.28" r="1.5" fill="#f8f8f8"/>
<circle cx="338.18" cy="1178.28" r="1.5" fill="#f8f8f8"/>
<circle cx="358.65" cy="1178.28" r="1.5" fill="#f8f8f8"/>
<circle cx="379.12" cy="1178.28" r="1.5" fill="#f8f8f8"/>
<circle cx="399.59" cy="1178.28" r="1.5" fill="#f8f8f8"/>
<circle cx="420.06" cy="1178.28" r="1.5" fill="#f8f8f8"/>
<circle cx="440.53" cy="1178.28" r="1.5" fill="#f8f8f8"/>
<circle cx="461.00" cy="1178.28" r="1.5" fill="#f8f8f8"/>
<circle cx="481.47" cy="1178.28" r="1.5" fill="#f8f8f8"/>
<ellipse cx="501.94" cy="1178.28" rx="2.00" ry="1.90" fill="#f1f1f1"/>
<circle cx="522.41" cy="1178.28" r="1.5" fill="#f8f8f8"/>
<circle cx="542.88" cy="1178.28" r="1.5" fill="#f8f8f8"/>
<circle cx="563.35" cy="1178.28" r="1.5" fill="#f8f8f8"/>
<circle cx="583.82" cy="1178.28" r="1.5" fill="#f8f8f8"/>
<circle cx="604.29" cy="1178.28" r="1.5" fill="#f8f8f8"/>
<circle cx="624.76" cy="1178.28" r="1.5" fill="#f8f8f8"/>
<circle cx="645.23" cy="1178.28" r="1.5" fill="#f8f8f8"/>
<circle cx="665.70" cy="1178.28" r="1.5" fill="#f8f8f8"/>
<ellipse cx="686.17" cy="1178.28" rx="6.50" ry="6.17" fill="#cdcdcd"/>
<circle cx="712.75" cy="1178.28" r="1.5" fill="#f8f8f8"/>
<circle cx="733.23" cy="1178.28" r="1.5" fill="#f8f8f8"/>
<circle cx="753.71" cy="1178.28" r="1.5" fill="#f8f8f8"/>
<circle cx="774.19" cy="1178.28" r="1.5" fill="#f8f8f8"/>
<circle cx="794.67" cy="1178.28" r="1.5" fill="#f8f8f8"/>
<circle cx="815.15" cy="1178.28" r="1.5" fill="#f8f8f8"/>
<circle cx="835.63" cy="1178.28" r="1.5" fill="#f8f8f8"/>
<ellipse cx="856.11" cy="1178.28" rx="2.50" ry="2.38" fill="#efefef"/>
<circle cx="876.59" cy="1178.28" r="1.5" fill="#f8f8f8"/>
<circle cx="897.07" cy="1178.28" r="1.5" fill="#f8f8f8"/>
<rect x="246.05" y="1131.55" width="450.20" height="55.80" fill="none" stroke="#231f20" stroke-width="1.9"/>
<rect x="702.75" y="1131.55" width="204.70" height="55.80" fill="none" stroke="#231f20" stroke-width="1.9"/>
<line x1="241.20" y1="1140.62" x2="245.60" y2="1140.62" stroke="#231f20" stroke-width="1.6" stroke-linecap="butt"/>
<text transform="translate(236.30,1149.02) scale(0.8465,1)" text-anchor="end" font-size="20.2" font-weight="normal" xml:space="preserve"><tspan font-style="normal" fill="#2aa9db" stroke="#2aa9db" stroke-width="0.4">hu </tspan><tspan font-style="italic" fill="#2aa9db" stroke="#2aa9db" stroke-width="0.4">PACSIN1</tspan></text>
<line x1="241.20" y1="1159.45" x2="245.60" y2="1159.45" stroke="#231f20" stroke-width="1.6" stroke-linecap="butt"/>
<text transform="translate(236.30,1167.85) scale(0.8465,1)" text-anchor="end" font-size="20.2" font-weight="normal" xml:space="preserve"><tspan font-style="normal" fill="#231f20" stroke="#231f20" stroke-width="0.4">le </tspan><tspan font-style="italic" fill="#231f20" stroke="#231f20" stroke-width="0.4">PACSIN1</tspan></text>
<line x1="241.20" y1="1178.28" x2="245.60" y2="1178.28" stroke="#231f20" stroke-width="1.6" stroke-linecap="butt"/>
<text transform="translate(236.30,1186.68) scale(0.8465,1)" text-anchor="end" font-size="20.2" font-weight="normal" xml:space="preserve"><tspan font-style="normal" fill="#c4601e" stroke="#c4601e" stroke-width="0.4">ms </tspan><tspan font-style="italic" fill="#c4601e" stroke="#c4601e" stroke-width="0.4">Pacsin1</tspan></text>
<circle cx="256.30" cy="1205.27" r="1.5" fill="#f8f8f8"/>
<circle cx="276.77" cy="1205.27" r="1.5" fill="#f8f8f8"/>
<circle cx="297.24" cy="1205.27" r="1.5" fill="#f8f8f8"/>
<circle cx="317.71" cy="1205.27" r="1.5" fill="#f8f8f8"/>
<circle cx="338.18" cy="1205.27" r="1.5" fill="#f8f8f8"/>
<circle cx="358.65" cy="1205.27" r="1.5" fill="#f8f8f8"/>
<circle cx="379.12" cy="1205.27" r="1.5" fill="#f8f8f8"/>
<circle cx="399.59" cy="1205.27" r="1.5" fill="#f8f8f8"/>
<circle cx="420.06" cy="1205.27" r="1.5" fill="#f8f8f8"/>
<circle cx="440.53" cy="1205.27" r="1.5" fill="#f8f8f8"/>
<circle cx="461.00" cy="1205.27" r="1.5" fill="#f8f8f8"/>
<circle cx="481.47" cy="1205.27" r="1.5" fill="#f8f8f8"/>
<circle cx="501.94" cy="1205.27" r="1.5" fill="#f8f8f8"/>
<circle cx="522.41" cy="1205.27" r="1.5" fill="#f8f8f8"/>
<circle cx="542.88" cy="1205.27" r="1.5" fill="#f8f8f8"/>
<circle cx="563.35" cy="1205.27" r="1.5" fill="#f8f8f8"/>
<circle cx="583.82" cy="1205.27" r="1.5" fill="#f8f8f8"/>
<circle cx="604.29" cy="1205.27" r="1.5" fill="#f8f8f8"/>
<circle cx="624.76" cy="1205.27" r="1.5" fill="#f8f8f8"/>
<circle cx="645.23" cy="1205.27" r="1.5" fill="#f8f8f8"/>
<circle cx="665.70" cy="1205.27" r="1.5" fill="#f8f8f8"/>
<circle cx="686.17" cy="1205.27" r="1.5" fill="#f8f8f8"/>
<circle cx="712.75" cy="1205.27" r="1.5" fill="#f8f8f8"/>
<circle cx="733.23" cy="1205.27" r="1.5" fill="#f8f8f8"/>
<ellipse cx="753.71" cy="1205.27" rx="9.50" ry="9.03" fill="#191919"/>
<circle cx="774.19" cy="1205.27" r="1.5" fill="#f8f8f8"/>
<circle cx="794.67" cy="1205.27" r="1.5" fill="#f8f8f8"/>
<ellipse cx="815.15" cy="1205.27" rx="2.50" ry="2.38" fill="#dedede"/>
<circle cx="835.63" cy="1205.27" r="1.5" fill="#f8f8f8"/>
<circle cx="856.11" cy="1205.27" r="1.5" fill="#f8f8f8"/>
<circle cx="876.59" cy="1205.27" r="1.5" fill="#f8f8f8"/>
<circle cx="897.07" cy="1205.27" r="1.5" fill="#f8f8f8"/>
<circle cx="256.30" cy="1224.00" r="1.5" fill="#f8f8f8"/>
<circle cx="276.77" cy="1224.00" r="1.5" fill="#f8f8f8"/>
<circle cx="297.24" cy="1224.00" r="1.5" fill="#f8f8f8"/>
<circle cx="317.71" cy="1224.00" r="1.5" fill="#f8f8f8"/>
<circle cx="338.18" cy="1224.00" r="1.5" fill="#f8f8f8"/>
<circle cx="358.65" cy="1224.00" r="1.5" fill="#f8f8f8"/>
<circle cx="379.12" cy="1224.00" r="1.5" fill="#f8f8f8"/>
<ellipse cx="399.59" cy="1224.00" rx="4.50" ry="4.27" fill="#cdcdcd"/>
<circle cx="420.06" cy="1224.00" r="1.5" fill="#f8f8f8"/>
<circle cx="440.53" cy="1224.00" r="1.5" fill="#f8f8f8"/>
<circle cx="461.00" cy="1224.00" r="1.5" fill="#f8f8f8"/>
<circle cx="481.47" cy="1224.00" r="1.5" fill="#f8f8f8"/>
<circle cx="501.94" cy="1224.00" r="1.5" fill="#f8f8f8"/>
<circle cx="522.41" cy="1224.00" r="1.5" fill="#f8f8f8"/>
<circle cx="542.88" cy="1224.00" r="1.5" fill="#f8f8f8"/>
<circle cx="563.35" cy="1224.00" r="1.5" fill="#f8f8f8"/>
<circle cx="583.82" cy="1224.00" r="1.5" fill="#f8f8f8"/>
<circle cx="604.29" cy="1224.00" r="1.5" fill="#f8f8f8"/>
<circle cx="624.76" cy="1224.00" r="1.5" fill="#f8f8f8"/>
<circle cx="645.23" cy="1224.00" r="1.5" fill="#f8f8f8"/>
<circle cx="665.70" cy="1224.00" r="1.5" fill="#f8f8f8"/>
<circle cx="686.17" cy="1224.00" r="1.5" fill="#f8f8f8"/>
<circle cx="712.75" cy="1224.00" r="1.5" fill="#f8f8f8"/>
<circle cx="733.23" cy="1224.00" r="1.5" fill="#f8f8f8"/>
<ellipse cx="753.71" cy="1224.00" rx="7.00" ry="6.65" fill="#aaaaaa"/>
<ellipse cx="774.19" cy="1224.00" rx="2.00" ry="1.90" fill="#efefef"/>
<circle cx="794.67" cy="1224.00" r="1.5" fill="#f8f8f8"/>
<circle cx="815.15" cy="1224.00" r="1.5" fill="#f8f8f8"/>
<circle cx="835.63" cy="1224.00" r="1.5" fill="#f8f8f8"/>
<circle cx="856.11" cy="1224.00" r="1.5" fill="#f8f8f8"/>
<circle cx="876.59" cy="1224.00" r="1.5" fill="#f8f8f8"/>
<circle cx="897.07" cy="1224.00" r="1.5" fill="#f8f8f8"/>
<circle cx="256.30" cy="1242.73" r="1.5" fill="#f8f8f8"/>
<circle cx="276.77" cy="1242.73" r="1.5" fill="#f8f8f8"/>
<circle cx="297.24" cy="1242.73" r="1.5" fill="#f8f8f8"/>
<circle cx="317.71" cy="1242.73" r="1.5" fill="#f8f8f8"/>
<circle cx="338.18" cy="1242.73" r="1.5" fill="#f8f8f8"/>
<circle cx="358.65" cy="1242.73" r="1.5" fill="#f8f8f8"/>
<ellipse cx="379.12" cy="1242.73" rx="3.00" ry="2.85" fill="#dedede"/>
<circle cx="399.59" cy="1242.73" r="1.5" fill="#f8f8f8"/>
<circle cx="420.06" cy="1242.73" r="1.5" fill="#f8f8f8"/>
<circle cx="440.53" cy="1242.73" r="1.5" fill="#f8f8f8"/>
<circle cx="461.00" cy="1242.73" r="1.5" fill="#f8f8f8"/>
<circle cx="481.47" cy="1242.73" r="1.5" fill="#f8f8f8"/>
<circle cx="501.94" cy="1242.73" r="1.5" fill="#f8f8f8"/>
<circle cx="522.41" cy="1242.73" r="1.5" fill="#f8f8f8"/>
<circle cx="542.88" cy="1242.73" r="1.5" fill="#f8f8f8"/>
<circle cx="563.35" cy="1242.73" r="1.5" fill="#f8f8f8"/>
<circle cx="583.82" cy="1242.73" r="1.5" fill="#f8f8f8"/>
<circle cx="604.29" cy="1242.73" r="1.5" fill="#f8f8f8"/>
<circle cx="624.76" cy="1242.73" r="1.5" fill="#f8f8f8"/>
<circle cx="645.23" cy="1242.73" r="1.5" fill="#f8f8f8"/>
<circle cx="665.70" cy="1242.73" r="1.5" fill="#f8f8f8"/>
<circle cx="686.17" cy="1242.73" r="1.5" fill="#f8f8f8"/>
<ellipse cx="712.75" cy="1242.73" rx="3.50" ry="3.32" fill="#e1e1e1"/>
<circle cx="733.23" cy="1242.73" r="1.5" fill="#f8f8f8"/>
<ellipse cx="753.71" cy="1242.73" rx="9.00" ry="8.55" fill="#191919"/>
<circle cx="774.19" cy="1242.73" r="1.5" fill="#f8f8f8"/>
<circle cx="794.67" cy="1242.73" r="1.5" fill="#f8f8f8"/>
<ellipse cx="815.15" cy="1242.73" rx="3.00" ry="2.85" fill="#d2d2d2"/>
<ellipse cx="835.63" cy="1242.73" rx="2.50" ry="2.38" fill="#ebebeb"/>
<ellipse cx="856.11" cy="1242.73" rx="2.00" ry="1.90" fill="#ededed"/>
<circle cx="876.59" cy="1242.73" r="1.5" fill="#f8f8f8"/>
<circle cx="897.07" cy="1242.73" r="1.5" fill="#f8f8f8"/>
<rect x="246.05" y="1196.25" width="450.20" height="55.50" fill="none" stroke="#231f20" stroke-width="1.9"/>
<rect x="702.75" y="1196.25" width="204.70" height="55.50" fill="none" stroke="#231f20" stroke-width="1.9"/>
<line x1="241.20" y1="1205.27" x2="245.60" y2="1205.27" stroke="#231f20" stroke-width="1.6" stroke-linecap="butt"/>
<text transform="translate(236.30,1213.67) scale(0.8465,1)" text-anchor="end" font-size="20.2" font-weight="normal" xml:space="preserve"><tspan font-style="normal" fill="#2aa9db" stroke="#2aa9db" stroke-width="0.4">hu </tspan><tspan font-style="italic" fill="#2aa9db" stroke="#2aa9db" stroke-width="0.4">COMP</tspan></text>
<line x1="241.20" y1="1224.00" x2="245.60" y2="1224.00" stroke="#231f20" stroke-width="1.6" stroke-linecap="butt"/>
<text transform="translate(236.30,1232.40) scale(0.8465,1)" text-anchor="end" font-size="20.2" font-weight="normal" xml:space="preserve"><tspan font-style="normal" fill="#231f20" stroke="#231f20" stroke-width="0.4">le </tspan><tspan font-style="italic" fill="#231f20" stroke="#231f20" stroke-width="0.4">COMP</tspan></text>
<line x1="241.20" y1="1242.73" x2="245.60" y2="1242.73" stroke="#231f20" stroke-width="1.6" stroke-linecap="butt"/>
<text transform="translate(236.30,1251.13) scale(0.8465,1)" text-anchor="end" font-size="20.2" font-weight="normal" xml:space="preserve"><tspan font-style="normal" fill="#c4601e" stroke="#c4601e" stroke-width="0.4">ms </tspan><tspan font-style="italic" fill="#c4601e" stroke="#c4601e" stroke-width="0.4">Comp</tspan></text>
<ellipse cx="774.19" cy="1270.15" rx="4.50" ry="4.27" fill="#d7d7d7"/>
<ellipse cx="774.19" cy="1289.85" rx="4.00" ry="3.80" fill="#e1e1e1"/>
<ellipse cx="774.19" cy="1309.55" rx="7.00" ry="6.65" fill="#b9b9b9"/>
<rect x="246.05" y="1260.65" width="450.20" height="58.40" fill="none" stroke="#231f20" stroke-width="1.9"/>
<rect x="702.75" y="1260.65" width="204.70" height="58.40" fill="none" stroke="#231f20" stroke-width="1.9"/>
<line x1="241.20" y1="1270.15" x2="245.60" y2="1270.15" stroke="#231f20" stroke-width="1.6" stroke-linecap="butt"/>
<text transform="translate(236.30,1278.55) scale(0.8465,1)" text-anchor="end" font-size="20.2" font-weight="normal" xml:space="preserve"><tspan font-style="normal" fill="#2aa9db" stroke="#2aa9db" stroke-width="0.4">hu </tspan><tspan font-style="italic" fill="#2aa9db" stroke="#2aa9db" stroke-width="0.4">CHRDL2</tspan></text>
<line x1="241.20" y1="1289.85" x2="245.60" y2="1289.85" stroke="#231f20" stroke-width="1.6" stroke-linecap="butt"/>
<text transform="translate(236.30,1298.25) scale(0.8465,1)" text-anchor="end" font-size="20.2" font-weight="normal" xml:space="preserve"><tspan font-style="normal" fill="#231f20" stroke="#231f20" stroke-width="0.4">le </tspan><tspan font-style="italic" fill="#231f20" stroke="#231f20" stroke-width="0.4">CHRDL2</tspan></text>
<line x1="241.20" y1="1309.55" x2="245.60" y2="1309.55" stroke="#231f20" stroke-width="1.6" stroke-linecap="butt"/>
<text transform="translate(236.30,1317.95) scale(0.8465,1)" text-anchor="end" font-size="20.2" font-weight="normal" xml:space="preserve"><tspan font-style="normal" fill="#c4601e" stroke="#c4601e" stroke-width="0.4">ms </tspan><tspan font-style="italic" fill="#c4601e" stroke="#c4601e" stroke-width="0.4">Chrdl2</tspan></text>
<circle cx="256.30" cy="1337.45" r="1.5" fill="#f8f8f8"/>
<circle cx="276.77" cy="1337.45" r="1.5" fill="#f8f8f8"/>
<circle cx="297.24" cy="1337.45" r="1.5" fill="#f8f8f8"/>
<circle cx="317.71" cy="1337.45" r="1.5" fill="#f8f8f8"/>
<circle cx="338.18" cy="1337.45" r="1.5" fill="#f8f8f8"/>
<circle cx="358.65" cy="1337.45" r="1.5" fill="#f8f8f8"/>
<circle cx="379.12" cy="1337.45" r="1.5" fill="#f8f8f8"/>
<circle cx="399.59" cy="1337.45" r="1.5" fill="#f8f8f8"/>
<circle cx="420.06" cy="1337.45" r="1.5" fill="#f8f8f8"/>
<circle cx="440.53" cy="1337.45" r="1.5" fill="#f8f8f8"/>
<circle cx="461.00" cy="1337.45" r="1.5" fill="#f8f8f8"/>
<circle cx="481.47" cy="1337.45" r="1.5" fill="#f8f8f8"/>
<circle cx="501.94" cy="1337.45" r="1.5" fill="#f8f8f8"/>
<circle cx="522.41" cy="1337.45" r="1.5" fill="#f8f8f8"/>
<circle cx="542.88" cy="1337.45" r="1.5" fill="#f8f8f8"/>
<circle cx="563.35" cy="1337.45" r="1.5" fill="#f8f8f8"/>
<circle cx="583.82" cy="1337.45" r="1.5" fill="#f8f8f8"/>
<circle cx="604.29" cy="1337.45" r="1.5" fill="#f8f8f8"/>
<circle cx="624.76" cy="1337.45" r="1.5" fill="#f8f8f8"/>
<circle cx="645.23" cy="1337.45" r="1.5" fill="#f8f8f8"/>
<circle cx="665.70" cy="1337.45" r="1.5" fill="#f8f8f8"/>
<circle cx="686.17" cy="1337.45" r="1.5" fill="#f8f8f8"/>
<circle cx="712.75" cy="1337.45" r="1.5" fill="#f8f8f8"/>
<ellipse cx="733.23" cy="1337.45" rx="3.00" ry="2.85" fill="#e4e4e4"/>
<ellipse cx="753.71" cy="1337.45" rx="4.00" ry="3.80" fill="#e4e4e4"/>
<circle cx="774.19" cy="1337.45" r="1.5" fill="#f8f8f8"/>
<ellipse cx="794.67" cy="1337.45" rx="10.25" ry="9.74" fill="#0c0c0c"/>
<circle cx="815.15" cy="1337.45" r="1.5" fill="#f8f8f8"/>
<ellipse cx="835.63" cy="1337.45" rx="3.00" ry="2.85" fill="#e4e4e4"/>
<ellipse cx="856.11" cy="1337.45" rx="3.00" ry="2.85" fill="#e6e6e6"/>
<circle cx="876.59" cy="1337.45" r="1.5" fill="#f8f8f8"/>
<circle cx="897.07" cy="1337.45" r="1.5" fill="#f8f8f8"/>
<circle cx="256.30" cy="1357.15" r="1.5" fill="#f8f8f8"/>
<circle cx="276.77" cy="1357.15" r="1.5" fill="#f8f8f8"/>
<circle cx="297.24" cy="1357.15" r="1.5" fill="#f8f8f8"/>
<circle cx="317.71" cy="1357.15" r="1.5" fill="#f8f8f8"/>
<circle cx="338.18" cy="1357.15" r="1.5" fill="#f8f8f8"/>
<circle cx="358.65" cy="1357.15" r="1.5" fill="#f8f8f8"/>
<circle cx="379.12" cy="1357.15" r="1.5" fill="#f8f8f8"/>
<circle cx="399.59" cy="1357.15" r="1.5" fill="#f8f8f8"/>
<circle cx="420.06" cy="1357.15" r="1.5" fill="#f8f8f8"/>
<circle cx="440.53" cy="1357.15" r="1.5" fill="#f8f8f8"/>
<circle cx="461.00" cy="1357.15" r="1.5" fill="#f8f8f8"/>
<circle cx="481.47" cy="1357.15" r="1.5" fill="#f8f8f8"/>
<circle cx="501.94" cy="1357.15" r="1.5" fill="#f8f8f8"/>
<circle cx="522.41" cy="1357.15" r="1.5" fill="#f8f8f8"/>
<circle cx="542.88" cy="1357.15" r="1.5" fill="#f8f8f8"/>
<circle cx="563.35" cy="1357.15" r="1.5" fill="#f8f8f8"/>
<circle cx="583.82" cy="1357.15" r="1.5" fill="#f8f8f8"/>
<circle cx="604.29" cy="1357.15" r="1.5" fill="#f8f8f8"/>
<circle cx="624.76" cy="1357.15" r="1.5" fill="#f8f8f8"/>
<circle cx="645.23" cy="1357.15" r="1.5" fill="#f8f8f8"/>
<circle cx="665.70" cy="1357.15" r="1.5" fill="#f8f8f8"/>
<circle cx="686.17" cy="1357.15" r="1.5" fill="#f8f8f8"/>
<circle cx="712.75" cy="1357.15" r="1.5" fill="#f8f8f8"/>
<circle cx="733.23" cy="1357.15" r="1.5" fill="#f8f8f8"/>
<circle cx="753.71" cy="1357.15" r="1.5" fill="#f8f8f8"/>
<circle cx="774.19" cy="1357.15" r="1.5" fill="#f8f8f8"/>
<ellipse cx="794.67" cy="1357.15" rx="10.25" ry="9.74" fill="#0a0a0a"/>
<circle cx="815.15" cy="1357.15" r="1.5" fill="#f8f8f8"/>
<circle cx="835.63" cy="1357.15" r="1.5" fill="#f8f8f8"/>
<circle cx="856.11" cy="1357.15" r="1.5" fill="#f8f8f8"/>
<circle cx="876.59" cy="1357.15" r="1.5" fill="#f8f8f8"/>
<circle cx="897.07" cy="1357.15" r="1.5" fill="#f8f8f8"/>
<circle cx="256.30" cy="1376.85" r="1.5" fill="#f8f8f8"/>
<circle cx="276.77" cy="1376.85" r="1.5" fill="#f8f8f8"/>
<circle cx="297.24" cy="1376.85" r="1.5" fill="#f8f8f8"/>
<circle cx="317.71" cy="1376.85" r="1.5" fill="#f8f8f8"/>
<circle cx="338.18" cy="1376.85" r="1.5" fill="#f8f8f8"/>
<circle cx="358.65" cy="1376.85" r="1.5" fill="#f8f8f8"/>
<circle cx="379.12" cy="1376.85" r="1.5" fill="#f8f8f8"/>
<circle cx="399.59" cy="1376.85" r="1.5" fill="#f8f8f8"/>
<circle cx="420.06" cy="1376.85" r="1.5" fill="#f8f8f8"/>
<circle cx="440.53" cy="1376.85" r="1.5" fill="#f8f8f8"/>
<circle cx="461.00" cy="1376.85" r="1.5" fill="#f8f8f8"/>
<circle cx="481.47" cy="1376.85" r="1.5" fill="#f8f8f8"/>
<circle cx="501.94" cy="1376.85" r="1.5" fill="#f8f8f8"/>
<circle cx="522.41" cy="1376.85" r="1.5" fill="#f8f8f8"/>
<circle cx="542.88" cy="1376.85" r="1.5" fill="#f8f8f8"/>
<circle cx="563.35" cy="1376.85" r="1.5" fill="#f8f8f8"/>
<circle cx="583.82" cy="1376.85" r="1.5" fill="#f8f8f8"/>
<ellipse cx="604.29" cy="1376.85" rx="4.00" ry="3.80" fill="#d2d2d2"/>
<circle cx="624.76" cy="1376.85" r="1.5" fill="#f8f8f8"/>
<circle cx="645.23" cy="1376.85" r="1.5" fill="#f8f8f8"/>
<circle cx="665.70" cy="1376.85" r="1.5" fill="#f8f8f8"/>
<circle cx="686.17" cy="1376.85" r="1.5" fill="#f8f8f8"/>
<circle cx="712.75" cy="1376.85" r="1.5" fill="#f8f8f8"/>
<circle cx="733.23" cy="1376.85" r="1.5" fill="#f8f8f8"/>
<circle cx="753.71" cy="1376.85" r="1.5" fill="#f8f8f8"/>
<circle cx="774.19" cy="1376.85" r="1.5" fill="#f8f8f8"/>
<ellipse cx="794.67" cy="1376.85" rx="10.25" ry="9.74" fill="#0a0a0a"/>
<circle cx="815.15" cy="1376.85" r="1.5" fill="#f8f8f8"/>
<circle cx="835.63" cy="1376.85" r="1.5" fill="#f8f8f8"/>
<circle cx="856.11" cy="1376.85" r="1.5" fill="#f8f8f8"/>
<circle cx="876.59" cy="1376.85" r="1.5" fill="#f8f8f8"/>
<circle cx="897.07" cy="1376.85" r="1.5" fill="#f8f8f8"/>
<rect x="246.05" y="1327.95" width="450.20" height="58.40" fill="none" stroke="#231f20" stroke-width="1.9"/>
<rect x="702.75" y="1327.95" width="204.70" height="58.40" fill="none" stroke="#231f20" stroke-width="1.9"/>
<line x1="241.20" y1="1337.45" x2="245.60" y2="1337.45" stroke="#231f20" stroke-width="1.6" stroke-linecap="butt"/>
<text transform="translate(236.30,1345.85) scale(0.8465,1)" text-anchor="end" font-size="20.2" font-weight="normal" xml:space="preserve"><tspan font-style="normal" fill="#2aa9db" stroke="#2aa9db" stroke-width="0.4">hu </tspan><tspan font-style="italic" fill="#2aa9db" stroke="#2aa9db" stroke-width="0.4">ENO3</tspan></text>
<line x1="241.20" y1="1357.15" x2="245.60" y2="1357.15" stroke="#231f20" stroke-width="1.6" stroke-linecap="butt"/>
<text transform="translate(236.30,1365.55) scale(0.8465,1)" text-anchor="end" font-size="20.2" font-weight="normal" xml:space="preserve"><tspan font-style="normal" fill="#231f20" stroke="#231f20" stroke-width="0.4">le </tspan><tspan font-style="italic" fill="#231f20" stroke="#231f20" stroke-width="0.4">ENO3</tspan></text>
<line x1="241.20" y1="1376.85" x2="245.60" y2="1376.85" stroke="#231f20" stroke-width="1.6" stroke-linecap="butt"/>
<text transform="translate(236.30,1385.25) scale(0.8465,1)" text-anchor="end" font-size="20.2" font-weight="normal" xml:space="preserve"><tspan font-style="normal" fill="#c4601e" stroke="#c4601e" stroke-width="0.4">ms </tspan><tspan font-style="italic" fill="#c4601e" stroke="#c4601e" stroke-width="0.4">Eno3</tspan></text>
<circle cx="256.30" cy="1431.85" r="1.5" fill="#f8f8f8"/>
<ellipse cx="276.77" cy="1431.85" rx="10.00" ry="9.50" fill="#7d7d7d"/>
<circle cx="297.24" cy="1431.85" r="1.5" fill="#f8f8f8"/>
<circle cx="317.71" cy="1431.85" r="1.5" fill="#f8f8f8"/>
<circle cx="338.18" cy="1431.85" r="1.5" fill="#f8f8f8"/>
<circle cx="358.65" cy="1431.85" r="1.5" fill="#f8f8f8"/>
<circle cx="379.12" cy="1431.85" r="1.5" fill="#f8f8f8"/>
<circle cx="399.59" cy="1431.85" r="1.5" fill="#f8f8f8"/>
<circle cx="420.06" cy="1431.85" r="1.5" fill="#f8f8f8"/>
<circle cx="440.53" cy="1431.85" r="1.5" fill="#f8f8f8"/>
<circle cx="461.00" cy="1431.85" r="1.5" fill="#f8f8f8"/>
<circle cx="481.47" cy="1431.85" r="1.5" fill="#f8f8f8"/>
<circle cx="501.94" cy="1431.85" r="1.5" fill="#f8f8f8"/>
<circle cx="522.41" cy="1431.85" r="1.5" fill="#f8f8f8"/>
<circle cx="542.88" cy="1431.85" r="1.5" fill="#f8f8f8"/>
<circle cx="563.35" cy="1431.85" r="1.5" fill="#f8f8f8"/>
<circle cx="583.82" cy="1431.85" r="1.5" fill="#f8f8f8"/>
<circle cx="604.29" cy="1431.85" r="1.5" fill="#f8f8f8"/>
<circle cx="624.76" cy="1431.85" r="1.5" fill="#f8f8f8"/>
<circle cx="645.23" cy="1431.85" r="1.5" fill="#f8f8f8"/>
<circle cx="665.70" cy="1431.85" r="1.5" fill="#f8f8f8"/>
<circle cx="686.17" cy="1431.85" r="1.5" fill="#f8f8f8"/>
<circle cx="712.75" cy="1431.85" r="1.5" fill="#f8f8f8"/>
<circle cx="733.23" cy="1431.85" r="1.5" fill="#f8f8f8"/>
<circle cx="753.71" cy="1431.85" r="1.5" fill="#f8f8f8"/>
<circle cx="774.19" cy="1431.85" r="1.5" fill="#f8f8f8"/>
<circle cx="794.67" cy="1431.85" r="1.5" fill="#f8f8f8"/>
<circle cx="815.15" cy="1431.85" r="1.5" fill="#f8f8f8"/>
<circle cx="835.63" cy="1431.85" r="1.5" fill="#f8f8f8"/>
<circle cx="856.11" cy="1431.85" r="1.5" fill="#f8f8f8"/>
<circle cx="876.59" cy="1431.85" r="1.5" fill="#f8f8f8"/>
<circle cx="897.07" cy="1431.85" r="1.5" fill="#f8f8f8"/>
<circle cx="256.30" cy="1451.55" r="1.5" fill="#f8f8f8"/>
<ellipse cx="276.77" cy="1451.55" rx="10.00" ry="9.50" fill="#555555"/>
<circle cx="297.24" cy="1451.55" r="1.5" fill="#f8f8f8"/>
<circle cx="317.71" cy="1451.55" r="1.5" fill="#f8f8f8"/>
<circle cx="338.18" cy="1451.55" r="1.5" fill="#f8f8f8"/>
<circle cx="358.65" cy="1451.55" r="1.5" fill="#f8f8f8"/>
<circle cx="379.12" cy="1451.55" r="1.5" fill="#f8f8f8"/>
<ellipse cx="399.59" cy="1451.55" rx="2.50" ry="2.38" fill="#ebebeb"/>
<ellipse cx="420.06" cy="1451.55" rx="2.00" ry="1.90" fill="#efefef"/>
<ellipse cx="440.53" cy="1451.55" rx="2.00" ry="1.90" fill="#efefef"/>
<circle cx="461.00" cy="1451.55" r="1.5" fill="#f8f8f8"/>
<circle cx="481.47" cy="1451.55" r="1.5" fill="#f8f8f8"/>
<circle cx="501.94" cy="1451.55" r="1.5" fill="#f8f8f8"/>
<circle cx="522.41" cy="1451.55" r="1.5" fill="#f8f8f8"/>
<circle cx="542.88" cy="1451.55" r="1.5" fill="#f8f8f8"/>
<circle cx="563.35" cy="1451.55" r="1.5" fill="#f8f8f8"/>
<circle cx="583.82" cy="1451.55" r="1.5" fill="#f8f8f8"/>
<circle cx="604.29" cy="1451.55" r="1.5" fill="#f8f8f8"/>
<circle cx="624.76" cy="1451.55" r="1.5" fill="#f8f8f8"/>
<circle cx="645.23" cy="1451.55" r="1.5" fill="#f8f8f8"/>
<circle cx="665.70" cy="1451.55" r="1.5" fill="#f8f8f8"/>
<circle cx="686.17" cy="1451.55" r="1.5" fill="#f8f8f8"/>
<circle cx="712.75" cy="1451.55" r="1.5" fill="#f8f8f8"/>
<circle cx="733.23" cy="1451.55" r="1.5" fill="#f8f8f8"/>
<circle cx="753.71" cy="1451.55" r="1.5" fill="#f8f8f8"/>
<circle cx="774.19" cy="1451.55" r="1.5" fill="#f8f8f8"/>
<circle cx="794.67" cy="1451.55" r="1.5" fill="#f8f8f8"/>
<circle cx="815.15" cy="1451.55" r="1.5" fill="#f8f8f8"/>
<circle cx="835.63" cy="1451.55" r="1.5" fill="#f8f8f8"/>
<circle cx="856.11" cy="1451.55" r="1.5" fill="#f8f8f8"/>
<circle cx="876.59" cy="1451.55" r="1.5" fill="#f8f8f8"/>
<circle cx="897.07" cy="1451.55" r="1.5" fill="#f8f8f8"/>
<ellipse cx="256.30" cy="1471.25" rx="2.00" ry="1.90" fill="#efefef"/>
<ellipse cx="276.77" cy="1471.25" rx="10.25" ry="9.74" fill="#191919"/>
<circle cx="297.24" cy="1471.25" r="1.5" fill="#f8f8f8"/>
<circle cx="317.71" cy="1471.25" r="1.5" fill="#f8f8f8"/>
<circle cx="338.18" cy="1471.25" r="1.5" fill="#f8f8f8"/>
<circle cx="358.65" cy="1471.25" r="1.5" fill="#f8f8f8"/>
<circle cx="379.12" cy="1471.25" r="1.5" fill="#f8f8f8"/>
<circle cx="399.59" cy="1471.25" r="1.5" fill="#f8f8f8"/>
<circle cx="420.06" cy="1471.25" r="1.5" fill="#f8f8f8"/>
<circle cx="440.53" cy="1471.25" r="1.5" fill="#f8f8f8"/>
<circle cx="461.00" cy="1471.25" r="1.5" fill="#f8f8f8"/>
<circle cx="481.47" cy="1471.25" r="1.5" fill="#f8f8f8"/>
<circle cx="501.94" cy="1471.25" r="1.5" fill="#f8f8f8"/>
<circle cx="522.41" cy="1471.25" r="1.5" fill="#f8f8f8"/>
<circle cx="542.88" cy="1471.25" r="1.5" fill="#f8f8f8"/>
<circle cx="563.35" cy="1471.25" r="1.5" fill="#f8f8f8"/>
<circle cx="583.82" cy="1471.25" r="1.5" fill="#f8f8f8"/>
<circle cx="604.29" cy="1471.25" r="1.5" fill="#f8f8f8"/>
<circle cx="624.76" cy="1471.25" r="1.5" fill="#f8f8f8"/>
<circle cx="645.23" cy="1471.25" r="1.5" fill="#f8f8f8"/>
<circle cx="665.70" cy="1471.25" r="1.5" fill="#f8f8f8"/>
<circle cx="686.17" cy="1471.25" r="1.5" fill="#f8f8f8"/>
<circle cx="712.75" cy="1471.25" r="1.5" fill="#f8f8f8"/>
<circle cx="733.23" cy="1471.25" r="1.5" fill="#f8f8f8"/>
<circle cx="753.71" cy="1471.25" r="1.5" fill="#f8f8f8"/>
<circle cx="774.19" cy="1471.25" r="1.5" fill="#f8f8f8"/>
<circle cx="794.67" cy="1471.25" r="1.5" fill="#f8f8f8"/>
<circle cx="815.15" cy="1471.25" r="1.5" fill="#f8f8f8"/>
<circle cx="835.63" cy="1471.25" r="1.5" fill="#f8f8f8"/>
<circle cx="856.11" cy="1471.25" r="1.5" fill="#f8f8f8"/>
<circle cx="876.59" cy="1471.25" r="1.5" fill="#f8f8f8"/>
<circle cx="897.07" cy="1471.25" r="1.5" fill="#f8f8f8"/>
<rect x="246.05" y="1422.35" width="450.20" height="58.40" fill="none" stroke="#231f20" stroke-width="1.9"/>
<rect x="702.75" y="1422.35" width="204.70" height="58.40" fill="none" stroke="#231f20" stroke-width="1.9"/>
<line x1="241.20" y1="1431.85" x2="245.60" y2="1431.85" stroke="#231f20" stroke-width="1.6" stroke-linecap="butt"/>
<text transform="translate(235.10,1440.65) scale(0.8465,1)" text-anchor="end" font-size="20.2" font-weight="normal" xml:space="preserve"><tspan font-style="normal" fill="#2aa9db" stroke="#2aa9db" stroke-width="0.4">hu </tspan><tspan font-style="italic" fill="#2aa9db" stroke="#2aa9db" stroke-width="0.4">DYNLRB2</tspan></text>
<line x1="241.20" y1="1451.55" x2="245.60" y2="1451.55" stroke="#231f20" stroke-width="1.6" stroke-linecap="butt"/>
<text transform="translate(235.10,1460.35) scale(0.8465,1)" text-anchor="end" font-size="20.2" font-weight="normal" xml:space="preserve"><tspan font-style="normal" fill="#231f20" stroke="#231f20" stroke-width="0.4">le </tspan><tspan font-style="italic" fill="#231f20" stroke="#231f20" stroke-width="0.4">LOC105861217</tspan></text>
<line x1="241.20" y1="1471.25" x2="245.60" y2="1471.25" stroke="#231f20" stroke-width="1.6" stroke-linecap="butt"/>
<text transform="translate(235.10,1480.05) scale(0.8465,1)" text-anchor="end" font-size="20.2" font-weight="normal" xml:space="preserve"><tspan font-style="normal" fill="#c4601e" stroke="#c4601e" stroke-width="0.4">ms </tspan><tspan font-style="italic" fill="#c4601e" stroke="#c4601e" stroke-width="0.4">Dynlrb2</tspan></text>
<ellipse cx="276.77" cy="1498.07" rx="3.50" ry="3.32" fill="#e1e1e1"/>
<ellipse cx="276.77" cy="1517.60" rx="8.50" ry="8.07" fill="#a0a0a0"/>
<ellipse cx="276.77" cy="1537.13" rx="7.00" ry="6.65" fill="#c3c3c3"/>
<rect x="246.05" y="1488.65" width="450.20" height="57.90" fill="none" stroke="#231f20" stroke-width="1.9"/>
<rect x="702.75" y="1488.65" width="204.70" height="57.90" fill="none" stroke="#231f20" stroke-width="1.9"/>
<line x1="241.20" y1="1498.07" x2="245.60" y2="1498.07" stroke="#231f20" stroke-width="1.6" stroke-linecap="butt"/>
<text transform="translate(235.10,1506.87) scale(0.8465,1)" text-anchor="end" font-size="20.2" font-weight="normal" xml:space="preserve"><tspan font-style="normal" fill="#2aa9db" stroke="#2aa9db" stroke-width="0.4">hu </tspan><tspan font-style="italic" fill="#2aa9db" stroke="#2aa9db" stroke-width="0.4">TEKT4</tspan></text>
<line x1="241.20" y1="1517.60" x2="245.60" y2="1517.60" stroke="#231f20" stroke-width="1.6" stroke-linecap="butt"/>
<text transform="translate(235.10,1526.40) scale(0.8465,1)" text-anchor="end" font-size="20.2" font-weight="normal" xml:space="preserve"><tspan font-style="normal" fill="#231f20" stroke="#231f20" stroke-width="0.4">le </tspan><tspan font-style="italic" fill="#231f20" stroke="#231f20" stroke-width="0.4">LOC105859768</tspan></text>
<line x1="241.20" y1="1537.13" x2="245.60" y2="1537.13" stroke="#231f20" stroke-width="1.6" stroke-linecap="butt"/>
<text transform="translate(235.10,1545.93) scale(0.8465,1)" text-anchor="end" font-size="20.2" font-weight="normal" xml:space="preserve"><tspan font-style="normal" fill="#c4601e" stroke="#c4601e" stroke-width="0.4">ms </tspan><tspan font-style="italic" fill="#c4601e" stroke="#c4601e" stroke-width="0.4">Tekt4</tspan></text>
<circle cx="256.30" cy="1564.05" r="1.5" fill="#f8f8f8"/>
<circle cx="276.77" cy="1564.05" r="1.5" fill="#f8f8f8"/>
<circle cx="297.24" cy="1564.05" r="1.5" fill="#f8f8f8"/>
<circle cx="317.71" cy="1564.05" r="1.5" fill="#f8f8f8"/>
<circle cx="338.18" cy="1564.05" r="1.5" fill="#f8f8f8"/>
<circle cx="358.65" cy="1564.05" r="1.5" fill="#f8f8f8"/>
<circle cx="379.12" cy="1564.05" r="1.5" fill="#f8f8f8"/>
<circle cx="399.59" cy="1564.05" r="1.5" fill="#f8f8f8"/>
<circle cx="420.06" cy="1564.05" r="1.5" fill="#f8f8f8"/>
<ellipse cx="440.53" cy="1564.05" rx="10.00" ry="9.50" fill="#232323"/>
<circle cx="461.00" cy="1564.05" r="1.5" fill="#f8f8f8"/>
<circle cx="481.47" cy="1564.05" r="1.5" fill="#f8f8f8"/>
<circle cx="501.94" cy="1564.05" r="1.5" fill="#f8f8f8"/>
<circle cx="522.41" cy="1564.05" r="1.5" fill="#f8f8f8"/>
<circle cx="542.88" cy="1564.05" r="1.5" fill="#f8f8f8"/>
<circle cx="563.35" cy="1564.05" r="1.5" fill="#f8f8f8"/>
<circle cx="583.82" cy="1564.05" r="1.5" fill="#f8f8f8"/>
<circle cx="604.29" cy="1564.05" r="1.5" fill="#f8f8f8"/>
<circle cx="624.76" cy="1564.05" r="1.5" fill="#f8f8f8"/>
<circle cx="645.23" cy="1564.05" r="1.5" fill="#f8f8f8"/>
<circle cx="665.70" cy="1564.05" r="1.5" fill="#f8f8f8"/>
<circle cx="686.17" cy="1564.05" r="1.5" fill="#f8f8f8"/>
<circle cx="712.75" cy="1564.05" r="1.5" fill="#f8f8f8"/>
<ellipse cx="733.23" cy="1564.05" rx="2.50" ry="2.38" fill="#ebebeb"/>
<circle cx="753.71" cy="1564.05" r="1.5" fill="#f8f8f8"/>
<circle cx="774.19" cy="1564.05" r="1.5" fill="#f8f8f8"/>
<circle cx="794.67" cy="1564.05" r="1.5" fill="#f8f8f8"/>
<circle cx="815.15" cy="1564.05" r="1.5" fill="#f8f8f8"/>
<ellipse cx="835.63" cy="1564.05" rx="9.50" ry="9.03" fill="#646464"/>
<circle cx="856.11" cy="1564.05" r="1.5" fill="#f8f8f8"/>
<circle cx="876.59" cy="1564.05" r="1.5" fill="#f8f8f8"/>
<circle cx="897.07" cy="1564.05" r="1.5" fill="#f8f8f8"/>
<circle cx="256.30" cy="1583.55" r="1.5" fill="#f8f8f8"/>
<circle cx="276.77" cy="1583.55" r="1.5" fill="#f8f8f8"/>
<circle cx="297.24" cy="1583.55" r="1.5" fill="#f8f8f8"/>
<circle cx="317.71" cy="1583.55" r="1.5" fill="#f8f8f8"/>
<circle cx="338.18" cy="1583.55" r="1.5" fill="#f8f8f8"/>
<circle cx="358.65" cy="1583.55" r="1.5" fill="#f8f8f8"/>
<circle cx="379.12" cy="1583.55" r="1.5" fill="#f8f8f8"/>
<circle cx="399.59" cy="1583.55" r="1.5" fill="#f8f8f8"/>
<ellipse cx="420.06" cy="1583.55" rx="5.00" ry="4.75" fill="#c8c8c8"/>
<ellipse cx="440.53" cy="1583.55" rx="10.25" ry="9.74" fill="#1e1e1e"/>
<circle cx="461.00" cy="1583.55" r="1.5" fill="#f8f8f8"/>
<circle cx="481.47" cy="1583.55" r="1.5" fill="#f8f8f8"/>
<circle cx="501.94" cy="1583.55" r="1.5" fill="#f8f8f8"/>
<circle cx="522.41" cy="1583.55" r="1.5" fill="#f8f8f8"/>
<circle cx="542.88" cy="1583.55" r="1.5" fill="#f8f8f8"/>
<circle cx="563.35" cy="1583.55" r="1.5" fill="#f8f8f8"/>
<circle cx="583.82" cy="1583.55" r="1.5" fill="#f8f8f8"/>
<circle cx="604.29" cy="1583.55" r="1.5" fill="#f8f8f8"/>
<ellipse cx="624.76" cy="1583.55" rx="5.00" ry="4.75" fill="#d7d7d7"/>
<ellipse cx="645.23" cy="1583.55" rx="2.50" ry="2.38" fill="#ebebeb"/>
<circle cx="665.70" cy="1583.55" r="1.5" fill="#f8f8f8"/>
<circle cx="686.17" cy="1583.55" r="1.5" fill="#f8f8f8"/>
<circle cx="712.75" cy="1583.55" r="1.5" fill="#f8f8f8"/>
<circle cx="733.23" cy="1583.55" r="1.5" fill="#f8f8f8"/>
<circle cx="753.71" cy="1583.55" r="1.5" fill="#f8f8f8"/>
<circle cx="774.19" cy="1583.55" r="1.5" fill="#f8f8f8"/>
<circle cx="794.67" cy="1583.55" r="1.5" fill="#f8f8f8"/>
<circle cx="815.15" cy="1583.55" r="1.5" fill="#f8f8f8"/>
<ellipse cx="835.63" cy="1583.55" rx="9.50" ry="9.03" fill="#646464"/>
<circle cx="856.11" cy="1583.55" r="1.5" fill="#f8f8f8"/>
<circle cx="876.59" cy="1583.55" r="1.5" fill="#f8f8f8"/>
<circle cx="897.07" cy="1583.55" r="1.5" fill="#f8f8f8"/>
<circle cx="256.30" cy="1603.05" r="1.5" fill="#f8f8f8"/>
<circle cx="276.77" cy="1603.05" r="1.5" fill="#f8f8f8"/>
<circle cx="297.24" cy="1603.05" r="1.5" fill="#f8f8f8"/>
<circle cx="317.71" cy="1603.05" r="1.5" fill="#f8f8f8"/>
<ellipse cx="338.18" cy="1603.05" rx="2.00" ry="1.90" fill="#ebebeb"/>
<circle cx="358.65" cy="1603.05" r="1.5" fill="#f8f8f8"/>
<circle cx="379.12" cy="1603.05" r="1.5" fill="#f8f8f8"/>
<circle cx="399.59" cy="1603.05" r="1.5" fill="#f8f8f8"/>
<circle cx="420.06" cy="1603.05" r="1.5" fill="#f8f8f8"/>
<ellipse cx="440.53" cy="1603.05" rx="10.25" ry="9.74" fill="#0f0f0f"/>
<circle cx="461.00" cy="1603.05" r="1.5" fill="#f8f8f8"/>
<circle cx="481.47" cy="1603.05" r="1.5" fill="#f8f8f8"/>
<circle cx="501.94" cy="1603.05" r="1.5" fill="#f8f8f8"/>
<circle cx="522.41" cy="1603.05" r="1.5" fill="#f8f8f8"/>
<circle cx="542.88" cy="1603.05" r="1.5" fill="#f8f8f8"/>
<circle cx="563.35" cy="1603.05" r="1.5" fill="#f8f8f8"/>
<circle cx="583.82" cy="1603.05" r="1.5" fill="#f8f8f8"/>
<circle cx="604.29" cy="1603.05" r="1.5" fill="#f8f8f8"/>
<circle cx="624.76" cy="1603.05" r="1.5" fill="#f8f8f8"/>
<circle cx="645.23" cy="1603.05" r="1.5" fill="#f8f8f8"/>
<circle cx="665.70" cy="1603.05" r="1.5" fill="#f8f8f8"/>
<circle cx="686.17" cy="1603.05" r="1.5" fill="#f8f8f8"/>
<circle cx="712.75" cy="1603.05" r="1.5" fill="#f8f8f8"/>
<circle cx="733.23" cy="1603.05" r="1.5" fill="#f8f8f8"/>
<circle cx="753.71" cy="1603.05" r="1.5" fill="#f8f8f8"/>
<circle cx="774.19" cy="1603.05" r="1.5" fill="#f8f8f8"/>
<circle cx="794.67" cy="1603.05" r="1.5" fill="#f8f8f8"/>
<circle cx="815.15" cy="1603.05" r="1.5" fill="#f8f8f8"/>
<ellipse cx="835.63" cy="1603.05" rx="9.50" ry="9.03" fill="#5a5a5a"/>
<circle cx="856.11" cy="1603.05" r="1.5" fill="#f8f8f8"/>
<circle cx="876.59" cy="1603.05" r="1.5" fill="#f8f8f8"/>
<circle cx="897.07" cy="1603.05" r="1.5" fill="#f8f8f8"/>
<rect x="246.05" y="1554.65" width="450.20" height="57.80" fill="none" stroke="#231f20" stroke-width="1.9"/>
<rect x="702.75" y="1554.65" width="204.70" height="57.80" fill="none" stroke="#231f20" stroke-width="1.9"/>
<line x1="241.20" y1="1564.05" x2="245.60" y2="1564.05" stroke="#231f20" stroke-width="1.6" stroke-linecap="butt"/>
<text transform="translate(235.10,1572.85) scale(0.8465,1)" text-anchor="end" font-size="20.2" font-weight="normal" xml:space="preserve"><tspan font-style="normal" fill="#2aa9db" stroke="#2aa9db" stroke-width="0.4">hu </tspan><tspan font-style="italic" fill="#2aa9db" stroke="#2aa9db" stroke-width="0.4">COX4I2</tspan></text>
<line x1="241.20" y1="1583.55" x2="245.60" y2="1583.55" stroke="#231f20" stroke-width="1.6" stroke-linecap="butt"/>
<text transform="translate(235.10,1592.35) scale(0.8465,1)" text-anchor="end" font-size="20.2" font-weight="normal" xml:space="preserve"><tspan font-style="normal" fill="#231f20" stroke="#231f20" stroke-width="0.4">le </tspan><tspan font-style="italic" fill="#231f20" stroke="#231f20" stroke-width="0.4">LOC105866063</tspan></text>
<line x1="241.20" y1="1603.05" x2="245.60" y2="1603.05" stroke="#231f20" stroke-width="1.6" stroke-linecap="butt"/>
<text transform="translate(235.10,1611.85) scale(0.8465,1)" text-anchor="end" font-size="20.2" font-weight="normal" xml:space="preserve"><tspan font-style="normal" fill="#c4601e" stroke="#c4601e" stroke-width="0.4">ms </tspan><tspan font-style="italic" fill="#c4601e" stroke="#c4601e" stroke-width="0.4">Cox4i2</tspan></text>
<ellipse cx="256.30" cy="1629.85" rx="3.00" ry="2.85" fill="#e1e1e1"/>
<ellipse cx="276.77" cy="1629.85" rx="4.00" ry="3.80" fill="#dcdcdc"/>
<ellipse cx="297.24" cy="1629.85" rx="3.50" ry="3.32" fill="#e1e1e1"/>
<ellipse cx="317.71" cy="1629.85" rx="3.50" ry="3.32" fill="#e1e1e1"/>
<ellipse cx="338.18" cy="1629.85" rx="4.00" ry="3.80" fill="#dcdcdc"/>
<ellipse cx="358.65" cy="1629.85" rx="4.00" ry="3.80" fill="#dedede"/>
<ellipse cx="379.12" cy="1629.85" rx="4.00" ry="3.80" fill="#dedede"/>
<ellipse cx="399.59" cy="1629.85" rx="5.00" ry="4.75" fill="#d7d7d7"/>
<ellipse cx="420.06" cy="1629.85" rx="6.50" ry="6.17" fill="#c3c3c3"/>
<ellipse cx="440.53" cy="1629.85" rx="5.50" ry="5.22" fill="#c8c8c8"/>
<ellipse cx="461.00" cy="1629.85" rx="4.00" ry="3.80" fill="#dedede"/>
<ellipse cx="481.47" cy="1629.85" rx="4.00" ry="3.80" fill="#dedede"/>
<ellipse cx="501.94" cy="1629.85" rx="3.50" ry="3.32" fill="#e1e1e1"/>
<ellipse cx="522.41" cy="1629.85" rx="4.50" ry="4.27" fill="#d7d7d7"/>
<ellipse cx="542.88" cy="1629.85" rx="5.50" ry="5.22" fill="#d2d2d2"/>
<ellipse cx="563.35" cy="1629.85" rx="4.50" ry="4.27" fill="#d7d7d7"/>
<ellipse cx="583.82" cy="1629.85" rx="3.50" ry="3.32" fill="#e1e1e1"/>
<ellipse cx="604.29" cy="1629.85" rx="4.00" ry="3.80" fill="#d7d7d7"/>
<ellipse cx="624.76" cy="1629.85" rx="10.00" ry="9.50" fill="#0f0f0f"/>
<ellipse cx="645.23" cy="1629.85" rx="10.25" ry="9.74" fill="#0f0f0f"/>
<ellipse cx="665.70" cy="1629.85" rx="6.50" ry="6.17" fill="#787878"/>
<ellipse cx="686.17" cy="1629.85" rx="3.00" ry="2.85" fill="#e1e1e1"/>
<circle cx="712.75" cy="1629.85" r="1.5" fill="#f8f8f8"/>
<ellipse cx="733.23" cy="1629.85" rx="2.50" ry="2.38" fill="#e5e5e5"/>
<circle cx="753.71" cy="1629.85" r="1.5" fill="#f8f8f8"/>
<ellipse cx="774.19" cy="1629.85" rx="2.50" ry="2.38" fill="#ededed"/>
<circle cx="794.67" cy="1629.85" r="1.5" fill="#f8f8f8"/>
<circle cx="815.15" cy="1629.85" r="1.5" fill="#f8f8f8"/>
<ellipse cx="835.63" cy="1629.85" rx="2.50" ry="2.38" fill="#ededed"/>
<ellipse cx="856.11" cy="1629.85" rx="2.00" ry="1.90" fill="#ededed"/>
<circle cx="876.59" cy="1629.85" r="1.5" fill="#f8f8f8"/>
<ellipse cx="897.07" cy="1629.85" rx="10.25" ry="9.74" fill="#0a0a0a"/>
<circle cx="256.30" cy="1649.35" r="1.5" fill="#f8f8f8"/>
<circle cx="276.77" cy="1649.35" r="1.5" fill="#f8f8f8"/>
<ellipse cx="297.24" cy="1649.35" rx="3.50" ry="3.32" fill="#dcdcdc"/>
<ellipse cx="317.71" cy="1649.35" rx="2.50" ry="2.38" fill="#e8e8e8"/>
<ellipse cx="338.18" cy="1649.35" rx="3.00" ry="2.85" fill="#e1e1e1"/>
<ellipse cx="358.65" cy="1649.35" rx="3.50" ry="3.32" fill="#e1e1e1"/>
<ellipse cx="379.12" cy="1649.35" rx="3.00" ry="2.85" fill="#e4e4e4"/>
<ellipse cx="399.59" cy="1649.35" rx="3.00" ry="2.85" fill="#e1e1e1"/>
<ellipse cx="420.06" cy="1649.35" rx="3.00" ry="2.85" fill="#e1e1e1"/>
<ellipse cx="440.53" cy="1649.35" rx="2.00" ry="1.90" fill="#ededed"/>
<ellipse cx="461.00" cy="1649.35" rx="3.00" ry="2.85" fill="#e1e1e1"/>
<ellipse cx="481.47" cy="1649.35" rx="3.50" ry="3.32" fill="#e4e4e4"/>
<ellipse cx="501.94" cy="1649.35" rx="2.50" ry="2.38" fill="#ededed"/>
<ellipse cx="522.41" cy="1649.35" rx="2.50" ry="2.38" fill="#ededed"/>
<ellipse cx="542.88" cy="1649.35" rx="2.50" ry="2.38" fill="#ededed"/>
<ellipse cx="563.35" cy="1649.35" rx="2.50" ry="2.38" fill="#ededed"/>
<circle cx="583.82" cy="1649.35" r="1.5" fill="#f8f8f8"/>
<ellipse cx="604.29" cy="1649.35" rx="5.00" ry="4.75" fill="#cdcdcd"/>
<ellipse cx="624.76" cy="1649.35" rx="10.25" ry="9.74" fill="#141414"/>
<ellipse cx="645.23" cy="1649.35" rx="10.00" ry="9.50" fill="#4b4b4b"/>
<ellipse cx="665.70" cy="1649.35" rx="4.00" ry="3.80" fill="#dedede"/>
<ellipse cx="686.17" cy="1649.35" rx="3.50" ry="3.32" fill="#dedede"/>
<circle cx="712.75" cy="1649.35" r="1.5" fill="#f8f8f8"/>
<circle cx="733.23" cy="1649.35" r="1.5" fill="#f8f8f8"/>
<circle cx="753.71" cy="1649.35" r="1.5" fill="#f8f8f8"/>
<circle cx="774.19" cy="1649.35" r="1.5" fill="#f8f8f8"/>
<circle cx="794.67" cy="1649.35" r="1.5" fill="#f8f8f8"/>
<circle cx="815.15" cy="1649.35" r="1.5" fill="#f8f8f8"/>
<circle cx="835.63" cy="1649.35" r="1.5" fill="#f8f8f8"/>
<circle cx="856.11" cy="1649.35" r="1.5" fill="#f8f8f8"/>
<circle cx="876.59" cy="1649.35" r="1.5" fill="#f8f8f8"/>
<ellipse cx="897.07" cy="1649.35" rx="9.50" ry="9.03" fill="#5f5f5f"/>
<circle cx="256.30" cy="1668.85" r="1.5" fill="#f8f8f8"/>
<circle cx="276.77" cy="1668.85" r="1.5" fill="#f8f8f8"/>
<circle cx="297.24" cy="1668.85" r="1.5" fill="#f8f8f8"/>
<circle cx="317.71" cy="1668.85" r="1.5" fill="#f8f8f8"/>
<circle cx="338.18" cy="1668.85" r="1.5" fill="#f8f8f8"/>
<circle cx="358.65" cy="1668.85" r="1.5" fill="#f8f8f8"/>
<circle cx="379.12" cy="1668.85" r="1.5" fill="#f8f8f8"/>
<circle cx="399.59" cy="1668.85" r="1.5" fill="#f8f8f8"/>
<circle cx="420.06" cy="1668.85" r="1.5" fill="#f8f8f8"/>
<circle cx="440.53" cy="1668.85" r="1.5" fill="#f8f8f8"/>
<circle cx="461.00" cy="1668.85" r="1.5" fill="#f8f8f8"/>
<circle cx="481.47" cy="1668.85" r="1.5" fill="#f8f8f8"/>
<circle cx="501.94" cy="1668.85" r="1.5" fill="#f8f8f8"/>
<circle cx="522.41" cy="1668.85" r="1.5" fill="#f8f8f8"/>
<circle cx="542.88" cy="1668.85" r="1.5" fill="#f8f8f8"/>
<circle cx="563.35" cy="1668.85" r="1.5" fill="#f8f8f8"/>
<circle cx="583.82" cy="1668.85" r="1.5" fill="#f8f8f8"/>
<ellipse cx="604.29" cy="1668.85" rx="3.00" ry="2.85" fill="#d2d2d2"/>
<circle cx="624.76" cy="1668.85" r="1.5" fill="#f8f8f8"/>
<circle cx="645.23" cy="1668.85" r="1.5" fill="#f8f8f8"/>
<ellipse cx="665.70" cy="1668.85" rx="1.50" ry="1.42" fill="#c8c8c8"/>
<circle cx="686.17" cy="1668.85" r="1.5" fill="#f8f8f8"/>
<circle cx="712.75" cy="1668.85" r="1.5" fill="#f8f8f8"/>
<circle cx="733.23" cy="1668.85" r="1.5" fill="#f8f8f8"/>
<circle cx="753.71" cy="1668.85" r="1.5" fill="#f8f8f8"/>
<circle cx="774.19" cy="1668.85" r="1.5" fill="#f8f8f8"/>
<ellipse cx="794.67" cy="1668.85" rx="1.50" ry="1.42" fill="#e3e3e3"/>
<circle cx="815.15" cy="1668.85" r="1.5" fill="#f8f8f8"/>
<circle cx="835.63" cy="1668.85" r="1.5" fill="#f8f8f8"/>
<circle cx="856.11" cy="1668.85" r="1.5" fill="#f8f8f8"/>
<circle cx="876.59" cy="1668.85" r="1.5" fill="#f8f8f8"/>
<ellipse cx="897.07" cy="1668.85" rx="10.25" ry="9.74" fill="#0a0a0a"/>
<rect x="246.05" y="1620.45" width="450.20" height="57.80" fill="none" stroke="#231f20" stroke-width="1.9"/>
<rect x="702.75" y="1620.45" width="204.70" height="57.80" fill="none" stroke="#231f20" stroke-width="1.9"/>
<line x1="241.20" y1="1629.85" x2="245.60" y2="1629.85" stroke="#231f20" stroke-width="1.6" stroke-linecap="butt"/>
<text transform="translate(235.10,1638.65) scale(0.8465,1)" text-anchor="end" font-size="20.2" font-weight="normal" xml:space="preserve"><tspan font-style="normal" fill="#2aa9db" stroke="#2aa9db" stroke-width="0.4">hu </tspan><tspan font-style="italic" fill="#2aa9db" stroke="#2aa9db" stroke-width="0.4">C1QB</tspan></text>
<line x1="241.20" y1="1649.35" x2="245.60" y2="1649.35" stroke="#231f20" stroke-width="1.6" stroke-linecap="butt"/>
<text transform="translate(235.10,1658.15) scale(0.8465,1)" text-anchor="end" font-size="20.2" font-weight="normal" xml:space="preserve"><tspan font-style="normal" fill="#231f20" stroke="#231f20" stroke-width="0.4">le </tspan><tspan font-style="italic" fill="#231f20" stroke="#231f20" stroke-width="0.4">LOC105873604</tspan></text>
<line x1="241.20" y1="1668.85" x2="245.60" y2="1668.85" stroke="#231f20" stroke-width="1.6" stroke-linecap="butt"/>
<text transform="translate(235.10,1677.65) scale(0.8465,1)" text-anchor="end" font-size="20.2" font-weight="normal" xml:space="preserve"><tspan font-style="normal" fill="#c4601e" stroke="#c4601e" stroke-width="0.4">ms </tspan><tspan font-style="italic" fill="#c4601e" stroke="#c4601e" stroke-width="0.4">C1qb</tspan></text>
<circle cx="256.30" cy="1696.16" r="1.5" fill="#f8f8f8"/>
<circle cx="276.77" cy="1696.16" r="1.5" fill="#f8f8f8"/>
<ellipse cx="297.24" cy="1696.16" rx="3.00" ry="2.85" fill="#dedede"/>
<ellipse cx="317.71" cy="1696.16" rx="7.00" ry="6.65" fill="#969696"/>
<ellipse cx="338.18" cy="1696.16" rx="8.00" ry="7.60" fill="#5f5f5f"/>
<ellipse cx="358.65" cy="1696.16" rx="6.00" ry="5.70" fill="#aaaaaa"/>
<ellipse cx="379.12" cy="1696.16" rx="2.50" ry="2.38" fill="#ebebeb"/>
<ellipse cx="399.59" cy="1696.16" rx="4.00" ry="3.80" fill="#c8c8c8"/>
<ellipse cx="420.06" cy="1696.16" rx="6.00" ry="5.70" fill="#b9b9b9"/>
<ellipse cx="440.53" cy="1696.16" rx="2.50" ry="2.38" fill="#e8e8e8"/>
<circle cx="461.00" cy="1696.16" r="1.5" fill="#f8f8f8"/>
<circle cx="481.47" cy="1696.16" r="1.5" fill="#f8f8f8"/>
<circle cx="501.94" cy="1696.16" r="1.5" fill="#f8f8f8"/>
<circle cx="522.41" cy="1696.16" r="1.5" fill="#f8f8f8"/>
<circle cx="542.88" cy="1696.16" r="1.5" fill="#f8f8f8"/>
<circle cx="563.35" cy="1696.16" r="1.5" fill="#f8f8f8"/>
<circle cx="583.82" cy="1696.16" r="1.5" fill="#f8f8f8"/>
<ellipse cx="604.29" cy="1696.16" rx="8.00" ry="7.60" fill="#646464"/>
<ellipse cx="624.76" cy="1696.16" rx="6.50" ry="6.17" fill="#bebebe"/>
<ellipse cx="645.23" cy="1696.16" rx="8.00" ry="7.60" fill="#b9b9b9"/>
<ellipse cx="665.70" cy="1696.16" rx="4.50" ry="4.27" fill="#c3c3c3"/>
<circle cx="686.17" cy="1696.16" r="1.5" fill="#f8f8f8"/>
<ellipse cx="712.75" cy="1696.16" rx="2.50" ry="2.38" fill="#ebebeb"/>
<ellipse cx="733.23" cy="1696.16" rx="2.00" ry="1.90" fill="#ebebeb"/>
<ellipse cx="753.71" cy="1696.16" rx="2.00" ry="1.90" fill="#efefef"/>
<circle cx="774.19" cy="1696.16" r="1.5" fill="#f8f8f8"/>
<circle cx="794.67" cy="1696.16" r="1.5" fill="#f8f8f8"/>
<circle cx="815.15" cy="1696.16" r="1.5" fill="#f8f8f8"/>
<ellipse cx="835.63" cy="1696.16" rx="2.00" ry="1.90" fill="#ededed"/>
<circle cx="856.11" cy="1696.16" r="1.5" fill="#f8f8f8"/>
<circle cx="876.59" cy="1696.16" r="1.5" fill="#f8f8f8"/>
<ellipse cx="897.07" cy="1696.16" rx="9.00" ry="8.55" fill="#5a5a5a"/>
<circle cx="256.30" cy="1715.49" r="1.5" fill="#f8f8f8"/>
<ellipse cx="276.77" cy="1715.49" rx="3.00" ry="2.85" fill="#dedede"/>
<circle cx="297.24" cy="1715.49" r="1.5" fill="#f8f8f8"/>
<ellipse cx="317.71" cy="1715.49" rx="2.50" ry="2.38" fill="#e8e8e8"/>
<circle cx="338.18" cy="1715.49" r="1.5" fill="#f8f8f8"/>
<circle cx="358.65" cy="1715.49" r="1.5" fill="#f8f8f8"/>
<ellipse cx="379.12" cy="1715.49" rx="4.00" ry="3.80" fill="#dadada"/>
<ellipse cx="399.59" cy="1715.49" rx="2.00" ry="1.90" fill="#ebebeb"/>
<ellipse cx="420.06" cy="1715.49" rx="2.00" ry="1.90" fill="#ededed"/>
<ellipse cx="440.53" cy="1715.49" rx="4.00" ry="3.80" fill="#dadada"/>
<ellipse cx="461.00" cy="1715.49" rx="2.00" ry="1.90" fill="#ebebeb"/>
<ellipse cx="481.47" cy="1715.49" rx="2.00" ry="1.90" fill="#ebebeb"/>
<ellipse cx="501.94" cy="1715.49" rx="2.00" ry="1.90" fill="#ebebeb"/>
<ellipse cx="522.41" cy="1715.49" rx="2.00" ry="1.90" fill="#ebebeb"/>
<circle cx="542.88" cy="1715.49" r="1.5" fill="#f8f8f8"/>
<circle cx="563.35" cy="1715.49" r="1.5" fill="#f8f8f8"/>
<circle cx="583.82" cy="1715.49" r="1.5" fill="#f8f8f8"/>
<ellipse cx="604.29" cy="1715.49" rx="9.00" ry="8.55" fill="#464646"/>
<ellipse cx="624.76" cy="1715.49" rx="3.50" ry="3.32" fill="#d7d7d7"/>
<ellipse cx="645.23" cy="1715.49" rx="3.00" ry="2.85" fill="#dcdcdc"/>
<circle cx="665.70" cy="1715.49" r="1.5" fill="#f8f8f8"/>
<circle cx="686.17" cy="1715.49" r="1.5" fill="#f8f8f8"/>
<circle cx="712.75" cy="1715.49" r="1.5" fill="#f8f8f8"/>
<circle cx="733.23" cy="1715.49" r="1.5" fill="#f8f8f8"/>
<ellipse cx="753.71" cy="1715.49" rx="3.00" ry="2.85" fill="#e8e8e8"/>
<circle cx="774.19" cy="1715.49" r="1.5" fill="#f8f8f8"/>
<circle cx="794.67" cy="1715.49" r="1.5" fill="#f8f8f8"/>
<circle cx="815.15" cy="1715.49" r="1.5" fill="#f8f8f8"/>
<circle cx="835.63" cy="1715.49" r="1.5" fill="#f8f8f8"/>
<circle cx="856.11" cy="1715.49" r="1.5" fill="#f8f8f8"/>
<circle cx="876.59" cy="1715.49" r="1.5" fill="#f8f8f8"/>
<ellipse cx="897.07" cy="1715.49" rx="9.00" ry="8.55" fill="#919191"/>
<circle cx="256.30" cy="1754.14" r="1.5" fill="#f8f8f8"/>
<circle cx="276.77" cy="1754.14" r="1.5" fill="#f8f8f8"/>
<circle cx="297.24" cy="1754.14" r="1.5" fill="#f8f8f8"/>
<ellipse cx="317.71" cy="1754.14" rx="2.00" ry="1.90" fill="#ededed"/>
<ellipse cx="338.18" cy="1754.14" rx="2.00" ry="1.90" fill="#ededed"/>
<circle cx="358.65" cy="1754.14" r="1.5" fill="#f8f8f8"/>
<ellipse cx="379.12" cy="1754.14" rx="2.00" ry="1.90" fill="#ededed"/>
<circle cx="399.59" cy="1754.14" r="1.5" fill="#f8f8f8"/>
<ellipse cx="420.06" cy="1754.14" rx="2.00" ry="1.90" fill="#ededed"/>
<circle cx="440.53" cy="1754.14" r="1.5" fill="#f8f8f8"/>
<circle cx="461.00" cy="1754.14" r="1.5" fill="#f8f8f8"/>
<circle cx="481.47" cy="1754.14" r="1.5" fill="#f8f8f8"/>
<circle cx="501.94" cy="1754.14" r="1.5" fill="#f8f8f8"/>
<circle cx="522.41" cy="1754.14" r="1.5" fill="#f8f8f8"/>
<circle cx="542.88" cy="1754.14" r="1.5" fill="#f8f8f8"/>
<circle cx="563.35" cy="1754.14" r="1.5" fill="#f8f8f8"/>
<circle cx="583.82" cy="1754.14" r="1.5" fill="#f8f8f8"/>
<ellipse cx="604.29" cy="1754.14" rx="5.00" ry="4.75" fill="#c8c8c8"/>
<ellipse cx="624.76" cy="1754.14" rx="4.50" ry="4.27" fill="#d2d2d2"/>
<ellipse cx="645.23" cy="1754.14" rx="3.00" ry="2.85" fill="#dedede"/>
<ellipse cx="665.70" cy="1754.14" rx="3.50" ry="3.32" fill="#dadada"/>
<circle cx="686.17" cy="1754.14" r="1.5" fill="#f8f8f8"/>
<ellipse cx="712.75" cy="1754.14" rx="5.00" ry="4.75" fill="#a5a5a5"/>
<ellipse cx="733.23" cy="1754.14" rx="2.50" ry="2.38" fill="#ebebeb"/>
<circle cx="753.71" cy="1754.14" r="1.5" fill="#f8f8f8"/>
<circle cx="774.19" cy="1754.14" r="1.5" fill="#f8f8f8"/>
<ellipse cx="794.67" cy="1754.14" rx="2.00" ry="1.90" fill="#8c8c8c"/>
<circle cx="815.15" cy="1754.14" r="1.5" fill="#f8f8f8"/>
<ellipse cx="835.63" cy="1754.14" rx="2.50" ry="2.38" fill="#efefef"/>
<circle cx="856.11" cy="1754.14" r="1.5" fill="#f8f8f8"/>
<circle cx="876.59" cy="1754.14" r="1.5" fill="#f8f8f8"/>
<ellipse cx="897.07" cy="1754.14" rx="10.00" ry="9.50" fill="#0a0a0a"/>
<rect x="246.05" y="1686.85" width="450.20" height="76.60" fill="none" stroke="#231f20" stroke-width="1.9"/>
<rect x="702.75" y="1686.85" width="204.70" height="76.60" fill="none" stroke="#231f20" stroke-width="1.9"/>
<line x1="241.20" y1="1696.16" x2="245.60" y2="1696.16" stroke="#231f20" stroke-width="1.6" stroke-linecap="butt"/>
<text transform="translate(235.10,1704.96) scale(0.8465,1)" text-anchor="end" font-size="20.2" font-weight="normal" xml:space="preserve"><tspan font-style="normal" fill="#2aa9db" stroke="#2aa9db" stroke-width="0.4">hu </tspan><tspan font-style="italic" fill="#2aa9db" stroke="#2aa9db" stroke-width="0.4">CD14</tspan></text>
<line x1="241.20" y1="1715.49" x2="245.60" y2="1715.49" stroke="#231f20" stroke-width="1.6" stroke-linecap="butt"/>
<text transform="translate(235.10,1724.29) scale(0.8465,1)" text-anchor="end" font-size="20.2" font-weight="normal" xml:space="preserve"><tspan font-style="normal" fill="#231f20" stroke="#231f20" stroke-width="0.4">le </tspan><tspan font-style="italic" fill="#231f20" stroke="#231f20" stroke-width="0.4">LOC105862649</tspan></text>
<path d="M73.0,1715.79 L79.8,1715.79 L75.7,1711.19 L90.4,1717.09 L75.7,1722.99 L79.8,1718.39 L73.0,1718.39 Z" fill="#2b2b2b"/>
<line x1="241.20" y1="1734.81" x2="245.60" y2="1734.81" stroke="#231f20" stroke-width="1.6" stroke-linecap="butt"/>
<text transform="translate(235.10,1743.61) scale(0.8465,1)" text-anchor="end" font-size="20.2" font-weight="normal" xml:space="preserve"><tspan font-style="normal" fill="#231f20" stroke="#231f20" stroke-width="0.4">le </tspan><tspan font-style="italic" fill="#231f20" stroke="#231f20" stroke-width="0.4">LOC105862489</tspan></text>
<line x1="241.20" y1="1754.14" x2="245.60" y2="1754.14" stroke="#231f20" stroke-width="1.6" stroke-linecap="butt"/>
<text transform="translate(235.10,1762.94) scale(0.8465,1)" text-anchor="end" font-size="20.2" font-weight="normal" xml:space="preserve"><tspan font-style="italic" fill="#c4601e" stroke="#c4601e" stroke-width="0.4">ms </tspan><tspan font-style="italic" fill="#c4601e" stroke="#c4601e" stroke-width="0.4">Cd14</tspan></text>
<circle cx="256.30" cy="1782.01" r="1.5" fill="#f8f8f8"/>
<circle cx="276.77" cy="1782.01" r="1.5" fill="#f8f8f8"/>
<ellipse cx="297.24" cy="1782.01" rx="2.00" ry="1.90" fill="#ededed"/>
<ellipse cx="317.71" cy="1782.01" rx="2.00" ry="1.90" fill="#ededed"/>
<ellipse cx="338.18" cy="1782.01" rx="2.00" ry="1.90" fill="#ededed"/>
<ellipse cx="358.65" cy="1782.01" rx="2.00" ry="1.90" fill="#ededed"/>
<ellipse cx="379.12" cy="1782.01" rx="5.00" ry="4.75" fill="#d7d7d7"/>
<ellipse cx="399.59" cy="1782.01" rx="2.50" ry="2.38" fill="#ebebeb"/>
<ellipse cx="420.06" cy="1782.01" rx="2.50" ry="2.38" fill="#ebebeb"/>
<ellipse cx="440.53" cy="1782.01" rx="2.50" ry="2.38" fill="#ebebeb"/>
<circle cx="461.00" cy="1782.01" r="1.5" fill="#f8f8f8"/>
<circle cx="481.47" cy="1782.01" r="1.5" fill="#f8f8f8"/>
<circle cx="501.94" cy="1782.01" r="1.5" fill="#f8f8f8"/>
<circle cx="522.41" cy="1782.01" r="1.5" fill="#f8f8f8"/>
<circle cx="542.88" cy="1782.01" r="1.5" fill="#f8f8f8"/>
<circle cx="563.35" cy="1782.01" r="1.5" fill="#f8f8f8"/>
<circle cx="583.82" cy="1782.01" r="1.5" fill="#f8f8f8"/>
<circle cx="604.29" cy="1782.01" r="1.5" fill="#f8f8f8"/>
<circle cx="624.76" cy="1782.01" r="1.5" fill="#f8f8f8"/>
<circle cx="645.23" cy="1782.01" r="1.5" fill="#f8f8f8"/>
<circle cx="665.70" cy="1782.01" r="1.5" fill="#f8f8f8"/>
<circle cx="686.17" cy="1782.01" r="1.5" fill="#f8f8f8"/>
<ellipse cx="712.75" cy="1782.01" rx="3.00" ry="2.85" fill="#e4e4e4"/>
<ellipse cx="733.23" cy="1782.01" rx="5.00" ry="4.75" fill="#d7d7d7"/>
<circle cx="753.71" cy="1782.01" r="1.5" fill="#f8f8f8"/>
<circle cx="774.19" cy="1782.01" r="1.5" fill="#f8f8f8"/>
<circle cx="794.67" cy="1782.01" r="1.5" fill="#f8f8f8"/>
<ellipse cx="815.15" cy="1782.01" rx="3.50" ry="3.32" fill="#e4e4e4"/>
<ellipse cx="835.63" cy="1782.01" rx="4.00" ry="3.80" fill="#dedede"/>
<circle cx="856.11" cy="1782.01" r="1.5" fill="#f8f8f8"/>
<circle cx="876.59" cy="1782.01" r="1.5" fill="#f8f8f8"/>
<circle cx="897.07" cy="1782.01" r="1.5" fill="#f8f8f8"/>
<circle cx="256.30" cy="1801.24" r="1.5" fill="#f8f8f8"/>
<circle cx="276.77" cy="1801.24" r="1.5" fill="#f8f8f8"/>
<circle cx="297.24" cy="1801.24" r="1.5" fill="#f8f8f8"/>
<ellipse cx="317.71" cy="1801.24" rx="2.00" ry="1.90" fill="#efefef"/>
<ellipse cx="338.18" cy="1801.24" rx="2.00" ry="1.90" fill="#efefef"/>
<ellipse cx="358.65" cy="1801.24" rx="2.50" ry="2.38" fill="#ebebeb"/>
<ellipse cx="379.12" cy="1801.24" rx="7.00" ry="6.65" fill="#c8c8c8"/>
<ellipse cx="399.59" cy="1801.24" rx="5.50" ry="5.22" fill="#d2d2d2"/>
<ellipse cx="420.06" cy="1801.24" rx="2.50" ry="2.38" fill="#ededed"/>
<circle cx="440.53" cy="1801.24" r="1.5" fill="#f8f8f8"/>
<circle cx="461.00" cy="1801.24" r="1.5" fill="#f8f8f8"/>
<circle cx="481.47" cy="1801.24" r="1.5" fill="#f8f8f8"/>
<circle cx="501.94" cy="1801.24" r="1.5" fill="#f8f8f8"/>
<circle cx="522.41" cy="1801.24" r="1.5" fill="#f8f8f8"/>
<circle cx="542.88" cy="1801.24" r="1.5" fill="#f8f8f8"/>
<circle cx="563.35" cy="1801.24" r="1.5" fill="#f8f8f8"/>
<circle cx="583.82" cy="1801.24" r="1.5" fill="#f8f8f8"/>
<circle cx="604.29" cy="1801.24" r="1.5" fill="#f8f8f8"/>
<circle cx="624.76" cy="1801.24" r="1.5" fill="#f8f8f8"/>
<circle cx="645.23" cy="1801.24" r="1.5" fill="#f8f8f8"/>
<circle cx="665.70" cy="1801.24" r="1.5" fill="#f8f8f8"/>
<circle cx="686.17" cy="1801.24" r="1.5" fill="#f8f8f8"/>
<ellipse cx="712.75" cy="1801.24" rx="2.00" ry="1.90" fill="#efefef"/>
<ellipse cx="733.23" cy="1801.24" rx="5.50" ry="5.22" fill="#d7d7d7"/>
<ellipse cx="753.71" cy="1801.24" rx="2.00" ry="1.90" fill="#efefef"/>
<circle cx="774.19" cy="1801.24" r="1.5" fill="#f8f8f8"/>
<circle cx="794.67" cy="1801.24" r="1.5" fill="#f8f8f8"/>
<ellipse cx="815.15" cy="1801.24" rx="4.00" ry="3.80" fill="#dedede"/>
<ellipse cx="835.63" cy="1801.24" rx="2.00" ry="1.90" fill="#efefef"/>
<circle cx="856.11" cy="1801.24" r="1.5" fill="#f8f8f8"/>
<circle cx="876.59" cy="1801.24" r="1.5" fill="#f8f8f8"/>
<circle cx="897.07" cy="1801.24" r="1.5" fill="#f8f8f8"/>
<circle cx="256.30" cy="1839.69" r="1.5" fill="#f8f8f8"/>
<circle cx="276.77" cy="1839.69" r="1.5" fill="#f8f8f8"/>
<circle cx="297.24" cy="1839.69" r="1.5" fill="#f8f8f8"/>
<ellipse cx="317.71" cy="1839.69" rx="2.50" ry="2.38" fill="#ebebeb"/>
<ellipse cx="338.18" cy="1839.69" rx="2.50" ry="2.38" fill="#ebebeb"/>
<circle cx="358.65" cy="1839.69" r="1.5" fill="#f8f8f8"/>
<ellipse cx="379.12" cy="1839.69" rx="6.50" ry="6.17" fill="#c8c8c8"/>
<ellipse cx="399.59" cy="1839.69" rx="3.50" ry="3.32" fill="#dedede"/>
<ellipse cx="420.06" cy="1839.69" rx="2.50" ry="2.38" fill="#ebebeb"/>
<ellipse cx="440.53" cy="1839.69" rx="2.50" ry="2.38" fill="#ebebeb"/>
<circle cx="461.00" cy="1839.69" r="1.5" fill="#f8f8f8"/>
<circle cx="481.47" cy="1839.69" r="1.5" fill="#f8f8f8"/>
<circle cx="501.94" cy="1839.69" r="1.5" fill="#f8f8f8"/>
<circle cx="522.41" cy="1839.69" r="1.5" fill="#f8f8f8"/>
<circle cx="542.88" cy="1839.69" r="1.5" fill="#f8f8f8"/>
<circle cx="563.35" cy="1839.69" r="1.5" fill="#f8f8f8"/>
<circle cx="583.82" cy="1839.69" r="1.5" fill="#f8f8f8"/>
<circle cx="604.29" cy="1839.69" r="1.5" fill="#f8f8f8"/>
<circle cx="624.76" cy="1839.69" r="1.5" fill="#f8f8f8"/>
<circle cx="645.23" cy="1839.69" r="1.5" fill="#f8f8f8"/>
<circle cx="665.70" cy="1839.69" r="1.5" fill="#f8f8f8"/>
<circle cx="686.17" cy="1839.69" r="1.5" fill="#f8f8f8"/>
<ellipse cx="712.75" cy="1839.69" rx="3.00" ry="2.85" fill="#e4e4e4"/>
<ellipse cx="733.23" cy="1839.69" rx="4.50" ry="4.27" fill="#dadada"/>
<ellipse cx="753.71" cy="1839.69" rx="2.00" ry="1.90" fill="#efefef"/>
<circle cx="774.19" cy="1839.69" r="1.5" fill="#f8f8f8"/>
<circle cx="794.67" cy="1839.69" r="1.5" fill="#f8f8f8"/>
<ellipse cx="815.15" cy="1839.69" rx="3.00" ry="2.85" fill="#e4e4e4"/>
<circle cx="835.63" cy="1839.69" r="1.5" fill="#f8f8f8"/>
<circle cx="856.11" cy="1839.69" r="1.5" fill="#f8f8f8"/>
<circle cx="876.59" cy="1839.69" r="1.5" fill="#f8f8f8"/>
<circle cx="897.07" cy="1839.69" r="1.5" fill="#f8f8f8"/>
<rect x="246.05" y="1772.75" width="450.20" height="76.20" fill="none" stroke="#231f20" stroke-width="1.9"/>
<rect x="702.75" y="1772.75" width="204.70" height="76.20" fill="none" stroke="#231f20" stroke-width="1.9"/>
<line x1="241.20" y1="1782.01" x2="245.60" y2="1782.01" stroke="#231f20" stroke-width="1.6" stroke-linecap="butt"/>
<text transform="translate(235.10,1790.81) scale(0.8465,1)" text-anchor="end" font-size="20.2" font-weight="normal" xml:space="preserve"><tspan font-style="normal" fill="#2aa9db" stroke="#2aa9db" stroke-width="0.4">hu </tspan><tspan font-style="italic" fill="#2aa9db" stroke="#2aa9db" stroke-width="0.4">PALM</tspan></text>
<line x1="241.20" y1="1801.24" x2="245.60" y2="1801.24" stroke="#231f20" stroke-width="1.6" stroke-linecap="butt"/>
<text transform="translate(235.10,1810.04) scale(0.8465,1)" text-anchor="end" font-size="20.2" font-weight="normal" xml:space="preserve"><tspan font-style="normal" fill="#231f20" stroke="#231f20" stroke-width="0.4">le </tspan><tspan font-style="italic" fill="#231f20" stroke="#231f20" stroke-width="0.4">LOC105860793</tspan></text>
<path d="M73.0,1801.54 L79.8,1801.54 L75.7,1796.94 L90.4,1802.84 L75.7,1808.74 L79.8,1804.14 L73.0,1804.14 Z" fill="#2b2b2b"/>
<line x1="241.20" y1="1820.46" x2="245.60" y2="1820.46" stroke="#231f20" stroke-width="1.6" stroke-linecap="butt"/>
<text transform="translate(235.10,1829.26) scale(0.8465,1)" text-anchor="end" font-size="20.2" font-weight="normal" xml:space="preserve"><tspan font-style="normal" fill="#231f20" stroke="#231f20" stroke-width="0.4">le </tspan><tspan font-style="italic" fill="#231f20" stroke="#231f20" stroke-width="0.4">LOC105860840</tspan></text>
<line x1="241.20" y1="1839.69" x2="245.60" y2="1839.69" stroke="#231f20" stroke-width="1.6" stroke-linecap="butt"/>
<text transform="translate(235.10,1848.49) scale(0.8465,1)" text-anchor="end" font-size="20.2" font-weight="normal" xml:space="preserve"><tspan font-style="normal" fill="#c4601e" stroke="#c4601e" stroke-width="0.4">ms </tspan><tspan font-style="italic" fill="#c4601e" stroke="#c4601e" stroke-width="0.4">Palm</tspan></text>
<ellipse cx="256.30" cy="1895.62" rx="3.00" ry="2.85" fill="#e4e4e4"/>
<ellipse cx="276.77" cy="1895.62" rx="9.50" ry="9.03" fill="#7d7d7d"/>
<circle cx="297.24" cy="1895.62" r="1.5" fill="#f8f8f8"/>
<ellipse cx="317.71" cy="1895.62" rx="3.50" ry="3.32" fill="#dcdcdc"/>
<circle cx="338.18" cy="1895.62" r="1.5" fill="#f8f8f8"/>
<ellipse cx="358.65" cy="1895.62" rx="3.00" ry="2.85" fill="#e1e1e1"/>
<ellipse cx="379.12" cy="1895.62" rx="4.50" ry="4.27" fill="#dadada"/>
<ellipse cx="399.59" cy="1895.62" rx="7.50" ry="7.12" fill="#afafaf"/>
<ellipse cx="420.06" cy="1895.62" rx="7.50" ry="7.12" fill="#a0a0a0"/>
<circle cx="440.53" cy="1895.62" r="1.5" fill="#f8f8f8"/>
<circle cx="461.00" cy="1895.62" r="1.5" fill="#f8f8f8"/>
<circle cx="481.47" cy="1895.62" r="1.5" fill="#f8f8f8"/>
<circle cx="501.94" cy="1895.62" r="1.5" fill="#f8f8f8"/>
<circle cx="522.41" cy="1895.62" r="1.5" fill="#f8f8f8"/>
<circle cx="542.88" cy="1895.62" r="1.5" fill="#f8f8f8"/>
<circle cx="563.35" cy="1895.62" r="1.5" fill="#f8f8f8"/>
<circle cx="583.82" cy="1895.62" r="1.5" fill="#f8f8f8"/>
<ellipse cx="604.29" cy="1895.62" rx="2.50" ry="2.38" fill="#ebebeb"/>
<ellipse cx="624.76" cy="1895.62" rx="5.00" ry="4.75" fill="#dadada"/>
<ellipse cx="645.23" cy="1895.62" rx="2.50" ry="2.38" fill="#ebebeb"/>
<circle cx="665.70" cy="1895.62" r="1.5" fill="#f8f8f8"/>
<circle cx="686.17" cy="1895.62" r="1.5" fill="#f8f8f8"/>
<circle cx="712.75" cy="1895.62" r="1.5" fill="#f8f8f8"/>
<circle cx="733.23" cy="1895.62" r="1.5" fill="#f8f8f8"/>
<ellipse cx="753.71" cy="1895.62" rx="10.00" ry="9.50" fill="#0f0f0f"/>
<ellipse cx="774.19" cy="1895.62" rx="8.50" ry="8.07" fill="#969696"/>
<ellipse cx="794.67" cy="1895.62" rx="3.00" ry="2.85" fill="#e1e1e1"/>
<ellipse cx="815.15" cy="1895.62" rx="7.00" ry="6.65" fill="#b9b9b9"/>
<ellipse cx="835.63" cy="1895.62" rx="2.50" ry="2.38" fill="#ebebeb"/>
<circle cx="856.11" cy="1895.62" r="1.5" fill="#f8f8f8"/>
<circle cx="876.59" cy="1895.62" r="1.5" fill="#f8f8f8"/>
<ellipse cx="897.07" cy="1895.62" rx="6.00" ry="5.70" fill="#b4b4b4"/>
<ellipse cx="256.30" cy="1915.25" rx="3.50" ry="3.32" fill="#e1e1e1"/>
<ellipse cx="276.77" cy="1915.25" rx="10.00" ry="9.50" fill="#4b4b4b"/>
<circle cx="297.24" cy="1915.25" r="1.5" fill="#f8f8f8"/>
<ellipse cx="317.71" cy="1915.25" rx="4.00" ry="3.80" fill="#dcdcdc"/>
<ellipse cx="338.18" cy="1915.25" rx="2.50" ry="2.38" fill="#e8e8e8"/>
<circle cx="358.65" cy="1915.25" r="1.5" fill="#f8f8f8"/>
<circle cx="379.12" cy="1915.25" r="1.5" fill="#f8f8f8"/>
<ellipse cx="399.59" cy="1915.25" rx="7.50" ry="7.12" fill="#afafaf"/>
<ellipse cx="420.06" cy="1915.25" rx="9.00" ry="8.55" fill="#7d7d7d"/>
<circle cx="440.53" cy="1915.25" r="1.5" fill="#f8f8f8"/>
<circle cx="461.00" cy="1915.25" r="1.5" fill="#f8f8f8"/>
<circle cx="481.47" cy="1915.25" r="1.5" fill="#f8f8f8"/>
<circle cx="501.94" cy="1915.25" r="1.5" fill="#f8f8f8"/>
<circle cx="522.41" cy="1915.25" r="1.5" fill="#f8f8f8"/>
<circle cx="542.88" cy="1915.25" r="1.5" fill="#f8f8f8"/>
<circle cx="563.35" cy="1915.25" r="1.5" fill="#f8f8f8"/>
<circle cx="583.82" cy="1915.25" r="1.5" fill="#f8f8f8"/>
<circle cx="604.29" cy="1915.25" r="1.5" fill="#f8f8f8"/>
<circle cx="624.76" cy="1915.25" r="1.5" fill="#f8f8f8"/>
<circle cx="645.23" cy="1915.25" r="1.5" fill="#f8f8f8"/>
<circle cx="665.70" cy="1915.25" r="1.5" fill="#f8f8f8"/>
<circle cx="686.17" cy="1915.25" r="1.5" fill="#f8f8f8"/>
<circle cx="712.75" cy="1915.25" r="1.5" fill="#f8f8f8"/>
<circle cx="733.23" cy="1915.25" r="1.5" fill="#f8f8f8"/>
<circle cx="753.71" cy="1915.25" r="1.5" fill="#f8f8f8"/>
<ellipse cx="774.19" cy="1915.25" rx="3.50" ry="3.32" fill="#e1e1e1"/>
<circle cx="794.67" cy="1915.25" r="1.5" fill="#f8f8f8"/>
<circle cx="815.15" cy="1915.25" r="1.5" fill="#f8f8f8"/>
<circle cx="835.63" cy="1915.25" r="1.5" fill="#f8f8f8"/>
<circle cx="856.11" cy="1915.25" r="1.5" fill="#f8f8f8"/>
<circle cx="876.59" cy="1915.25" r="1.5" fill="#f8f8f8"/>
<circle cx="897.07" cy="1915.25" r="1.5" fill="#f8f8f8"/>
<circle cx="256.30" cy="1934.88" r="1.5" fill="#f8f8f8"/>
<ellipse cx="276.77" cy="1934.88" rx="10.25" ry="9.74" fill="#505050"/>
<circle cx="297.24" cy="1934.88" r="1.5" fill="#f8f8f8"/>
<ellipse cx="317.71" cy="1934.88" rx="4.50" ry="4.27" fill="#dadada"/>
<circle cx="338.18" cy="1934.88" r="1.5" fill="#f8f8f8"/>
<circle cx="358.65" cy="1934.88" r="1.5" fill="#f8f8f8"/>
<circle cx="379.12" cy="1934.88" r="1.5" fill="#f8f8f8"/>
<ellipse cx="399.59" cy="1934.88" rx="5.50" ry="5.22" fill="#bebebe"/>
<ellipse cx="420.06" cy="1934.88" rx="10.00" ry="9.50" fill="#646464"/>
<ellipse cx="440.53" cy="1934.88" rx="4.50" ry="4.27" fill="#dadada"/>
<circle cx="461.00" cy="1934.88" r="1.5" fill="#f8f8f8"/>
<circle cx="481.47" cy="1934.88" r="1.5" fill="#f8f8f8"/>
<circle cx="501.94" cy="1934.88" r="1.5" fill="#f8f8f8"/>
<circle cx="522.41" cy="1934.88" r="1.5" fill="#f8f8f8"/>
<circle cx="542.88" cy="1934.88" r="1.5" fill="#f8f8f8"/>
<circle cx="563.35" cy="1934.88" r="1.5" fill="#f8f8f8"/>
<circle cx="583.82" cy="1934.88" r="1.5" fill="#f8f8f8"/>
<circle cx="604.29" cy="1934.88" r="1.5" fill="#f8f8f8"/>
<circle cx="624.76" cy="1934.88" r="1.5" fill="#f8f8f8"/>
<circle cx="645.23" cy="1934.88" r="1.5" fill="#f8f8f8"/>
<circle cx="665.70" cy="1934.88" r="1.5" fill="#f8f8f8"/>
<circle cx="686.17" cy="1934.88" r="1.5" fill="#f8f8f8"/>
<circle cx="712.75" cy="1934.88" r="1.5" fill="#f8f8f8"/>
<circle cx="733.23" cy="1934.88" r="1.5" fill="#f8f8f8"/>
<ellipse cx="753.71" cy="1934.88" rx="4.00" ry="3.80" fill="#dedede"/>
<ellipse cx="774.19" cy="1934.88" rx="2.50" ry="2.38" fill="#ededed"/>
<ellipse cx="794.67" cy="1934.88" rx="6.00" ry="5.70" fill="#c8c8c8"/>
<ellipse cx="815.15" cy="1934.88" rx="3.50" ry="3.32" fill="#e1e1e1"/>
<circle cx="835.63" cy="1934.88" r="1.5" fill="#f8f8f8"/>
<circle cx="856.11" cy="1934.88" r="1.5" fill="#f8f8f8"/>
<circle cx="876.59" cy="1934.88" r="1.5" fill="#f8f8f8"/>
<circle cx="897.07" cy="1934.88" r="1.5" fill="#f8f8f8"/>
<rect x="246.05" y="1886.15" width="450.20" height="58.20" fill="none" stroke="#231f20" stroke-width="1.9"/>
<rect x="702.75" y="1886.15" width="204.70" height="58.20" fill="none" stroke="#231f20" stroke-width="1.9"/>
<line x1="241.20" y1="1895.62" x2="245.60" y2="1895.62" stroke="#231f20" stroke-width="1.6" stroke-linecap="butt"/>
<text transform="translate(235.90,1904.42) scale(0.8465,1)" text-anchor="end" font-size="20.2" font-weight="normal" xml:space="preserve"><tspan font-style="normal" fill="#2aa9db" stroke="#2aa9db" stroke-width="0.4">hu </tspan><tspan font-style="italic" fill="#2aa9db" stroke="#2aa9db" stroke-width="0.4">ALDH1A1</tspan></text>
<line x1="241.20" y1="1915.25" x2="245.60" y2="1915.25" stroke="#231f20" stroke-width="1.6" stroke-linecap="butt"/>
<text transform="translate(235.90,1924.05) scale(0.8465,1)" text-anchor="end" font-size="20.2" font-weight="normal" xml:space="preserve"><tspan font-style="normal" fill="#231f20" stroke="#231f20" stroke-width="0.4">le </tspan><tspan font-style="italic" fill="#231f20" stroke="#231f20" stroke-width="0.4">LOC105874770</tspan></text>
<line x1="241.20" y1="1934.88" x2="245.60" y2="1934.88" stroke="#231f20" stroke-width="1.6" stroke-linecap="butt"/>
<text transform="translate(235.90,1943.68) scale(0.8465,1)" text-anchor="end" font-size="20.2" font-weight="normal" xml:space="preserve"><tspan font-style="normal" fill="#c4601e" stroke="#c4601e" stroke-width="0.4">ms </tspan><tspan font-style="italic" fill="#c4601e" stroke="#c4601e" stroke-width="0.4">Aldh1a1</tspan></text>
<circle cx="256.30" cy="1990.19" r="1.5" fill="#f8f8f8"/>
<ellipse cx="276.77" cy="1990.19" rx="3.50" ry="3.32" fill="#e1e1e1"/>
<circle cx="297.24" cy="1990.19" r="1.5" fill="#f8f8f8"/>
<circle cx="317.71" cy="1990.19" r="1.5" fill="#f8f8f8"/>
<circle cx="338.18" cy="1990.19" r="1.5" fill="#f8f8f8"/>
<circle cx="358.65" cy="1990.19" r="1.5" fill="#f8f8f8"/>
<circle cx="379.12" cy="1990.19" r="1.5" fill="#f8f8f8"/>
<circle cx="399.59" cy="1990.19" r="1.5" fill="#f8f8f8"/>
<ellipse cx="420.06" cy="1990.19" rx="4.50" ry="4.27" fill="#d7d7d7"/>
<circle cx="440.53" cy="1990.19" r="1.5" fill="#f8f8f8"/>
<circle cx="461.00" cy="1990.19" r="1.5" fill="#f8f8f8"/>
<circle cx="481.47" cy="1990.19" r="1.5" fill="#f8f8f8"/>
<circle cx="501.94" cy="1990.19" r="1.5" fill="#f8f8f8"/>
<circle cx="522.41" cy="1990.19" r="1.5" fill="#f8f8f8"/>
<ellipse cx="542.88" cy="1990.19" rx="3.00" ry="2.85" fill="#dedede"/>
<circle cx="563.35" cy="1990.19" r="1.5" fill="#f8f8f8"/>
<circle cx="583.82" cy="1990.19" r="1.5" fill="#f8f8f8"/>
<circle cx="604.29" cy="1990.19" r="1.5" fill="#f8f8f8"/>
<circle cx="624.76" cy="1990.19" r="1.5" fill="#f8f8f8"/>
<circle cx="645.23" cy="1990.19" r="1.5" fill="#f8f8f8"/>
<ellipse cx="665.70" cy="1990.19" rx="3.00" ry="2.85" fill="#e1e1e1"/>
<circle cx="686.17" cy="1990.19" r="1.5" fill="#f8f8f8"/>
<circle cx="712.75" cy="1990.19" r="1.5" fill="#f8f8f8"/>
<circle cx="733.23" cy="1990.19" r="1.5" fill="#f8f8f8"/>
<ellipse cx="753.01" cy="1990.19" rx="2.00" ry="1.90" fill="#efefef"/>
<circle cx="774.19" cy="1990.19" r="1.5" fill="#f8f8f8"/>
<ellipse cx="793.97" cy="1990.19" rx="8.50" ry="8.07" fill="#828282"/>
<circle cx="815.15" cy="1990.19" r="1.5" fill="#f8f8f8"/>
<circle cx="835.63" cy="1990.19" r="1.5" fill="#f8f8f8"/>
<circle cx="856.11" cy="1990.19" r="1.5" fill="#f8f8f8"/>
<circle cx="876.59" cy="1990.19" r="1.5" fill="#f8f8f8"/>
<circle cx="897.07" cy="1990.19" r="1.5" fill="#f8f8f8"/>
<circle cx="256.30" cy="2009.78" r="1.5" fill="#f8f8f8"/>
<ellipse cx="276.77" cy="2009.78" rx="6.50" ry="6.17" fill="#bebebe"/>
<ellipse cx="297.24" cy="2009.78" rx="10.00" ry="9.50" fill="#141414"/>
<ellipse cx="317.71" cy="2009.78" rx="9.50" ry="9.03" fill="#0f0f0f"/>
<ellipse cx="338.18" cy="2009.78" rx="10.25" ry="9.74" fill="#0a0a0a"/>
<ellipse cx="358.65" cy="2009.78" rx="10.25" ry="9.74" fill="#0a0a0a"/>
<ellipse cx="379.12" cy="2009.78" rx="3.00" ry="2.85" fill="#e1e1e1"/>
<ellipse cx="399.59" cy="2009.78" rx="2.50" ry="2.38" fill="#ebebeb"/>
<ellipse cx="420.06" cy="2009.78" rx="3.50" ry="3.32" fill="#dedede"/>
<ellipse cx="440.53" cy="2009.78" rx="6.50" ry="6.17" fill="#afafaf"/>
<ellipse cx="461.00" cy="2009.78" rx="2.50" ry="2.38" fill="#ebebeb"/>
<circle cx="481.47" cy="2009.78" r="1.5" fill="#f8f8f8"/>
<ellipse cx="501.94" cy="2009.78" rx="2.50" ry="2.38" fill="#ebebeb"/>
<ellipse cx="522.41" cy="2009.78" rx="2.50" ry="2.38" fill="#ebebeb"/>
<ellipse cx="542.88" cy="2009.78" rx="2.50" ry="2.38" fill="#ebebeb"/>
<ellipse cx="563.35" cy="2009.78" rx="2.50" ry="2.38" fill="#ebebeb"/>
<circle cx="583.82" cy="2009.78" r="1.5" fill="#f8f8f8"/>
<circle cx="604.29" cy="2009.78" r="1.5" fill="#f8f8f8"/>
<circle cx="624.76" cy="2009.78" r="1.5" fill="#f8f8f8"/>
<circle cx="645.23" cy="2009.78" r="1.5" fill="#f8f8f8"/>
<circle cx="665.70" cy="2009.78" r="1.5" fill="#f8f8f8"/>
<ellipse cx="686.17" cy="2009.78" rx="3.00" ry="2.85" fill="#e1e1e1"/>
<circle cx="712.75" cy="2009.78" r="1.5" fill="#f8f8f8"/>
<circle cx="733.23" cy="2009.78" r="1.5" fill="#f8f8f8"/>
<circle cx="753.71" cy="2009.78" r="1.5" fill="#f8f8f8"/>
<circle cx="774.19" cy="2009.78" r="1.5" fill="#f8f8f8"/>
<ellipse cx="793.97" cy="2009.78" rx="3.00" ry="2.85" fill="#e4e4e4"/>
<circle cx="815.15" cy="2009.78" r="1.5" fill="#f8f8f8"/>
<ellipse cx="834.93" cy="2009.78" rx="2.50" ry="2.38" fill="#ebebeb"/>
<circle cx="856.11" cy="2009.78" r="1.5" fill="#f8f8f8"/>
<circle cx="876.59" cy="2009.78" r="1.5" fill="#f8f8f8"/>
<circle cx="897.07" cy="2009.78" r="1.5" fill="#f8f8f8"/>
<ellipse cx="256.30" cy="2029.37" rx="7.00" ry="6.65" fill="#c3c3c3"/>
<circle cx="276.77" cy="2029.37" r="1.5" fill="#f8f8f8"/>
<circle cx="297.24" cy="2029.37" r="1.5" fill="#f8f8f8"/>
<circle cx="317.71" cy="2029.37" r="1.5" fill="#f8f8f8"/>
<circle cx="338.18" cy="2029.37" r="1.5" fill="#f8f8f8"/>
<circle cx="358.65" cy="2029.37" r="1.5" fill="#f8f8f8"/>
<circle cx="379.12" cy="2029.37" r="1.5" fill="#f8f8f8"/>
<circle cx="399.59" cy="2029.37" r="1.5" fill="#f8f8f8"/>
<circle cx="420.06" cy="2029.37" r="1.5" fill="#f8f8f8"/>
<circle cx="440.53" cy="2029.37" r="1.5" fill="#f8f8f8"/>
<circle cx="461.00" cy="2029.37" r="1.5" fill="#f8f8f8"/>
<circle cx="481.47" cy="2029.37" r="1.5" fill="#f8f8f8"/>
<ellipse cx="501.94" cy="2029.37" rx="3.50" ry="3.32" fill="#e1e1e1"/>
<circle cx="522.41" cy="2029.37" r="1.5" fill="#f8f8f8"/>
<circle cx="542.88" cy="2029.37" r="1.5" fill="#f8f8f8"/>
<circle cx="563.35" cy="2029.37" r="1.5" fill="#f8f8f8"/>
<ellipse cx="583.82" cy="2029.37" rx="2.50" ry="2.38" fill="#ebebeb"/>
<ellipse cx="604.29" cy="2029.37" rx="5.50" ry="5.22" fill="#d2d2d2"/>
<ellipse cx="624.76" cy="2029.37" rx="8.50" ry="8.07" fill="#afafaf"/>
<ellipse cx="645.23" cy="2029.37" rx="8.50" ry="8.07" fill="#afafaf"/>
<ellipse cx="665.70" cy="2029.37" rx="5.00" ry="4.75" fill="#d7d7d7"/>
<ellipse cx="686.17" cy="2029.37" rx="9.00" ry="8.55" fill="#afafaf"/>
<circle cx="712.75" cy="2029.37" r="1.5" fill="#f8f8f8"/>
<circle cx="733.23" cy="2029.37" r="1.5" fill="#f8f8f8"/>
<ellipse cx="753.01" cy="2029.37" rx="2.00" ry="1.90" fill="#efefef"/>
<circle cx="774.19" cy="2029.37" r="1.5" fill="#f8f8f8"/>
<ellipse cx="793.97" cy="2029.37" rx="5.50" ry="5.22" fill="#cdcdcd"/>
<ellipse cx="814.45" cy="2029.37" rx="4.50" ry="4.27" fill="#d7d7d7"/>
<circle cx="835.63" cy="2029.37" r="1.5" fill="#f8f8f8"/>
<ellipse cx="855.41" cy="2029.37" rx="4.50" ry="4.27" fill="#d7d7d7"/>
<ellipse cx="875.89" cy="2029.37" rx="3.00" ry="2.85" fill="#e4e4e4"/>
<ellipse cx="896.37" cy="2029.37" rx="3.50" ry="3.32" fill="#e1e1e1"/>
<circle cx="256.30" cy="2048.96" r="1.5" fill="#f8f8f8"/>
<circle cx="276.77" cy="2048.96" r="1.5" fill="#f8f8f8"/>
<ellipse cx="297.24" cy="2048.96" rx="7.00" ry="6.65" fill="#a5a5a5"/>
<ellipse cx="317.71" cy="2048.96" rx="10.00" ry="9.50" fill="#555555"/>
<ellipse cx="338.18" cy="2048.96" rx="10.00" ry="9.50" fill="#505050"/>
<ellipse cx="358.65" cy="2048.96" rx="9.00" ry="8.55" fill="#7d7d7d"/>
<ellipse cx="379.12" cy="2048.96" rx="4.00" ry="3.80" fill="#dadada"/>
<circle cx="399.59" cy="2048.96" r="1.5" fill="#f8f8f8"/>
<circle cx="420.06" cy="2048.96" r="1.5" fill="#f8f8f8"/>
<circle cx="440.53" cy="2048.96" r="1.5" fill="#f8f8f8"/>
<circle cx="461.00" cy="2048.96" r="1.5" fill="#f8f8f8"/>
<circle cx="481.47" cy="2048.96" r="1.5" fill="#f8f8f8"/>
<circle cx="501.94" cy="2048.96" r="1.5" fill="#f8f8f8"/>
<circle cx="522.41" cy="2048.96" r="1.5" fill="#f8f8f8"/>
<circle cx="542.88" cy="2048.96" r="1.5" fill="#f8f8f8"/>
<circle cx="563.35" cy="2048.96" r="1.5" fill="#f8f8f8"/>
<circle cx="583.82" cy="2048.96" r="1.5" fill="#f8f8f8"/>
<circle cx="604.29" cy="2048.96" r="1.5" fill="#f8f8f8"/>
<circle cx="624.76" cy="2048.96" r="1.5" fill="#f8f8f8"/>
<circle cx="645.23" cy="2048.96" r="1.5" fill="#f8f8f8"/>
<circle cx="665.70" cy="2048.96" r="1.5" fill="#f8f8f8"/>
<circle cx="686.17" cy="2048.96" r="1.5" fill="#f8f8f8"/>
<ellipse cx="712.05" cy="2048.96" rx="9.50" ry="9.03" fill="#646464"/>
<ellipse cx="732.53" cy="2048.96" rx="7.00" ry="6.65" fill="#a5a5a5"/>
<circle cx="753.71" cy="2048.96" r="1.5" fill="#f8f8f8"/>
<circle cx="774.19" cy="2048.96" r="1.5" fill="#f8f8f8"/>
<circle cx="794.67" cy="2048.96" r="1.5" fill="#f8f8f8"/>
<circle cx="815.15" cy="2048.96" r="1.5" fill="#f8f8f8"/>
<circle cx="835.63" cy="2048.96" r="1.5" fill="#f8f8f8"/>
<circle cx="856.11" cy="2048.96" r="1.5" fill="#f8f8f8"/>
<circle cx="876.59" cy="2048.96" r="1.5" fill="#f8f8f8"/>
<circle cx="897.07" cy="2048.96" r="1.5" fill="#f8f8f8"/>
<circle cx="256.30" cy="2088.14" r="1.5" fill="#f8f8f8"/>
<circle cx="276.77" cy="2088.14" r="1.5" fill="#f8f8f8"/>
<circle cx="297.24" cy="2088.14" r="1.5" fill="#f8f8f8"/>
<ellipse cx="317.71" cy="2088.14" rx="5.00" ry="4.75" fill="#d2d2d2"/>
<ellipse cx="338.18" cy="2088.14" rx="4.00" ry="3.80" fill="#dadada"/>
<circle cx="358.65" cy="2088.14" r="1.5" fill="#f8f8f8"/>
<circle cx="379.12" cy="2088.14" r="1.5" fill="#f8f8f8"/>
<circle cx="399.59" cy="2088.14" r="1.5" fill="#f8f8f8"/>
<circle cx="420.06" cy="2088.14" r="1.5" fill="#f8f8f8"/>
<circle cx="440.53" cy="2088.14" r="1.5" fill="#f8f8f8"/>
<circle cx="461.00" cy="2088.14" r="1.5" fill="#f8f8f8"/>
<circle cx="481.47" cy="2088.14" r="1.5" fill="#f8f8f8"/>
<ellipse cx="501.94" cy="2088.14" rx="2.50" ry="2.38" fill="#ebebeb"/>
<circle cx="522.41" cy="2088.14" r="1.5" fill="#f8f8f8"/>
<circle cx="542.88" cy="2088.14" r="1.5" fill="#f8f8f8"/>
<circle cx="563.35" cy="2088.14" r="1.5" fill="#f8f8f8"/>
<circle cx="583.82" cy="2088.14" r="1.5" fill="#f8f8f8"/>
<circle cx="604.29" cy="2088.14" r="1.5" fill="#f8f8f8"/>
<circle cx="624.76" cy="2088.14" r="1.5" fill="#f8f8f8"/>
<circle cx="645.23" cy="2088.14" r="1.5" fill="#f8f8f8"/>
<circle cx="665.70" cy="2088.14" r="1.5" fill="#f8f8f8"/>
<circle cx="686.17" cy="2088.14" r="1.5" fill="#f8f8f8"/>
<circle cx="712.75" cy="2088.14" r="1.5" fill="#f8f8f8"/>
<ellipse cx="732.53" cy="2088.14" rx="3.50" ry="3.32" fill="#e1e1e1"/>
<circle cx="753.71" cy="2088.14" r="1.5" fill="#f8f8f8"/>
<circle cx="774.19" cy="2088.14" r="1.5" fill="#f8f8f8"/>
<circle cx="794.67" cy="2088.14" r="1.5" fill="#f8f8f8"/>
<circle cx="815.15" cy="2088.14" r="1.5" fill="#f8f8f8"/>
<ellipse cx="834.93" cy="2088.14" rx="2.00" ry="1.90" fill="#ededed"/>
<ellipse cx="855.41" cy="2088.14" rx="6.50" ry="6.17" fill="#696969"/>
<ellipse cx="875.89" cy="2088.14" rx="5.00" ry="4.75" fill="#afafaf"/>
<ellipse cx="896.37" cy="2088.14" rx="2.00" ry="1.90" fill="#ededed"/>
<circle cx="256.30" cy="2107.73" r="1.5" fill="#f8f8f8"/>
<circle cx="276.77" cy="2107.73" r="1.5" fill="#f8f8f8"/>
<ellipse cx="297.24" cy="2107.73" rx="10.00" ry="9.50" fill="#232323"/>
<ellipse cx="317.71" cy="2107.73" rx="10.00" ry="9.50" fill="#4b4b4b"/>
<ellipse cx="338.18" cy="2107.73" rx="10.25" ry="9.74" fill="#141414"/>
<ellipse cx="358.65" cy="2107.73" rx="10.25" ry="9.74" fill="#0a0a0a"/>
<ellipse cx="379.12" cy="2107.73" rx="9.50" ry="9.03" fill="#505050"/>
<ellipse cx="399.59" cy="2107.73" rx="2.50" ry="2.38" fill="#e8e8e8"/>
<circle cx="420.06" cy="2107.73" r="1.5" fill="#f8f8f8"/>
<ellipse cx="440.53" cy="2107.73" rx="2.50" ry="2.38" fill="#e8e8e8"/>
<ellipse cx="461.00" cy="2107.73" rx="2.50" ry="2.38" fill="#ebebeb"/>
<ellipse cx="481.47" cy="2107.73" rx="2.50" ry="2.38" fill="#ebebeb"/>
<ellipse cx="501.94" cy="2107.73" rx="2.50" ry="2.38" fill="#e8e8e8"/>
<circle cx="522.41" cy="2107.73" r="1.5" fill="#f8f8f8"/>
<circle cx="542.88" cy="2107.73" r="1.5" fill="#f8f8f8"/>
<circle cx="563.35" cy="2107.73" r="1.5" fill="#f8f8f8"/>
<circle cx="583.82" cy="2107.73" r="1.5" fill="#f8f8f8"/>
<circle cx="604.29" cy="2107.73" r="1.5" fill="#f8f8f8"/>
<circle cx="624.76" cy="2107.73" r="1.5" fill="#f8f8f8"/>
<circle cx="645.23" cy="2107.73" r="1.5" fill="#f8f8f8"/>
<circle cx="665.70" cy="2107.73" r="1.5" fill="#f8f8f8"/>
<circle cx="686.17" cy="2107.73" r="1.5" fill="#f8f8f8"/>
<ellipse cx="712.05" cy="2107.73" rx="9.50" ry="9.03" fill="#7d7d7d"/>
<ellipse cx="732.53" cy="2107.73" rx="9.50" ry="9.03" fill="#646464"/>
<ellipse cx="753.01" cy="2107.73" rx="2.50" ry="2.38" fill="#ededed"/>
<circle cx="774.19" cy="2107.73" r="1.5" fill="#f8f8f8"/>
<circle cx="794.67" cy="2107.73" r="1.5" fill="#f8f8f8"/>
<ellipse cx="814.45" cy="2107.73" rx="7.00" ry="6.65" fill="#b4b4b4"/>
<ellipse cx="834.93" cy="2107.73" rx="3.50" ry="3.32" fill="#dedede"/>
<circle cx="856.11" cy="2107.73" r="1.5" fill="#f8f8f8"/>
<circle cx="876.59" cy="2107.73" r="1.5" fill="#f8f8f8"/>
<circle cx="897.07" cy="2107.73" r="1.5" fill="#f8f8f8"/>
<circle cx="256.30" cy="2127.32" r="1.5" fill="#f8f8f8"/>
<ellipse cx="276.77" cy="2127.32" rx="5.00" ry="4.75" fill="#a0a0a0"/>
<ellipse cx="297.24" cy="2127.32" rx="10.25" ry="9.74" fill="#0a0a0a"/>
<ellipse cx="317.71" cy="2127.32" rx="10.25" ry="9.74" fill="#0a0a0a"/>
<ellipse cx="338.18" cy="2127.32" rx="10.25" ry="9.74" fill="#0f0f0f"/>
<ellipse cx="358.65" cy="2127.32" rx="10.25" ry="9.74" fill="#0a0a0a"/>
<ellipse cx="379.12" cy="2127.32" rx="10.00" ry="9.50" fill="#232323"/>
<ellipse cx="399.59" cy="2127.32" rx="4.00" ry="3.80" fill="#dadada"/>
<ellipse cx="420.06" cy="2127.32" rx="4.00" ry="3.80" fill="#dadada"/>
<ellipse cx="440.53" cy="2127.32" rx="4.00" ry="3.80" fill="#d7d7d7"/>
<ellipse cx="461.00" cy="2127.32" rx="4.00" ry="3.80" fill="#dcdcdc"/>
<ellipse cx="481.47" cy="2127.32" rx="2.50" ry="2.38" fill="#e8e8e8"/>
<ellipse cx="501.94" cy="2127.32" rx="3.00" ry="2.85" fill="#dedede"/>
<ellipse cx="522.41" cy="2127.32" rx="3.50" ry="3.32" fill="#dedede"/>
<ellipse cx="542.88" cy="2127.32" rx="3.50" ry="3.32" fill="#dedede"/>
<ellipse cx="563.35" cy="2127.32" rx="3.50" ry="3.32" fill="#dedede"/>
<ellipse cx="583.82" cy="2127.32" rx="2.50" ry="2.38" fill="#e5e5e5"/>
<circle cx="604.29" cy="2127.32" r="1.5" fill="#f8f8f8"/>
<circle cx="624.76" cy="2127.32" r="1.5" fill="#f8f8f8"/>
<circle cx="645.23" cy="2127.32" r="1.5" fill="#f8f8f8"/>
<circle cx="665.70" cy="2127.32" r="1.5" fill="#f8f8f8"/>
<ellipse cx="686.17" cy="2127.32" rx="4.50" ry="4.27" fill="#dadada"/>
<ellipse cx="712.05" cy="2127.32" rx="9.50" ry="9.03" fill="#7d7d7d"/>
<ellipse cx="732.53" cy="2127.32" rx="10.00" ry="9.50" fill="#5a5a5a"/>
<circle cx="753.71" cy="2127.32" r="1.5" fill="#f8f8f8"/>
<circle cx="774.19" cy="2127.32" r="1.5" fill="#f8f8f8"/>
<ellipse cx="793.97" cy="2127.32" rx="2.50" ry="2.38" fill="#ebebeb"/>
<ellipse cx="814.45" cy="2127.32" rx="3.50" ry="3.32" fill="#e1e1e1"/>
<circle cx="835.63" cy="2127.32" r="1.5" fill="#f8f8f8"/>
<circle cx="856.11" cy="2127.32" r="1.5" fill="#f8f8f8"/>
<circle cx="876.59" cy="2127.32" r="1.5" fill="#f8f8f8"/>
<circle cx="897.07" cy="2127.32" r="1.5" fill="#f8f8f8"/>
<circle cx="256.30" cy="2146.91" r="1.5" fill="#f8f8f8"/>
<circle cx="276.77" cy="2146.91" r="1.5" fill="#f8f8f8"/>
<ellipse cx="297.24" cy="2146.91" rx="10.25" ry="9.74" fill="#0a0a0a"/>
<ellipse cx="317.71" cy="2146.91" rx="10.25" ry="9.74" fill="#0a0a0a"/>
<ellipse cx="338.18" cy="2146.91" rx="10.25" ry="9.74" fill="#0a0a0a"/>
<ellipse cx="358.65" cy="2146.91" rx="10.25" ry="9.74" fill="#0a0a0a"/>
<ellipse cx="379.12" cy="2146.91" rx="10.00" ry="9.50" fill="#5a5a5a"/>
<ellipse cx="399.59" cy="2146.91" rx="6.50" ry="6.17" fill="#c3c3c3"/>
<ellipse cx="420.06" cy="2146.91" rx="2.50" ry="2.38" fill="#e8e8e8"/>
<ellipse cx="440.53" cy="2146.91" rx="3.00" ry="2.85" fill="#dedede"/>
<ellipse cx="461.00" cy="2146.91" rx="3.00" ry="2.85" fill="#dedede"/>
<ellipse cx="481.47" cy="2146.91" rx="2.50" ry="2.38" fill="#e8e8e8"/>
<ellipse cx="501.94" cy="2146.91" rx="3.00" ry="2.85" fill="#dedede"/>
<ellipse cx="522.41" cy="2146.91" rx="2.50" ry="2.38" fill="#e8e8e8"/>
<ellipse cx="542.88" cy="2146.91" rx="3.00" ry="2.85" fill="#dedede"/>
<ellipse cx="563.35" cy="2146.91" rx="2.50" ry="2.38" fill="#e8e8e8"/>
<circle cx="583.82" cy="2146.91" r="1.5" fill="#f8f8f8"/>
<ellipse cx="604.29" cy="2146.91" rx="2.50" ry="2.38" fill="#e8e8e8"/>
<ellipse cx="624.76" cy="2146.91" rx="2.50" ry="2.38" fill="#e8e8e8"/>
<ellipse cx="645.23" cy="2146.91" rx="2.50" ry="2.38" fill="#e5e5e5"/>
<circle cx="665.70" cy="2146.91" r="1.5" fill="#f8f8f8"/>
<circle cx="686.17" cy="2146.91" r="1.5" fill="#f8f8f8"/>
<ellipse cx="712.05" cy="2146.91" rx="9.50" ry="9.03" fill="#696969"/>
<ellipse cx="732.53" cy="2146.91" rx="9.50" ry="9.03" fill="#696969"/>
<ellipse cx="753.01" cy="2146.91" rx="2.00" ry="1.90" fill="#efefef"/>
<ellipse cx="773.49" cy="2146.91" rx="3.50" ry="3.32" fill="#dedede"/>
<circle cx="794.67" cy="2146.91" r="1.5" fill="#f8f8f8"/>
<ellipse cx="814.45" cy="2146.91" rx="7.00" ry="6.65" fill="#b4b4b4"/>
<ellipse cx="834.93" cy="2146.91" rx="3.00" ry="2.85" fill="#e1e1e1"/>
<circle cx="856.11" cy="2146.91" r="1.5" fill="#f8f8f8"/>
<circle cx="876.59" cy="2146.91" r="1.5" fill="#f8f8f8"/>
<ellipse cx="896.37" cy="2146.91" rx="2.00" ry="1.90" fill="#ededed"/>
<line x1="246.10" y1="2039.50" x2="696.20" y2="2039.50" stroke="#8a8a8a" stroke-width="1.0" stroke-linecap="butt"/>
<line x1="702.80" y1="2039.50" x2="907.40" y2="2039.50" stroke="#8a8a8a" stroke-width="1.0" stroke-linecap="butt"/>
<line x1="246.10" y1="2098.50" x2="696.20" y2="2098.50" stroke="#8a8a8a" stroke-width="1.0" stroke-linecap="butt"/>
<line x1="702.80" y1="2098.50" x2="907.40" y2="2098.50" stroke="#8a8a8a" stroke-width="1.0" stroke-linecap="butt"/>
<rect x="246.05" y="1980.75" width="450.20" height="175.60" fill="none" stroke="#231f20" stroke-width="1.9"/>
<rect x="702.75" y="1980.75" width="204.70" height="175.60" fill="none" stroke="#231f20" stroke-width="1.9"/>
<line x1="241.20" y1="1990.19" x2="245.60" y2="1990.19" stroke="#231f20" stroke-width="1.6" stroke-linecap="butt"/>
<text transform="translate(235.90,1998.99) scale(0.8465,1)" text-anchor="end" font-size="20.2" font-weight="normal" xml:space="preserve"><tspan font-style="normal" fill="#2aa9db" stroke="#2aa9db" stroke-width="0.4">hu </tspan><tspan font-style="italic" fill="#2aa9db" stroke="#2aa9db" stroke-width="0.4">RAMP1</tspan></text>
<line x1="241.20" y1="2009.78" x2="245.60" y2="2009.78" stroke="#231f20" stroke-width="1.6" stroke-linecap="butt"/>
<text transform="translate(235.90,2018.58) scale(0.8465,1)" text-anchor="end" font-size="20.2" font-weight="normal" xml:space="preserve"><tspan font-style="normal" fill="#231f20" stroke="#231f20" stroke-width="0.4">le </tspan><tspan font-style="italic" fill="#231f20" stroke="#231f20" stroke-width="0.4">RAMP1</tspan></text>
<text transform="translate(148.50,2023.38) scale(1.0800,1)" text-anchor="middle" font-size="22" font-weight="bold" xml:space="preserve"><tspan font-style="normal" fill="#231f20">*</tspan></text>
<line x1="241.20" y1="2029.37" x2="245.60" y2="2029.37" stroke="#231f20" stroke-width="1.6" stroke-linecap="butt"/>
<text transform="translate(235.90,2038.17) scale(0.8465,1)" text-anchor="end" font-size="20.2" font-weight="normal" xml:space="preserve"><tspan font-style="normal" fill="#c4601e" stroke="#c4601e" stroke-width="0.4">ms </tspan><tspan font-style="italic" fill="#c4601e" stroke="#c4601e" stroke-width="0.4">Ramp1</tspan></text>
<line x1="241.20" y1="2048.96" x2="245.60" y2="2048.96" stroke="#231f20" stroke-width="1.6" stroke-linecap="butt"/>
<text transform="translate(235.90,2057.76) scale(0.8465,1)" text-anchor="end" font-size="20.2" font-weight="normal" xml:space="preserve"><tspan font-style="normal" fill="#2aa9db" stroke="#2aa9db" stroke-width="0.4">hu </tspan><tspan font-style="italic" fill="#2aa9db" stroke="#2aa9db" stroke-width="0.4">RAMP3</tspan></text>
<text transform="translate(143.50,2062.56) scale(1.0800,1)" text-anchor="middle" font-size="22" font-weight="bold" xml:space="preserve"><tspan font-style="normal" fill="#2aa9db">*</tspan></text>
<line x1="241.20" y1="2068.55" x2="245.60" y2="2068.55" stroke="#231f20" stroke-width="1.6" stroke-linecap="butt"/>
<text transform="translate(235.90,2077.35) scale(0.8465,1)" text-anchor="end" font-size="20.2" font-weight="normal" xml:space="preserve"><tspan font-style="normal" fill="#231f20" stroke="#231f20" stroke-width="0.4">le </tspan><tspan font-style="italic" fill="#231f20" stroke="#231f20" stroke-width="0.4">RAMP3</tspan></text>
<line x1="241.20" y1="2088.14" x2="245.60" y2="2088.14" stroke="#231f20" stroke-width="1.6" stroke-linecap="butt"/>
<text transform="translate(235.90,2096.94) scale(0.8465,1)" text-anchor="end" font-size="20.2" font-weight="normal" xml:space="preserve"><tspan font-style="normal" fill="#c4601e" stroke="#c4601e" stroke-width="0.4">ms </tspan><tspan font-style="italic" fill="#c4601e" stroke="#c4601e" stroke-width="0.4">Ramp3</tspan></text>
<line x1="241.20" y1="2107.73" x2="245.60" y2="2107.73" stroke="#231f20" stroke-width="1.6" stroke-linecap="butt"/>
<text transform="translate(235.90,2116.53) scale(0.8465,1)" text-anchor="end" font-size="20.2" font-weight="normal" xml:space="preserve"><tspan font-style="normal" fill="#2aa9db" stroke="#2aa9db" stroke-width="0.4">hu </tspan><tspan font-style="italic" fill="#2aa9db" stroke="#2aa9db" stroke-width="0.4">RAMP2</tspan></text>
<line x1="241.20" y1="2127.32" x2="245.60" y2="2127.32" stroke="#231f20" stroke-width="1.6" stroke-linecap="butt"/>
<text transform="translate(235.90,2136.12) scale(0.8465,1)" text-anchor="end" font-size="20.2" font-weight="normal" xml:space="preserve"><tspan font-style="normal" fill="#231f20" stroke="#231f20" stroke-width="0.4">le </tspan><tspan font-style="italic" fill="#231f20" stroke="#231f20" stroke-width="0.4">RAMP2</tspan></text>
<line x1="241.20" y1="2146.91" x2="245.60" y2="2146.91" stroke="#231f20" stroke-width="1.6" stroke-linecap="butt"/>
<text transform="translate(235.90,2155.71) scale(0.8465,1)" text-anchor="end" font-size="20.2" font-weight="normal" xml:space="preserve"><tspan font-style="normal" fill="#c4601e" stroke="#c4601e" stroke-width="0.4">ms </tspan><tspan font-style="italic" fill="#c4601e" stroke="#c4601e" stroke-width="0.4">Ramp2</tspan></text>
<ellipse cx="276.77" cy="2174.05" rx="1.50" ry="1.42" fill="#efefef"/>
<ellipse cx="276.77" cy="2193.75" rx="6.50" ry="6.17" fill="#c8c8c8"/>
<ellipse cx="358.65" cy="2213.45" rx="2.00" ry="1.90" fill="#ededed"/>
<ellipse cx="276.77" cy="2233.15" rx="9.00" ry="8.55" fill="#a0a0a0"/>
<ellipse cx="276.77" cy="2252.85" rx="7.00" ry="6.65" fill="#b9b9b9"/>
<ellipse cx="276.77" cy="2272.55" rx="8.50" ry="8.07" fill="#aaaaaa"/>
<line x1="246.10" y1="2223.70" x2="696.20" y2="2223.70" stroke="#8a8a8a" stroke-width="1.0" stroke-linecap="butt"/>
<line x1="702.80" y1="2223.70" x2="907.40" y2="2223.70" stroke="#8a8a8a" stroke-width="1.0" stroke-linecap="butt"/>
<rect x="246.05" y="2164.55" width="450.20" height="117.50" fill="none" stroke="#231f20" stroke-width="1.9"/>
<rect x="702.75" y="2164.55" width="204.70" height="117.50" fill="none" stroke="#231f20" stroke-width="1.9"/>
<line x1="241.20" y1="2174.05" x2="245.60" y2="2174.05" stroke="#231f20" stroke-width="1.6" stroke-linecap="butt"/>
<text transform="translate(235.90,2182.85) scale(0.8465,1)" text-anchor="end" font-size="20.2" font-weight="normal" xml:space="preserve"><tspan font-style="normal" fill="#2aa9db" stroke="#2aa9db" stroke-width="0.4">hu </tspan><tspan font-style="italic" fill="#2aa9db" stroke="#2aa9db" stroke-width="0.4">TEKT3</tspan></text>
<line x1="241.20" y1="2193.75" x2="245.60" y2="2193.75" stroke="#231f20" stroke-width="1.6" stroke-linecap="butt"/>
<text transform="translate(235.90,2202.55) scale(0.8465,1)" text-anchor="end" font-size="20.2" font-weight="normal" xml:space="preserve"><tspan font-style="normal" fill="#231f20" stroke="#231f20" stroke-width="0.4">le </tspan><tspan font-style="italic" fill="#231f20" stroke="#231f20" stroke-width="0.4">TEKT3</tspan></text>
<text transform="translate(156.80,2207.35) scale(1.0800,1)" text-anchor="middle" font-size="22" font-weight="bold" xml:space="preserve"><tspan font-style="normal" fill="#231f20">*</tspan></text>
<line x1="241.20" y1="2213.45" x2="245.60" y2="2213.45" stroke="#231f20" stroke-width="1.6" stroke-linecap="butt"/>
<text transform="translate(235.90,2222.25) scale(0.8465,1)" text-anchor="end" font-size="20.2" font-weight="normal" xml:space="preserve"><tspan font-style="normal" fill="#c4601e" stroke="#c4601e" stroke-width="0.4">ms </tspan><tspan font-style="italic" fill="#c4601e" stroke="#c4601e" stroke-width="0.4">Tekt3</tspan></text>
<line x1="241.20" y1="2233.15" x2="245.60" y2="2233.15" stroke="#231f20" stroke-width="1.6" stroke-linecap="butt"/>
<text transform="translate(235.90,2241.95) scale(0.8465,1)" text-anchor="end" font-size="20.2" font-weight="normal" xml:space="preserve"><tspan font-style="normal" fill="#2aa9db" stroke="#2aa9db" stroke-width="0.4">hu </tspan><tspan font-style="italic" fill="#2aa9db" stroke="#2aa9db" stroke-width="0.4">TEKT1</tspan></text>
<line x1="241.20" y1="2252.85" x2="245.60" y2="2252.85" stroke="#231f20" stroke-width="1.6" stroke-linecap="butt"/>
<text transform="translate(235.90,2261.65) scale(0.8465,1)" text-anchor="end" font-size="20.2" font-weight="normal" xml:space="preserve"><tspan font-style="normal" fill="#231f20" stroke="#231f20" stroke-width="0.4">le </tspan><tspan font-style="italic" fill="#231f20" stroke="#231f20" stroke-width="0.4">TEKT1</tspan></text>
<line x1="241.20" y1="2272.55" x2="245.60" y2="2272.55" stroke="#231f20" stroke-width="1.6" stroke-linecap="butt"/>
<text transform="translate(235.90,2281.35) scale(0.8465,1)" text-anchor="end" font-size="20.2" font-weight="normal" xml:space="preserve"><tspan font-style="normal" fill="#c4601e" stroke="#c4601e" stroke-width="0.4">ms </tspan><tspan font-style="italic" fill="#c4601e" stroke="#c4601e" stroke-width="0.4">Tekt1</tspan></text>
<ellipse cx="835.63" cy="2299.34" rx="3.00" ry="2.85" fill="#e4e4e4"/>
<ellipse cx="379.12" cy="2338.31" rx="2.00" ry="1.90" fill="#ededed"/>
<ellipse cx="399.59" cy="2338.31" rx="3.00" ry="2.85" fill="#e1e1e1"/>
<ellipse cx="420.06" cy="2338.31" rx="5.00" ry="4.75" fill="#d7d7d7"/>
<ellipse cx="835.63" cy="2338.31" rx="3.00" ry="2.85" fill="#e6e6e6"/>
<ellipse cx="399.59" cy="2357.79" rx="4.00" ry="3.80" fill="#d4d4d4"/>
<ellipse cx="420.06" cy="2357.79" rx="7.00" ry="6.65" fill="#a5a5a5"/>
<ellipse cx="440.53" cy="2357.79" rx="4.00" ry="3.80" fill="#d7d7d7"/>
<ellipse cx="276.77" cy="2377.28" rx="2.00" ry="1.90" fill="#efefef"/>
<ellipse cx="420.06" cy="2377.28" rx="6.50" ry="6.17" fill="#c8c8c8"/>
<ellipse cx="440.53" cy="2377.28" rx="3.50" ry="3.32" fill="#e1e1e1"/>
<ellipse cx="399.59" cy="2396.76" rx="2.50" ry="2.38" fill="#ebebeb"/>
<ellipse cx="420.06" cy="2396.76" rx="5.00" ry="4.75" fill="#d7d7d7"/>
<line x1="246.10" y1="2348.20" x2="696.20" y2="2348.20" stroke="#8a8a8a" stroke-width="1.0" stroke-linecap="butt"/>
<line x1="702.80" y1="2348.20" x2="907.40" y2="2348.20" stroke="#8a8a8a" stroke-width="1.0" stroke-linecap="butt"/>
<rect x="246.05" y="2289.95" width="450.20" height="116.20" fill="none" stroke="#231f20" stroke-width="1.9"/>
<rect x="702.75" y="2289.95" width="204.70" height="116.20" fill="none" stroke="#231f20" stroke-width="1.9"/>
<line x1="241.20" y1="2299.34" x2="245.60" y2="2299.34" stroke="#231f20" stroke-width="1.6" stroke-linecap="butt"/>
<text transform="translate(235.90,2308.14) scale(0.8465,1)" text-anchor="end" font-size="20.2" font-weight="normal" xml:space="preserve"><tspan font-style="normal" fill="#2aa9db" stroke="#2aa9db" stroke-width="0.4">hu </tspan><tspan font-style="italic" fill="#2aa9db" stroke="#2aa9db" stroke-width="0.4">ADAMTS15</tspan></text>
<line x1="241.20" y1="2318.83" x2="245.60" y2="2318.83" stroke="#231f20" stroke-width="1.6" stroke-linecap="butt"/>
<text transform="translate(235.90,2327.63) scale(0.8465,1)" text-anchor="end" font-size="20.2" font-weight="normal" xml:space="preserve"><tspan font-style="normal" fill="#231f20" stroke="#231f20" stroke-width="0.4">le </tspan><tspan font-style="italic" fill="#231f20" stroke="#231f20" stroke-width="0.4">ADAMTS15</tspan></text>
<line x1="241.20" y1="2338.31" x2="245.60" y2="2338.31" stroke="#231f20" stroke-width="1.6" stroke-linecap="butt"/>
<text transform="translate(235.90,2347.11) scale(0.8465,1)" text-anchor="end" font-size="20.2" font-weight="normal" xml:space="preserve"><tspan font-style="normal" fill="#c4601e" stroke="#c4601e" stroke-width="0.4">ms </tspan><tspan font-style="italic" fill="#c4601e" stroke="#c4601e" stroke-width="0.4">Adamts15</tspan></text>
<text transform="translate(124.00,2351.91) scale(1.0800,1)" text-anchor="middle" font-size="22" font-weight="bold" xml:space="preserve"><tspan font-style="normal" fill="#c4601e">*</tspan></text>
<line x1="241.20" y1="2357.79" x2="245.60" y2="2357.79" stroke="#231f20" stroke-width="1.6" stroke-linecap="butt"/>
<text transform="translate(235.90,2366.59) scale(0.8465,1)" text-anchor="end" font-size="20.2" font-weight="normal" xml:space="preserve"><tspan font-style="normal" fill="#2aa9db" stroke="#2aa9db" stroke-width="0.4">hu </tspan><tspan font-style="italic" fill="#2aa9db" stroke="#2aa9db" stroke-width="0.4">ADAMTS8</tspan></text>
<line x1="241.20" y1="2377.28" x2="245.60" y2="2377.28" stroke="#231f20" stroke-width="1.6" stroke-linecap="butt"/>
<text transform="translate(235.90,2386.08) scale(0.8465,1)" text-anchor="end" font-size="20.2" font-weight="normal" xml:space="preserve"><tspan font-style="normal" fill="#231f20" stroke="#231f20" stroke-width="0.4">le </tspan><tspan font-style="italic" fill="#231f20" stroke="#231f20" stroke-width="0.4">ADAMTS8</tspan></text>
<line x1="241.20" y1="2396.76" x2="245.60" y2="2396.76" stroke="#231f20" stroke-width="1.6" stroke-linecap="butt"/>
<text transform="translate(235.90,2405.56) scale(0.8465,1)" text-anchor="end" font-size="20.2" font-weight="normal" xml:space="preserve"><tspan font-style="normal" fill="#c4601e" stroke="#c4601e" stroke-width="0.4">ms </tspan><tspan font-style="italic" fill="#c4601e" stroke="#c4601e" stroke-width="0.4">Adamts8</tspan></text>
<ellipse cx="399.59" cy="2424.04" rx="2.50" ry="2.38" fill="#ebebeb"/>
<ellipse cx="399.59" cy="2463.01" rx="5.50" ry="5.22" fill="#cdcdcd"/>
<ellipse cx="420.06" cy="2463.01" rx="4.50" ry="4.27" fill="#d7d7d7"/>
<ellipse cx="753.71" cy="2463.01" rx="5.50" ry="5.22" fill="#b9b9b9"/>
<ellipse cx="815.15" cy="2463.01" rx="4.00" ry="3.80" fill="#dcdcdc"/>
<ellipse cx="297.24" cy="2482.49" rx="2.00" ry="1.90" fill="#ebebeb"/>
<ellipse cx="317.71" cy="2482.49" rx="2.00" ry="1.90" fill="#ebebeb"/>
<ellipse cx="338.18" cy="2482.49" rx="2.00" ry="1.90" fill="#ebebeb"/>
<ellipse cx="358.65" cy="2482.49" rx="2.00" ry="1.90" fill="#ebebeb"/>
<ellipse cx="379.12" cy="2482.49" rx="2.00" ry="1.90" fill="#ededed"/>
<ellipse cx="399.59" cy="2482.49" rx="8.50" ry="8.07" fill="#a5a5a5"/>
<ellipse cx="420.06" cy="2482.49" rx="7.50" ry="7.12" fill="#a5a5a5"/>
<ellipse cx="440.53" cy="2482.49" rx="5.00" ry="4.75" fill="#d2d2d2"/>
<ellipse cx="686.17" cy="2482.49" rx="3.00" ry="2.85" fill="#e1e1e1"/>
<ellipse cx="753.71" cy="2482.49" rx="10.00" ry="9.50" fill="#2d2d2d"/>
<ellipse cx="774.19" cy="2482.49" rx="4.50" ry="4.27" fill="#d7d7d7"/>
<ellipse cx="815.15" cy="2482.49" rx="7.00" ry="6.65" fill="#b9b9b9"/>
<ellipse cx="835.63" cy="2482.49" rx="4.00" ry="3.80" fill="#d7d7d7"/>
<ellipse cx="399.59" cy="2501.97" rx="7.00" ry="6.65" fill="#afafaf"/>
<ellipse cx="420.06" cy="2501.97" rx="4.50" ry="4.27" fill="#d4d4d4"/>
<ellipse cx="753.71" cy="2501.97" rx="5.50" ry="5.22" fill="#d7d7d7"/>
<ellipse cx="815.15" cy="2501.97" rx="4.00" ry="3.80" fill="#dedede"/>
<ellipse cx="276.77" cy="2521.46" rx="7.50" ry="7.12" fill="#bebebe"/>
<ellipse cx="297.24" cy="2521.46" rx="2.00" ry="1.90" fill="#efefef"/>
<ellipse cx="379.12" cy="2521.46" rx="4.50" ry="4.27" fill="#d2d2d2"/>
<ellipse cx="399.59" cy="2521.46" rx="9.00" ry="8.55" fill="#6e6e6e"/>
<ellipse cx="420.06" cy="2521.46" rx="4.50" ry="4.27" fill="#d7d7d7"/>
<ellipse cx="440.53" cy="2521.46" rx="2.50" ry="2.38" fill="#e8e8e8"/>
<ellipse cx="712.75" cy="2521.46" rx="4.00" ry="3.80" fill="#dedede"/>
<ellipse cx="753.71" cy="2521.46" rx="10.00" ry="9.50" fill="#505050"/>
<ellipse cx="774.19" cy="2521.46" rx="2.50" ry="2.38" fill="#ededed"/>
<ellipse cx="794.67" cy="2521.46" rx="2.50" ry="2.38" fill="#ededed"/>
<ellipse cx="815.15" cy="2521.46" rx="8.50" ry="8.07" fill="#8c8c8c"/>
<ellipse cx="835.63" cy="2521.46" rx="3.50" ry="3.32" fill="#dedede"/>
<line x1="246.10" y1="2473.00" x2="696.20" y2="2473.00" stroke="#8a8a8a" stroke-width="1.0" stroke-linecap="butt"/>
<line x1="702.80" y1="2473.00" x2="907.40" y2="2473.00" stroke="#8a8a8a" stroke-width="1.0" stroke-linecap="butt"/>
<rect x="246.05" y="2414.65" width="450.20" height="116.20" fill="none" stroke="#231f20" stroke-width="1.9"/>
<rect x="702.75" y="2414.65" width="204.70" height="116.20" fill="none" stroke="#231f20" stroke-width="1.9"/>
<line x1="241.20" y1="2424.04" x2="245.60" y2="2424.04" stroke="#231f20" stroke-width="1.6" stroke-linecap="butt"/>
<text transform="translate(235.90,2432.84) scale(0.8465,1)" text-anchor="end" font-size="20.2" font-weight="normal" xml:space="preserve"><tspan font-style="normal" fill="#2aa9db" stroke="#2aa9db" stroke-width="0.4">hu </tspan><tspan font-style="italic" fill="#2aa9db" stroke="#2aa9db" stroke-width="0.4">CPXM1</tspan></text>
<line x1="241.20" y1="2443.53" x2="245.60" y2="2443.53" stroke="#231f20" stroke-width="1.6" stroke-linecap="butt"/>
<text transform="translate(235.90,2452.33) scale(0.8465,1)" text-anchor="end" font-size="20.2" font-weight="normal" xml:space="preserve"><tspan font-style="normal" fill="#231f20" stroke="#231f20" stroke-width="0.4">le </tspan><tspan font-style="italic" fill="#231f20" stroke="#231f20" stroke-width="0.4">CPXM1</tspan></text>
<line x1="241.20" y1="2463.01" x2="245.60" y2="2463.01" stroke="#231f20" stroke-width="1.6" stroke-linecap="butt"/>
<text transform="translate(235.90,2471.81) scale(0.8465,1)" text-anchor="end" font-size="20.2" font-weight="normal" xml:space="preserve"><tspan font-style="normal" fill="#c4601e" stroke="#c4601e" stroke-width="0.4">ms </tspan><tspan font-style="italic" fill="#c4601e" stroke="#c4601e" stroke-width="0.4">Cpxm1</tspan></text>
<text transform="translate(147.00,2476.61) scale(1.0800,1)" text-anchor="middle" font-size="22" font-weight="bold" xml:space="preserve"><tspan font-style="normal" fill="#c4601e">*</tspan></text>
<line x1="241.20" y1="2482.49" x2="245.60" y2="2482.49" stroke="#231f20" stroke-width="1.6" stroke-linecap="butt"/>
<text transform="translate(235.90,2491.29) scale(0.8465,1)" text-anchor="end" font-size="20.2" font-weight="normal" xml:space="preserve"><tspan font-style="normal" fill="#2aa9db" stroke="#2aa9db" stroke-width="0.4">hu </tspan><tspan font-style="italic" fill="#2aa9db" stroke="#2aa9db" stroke-width="0.4">AEBP1</tspan></text>
<line x1="241.20" y1="2501.97" x2="245.60" y2="2501.97" stroke="#231f20" stroke-width="1.6" stroke-linecap="butt"/>
<text transform="translate(235.90,2510.78) scale(0.8465,1)" text-anchor="end" font-size="20.2" font-weight="normal" xml:space="preserve"><tspan font-style="normal" fill="#231f20" stroke="#231f20" stroke-width="0.4">le </tspan><tspan font-style="italic" fill="#231f20" stroke="#231f20" stroke-width="0.4">AEBP1</tspan></text>
<line x1="241.20" y1="2521.46" x2="245.60" y2="2521.46" stroke="#231f20" stroke-width="1.6" stroke-linecap="butt"/>
<text transform="translate(235.90,2530.26) scale(0.8465,1)" text-anchor="end" font-size="20.2" font-weight="normal" xml:space="preserve"><tspan font-style="normal" fill="#c4601e" stroke="#c4601e" stroke-width="0.4">ms </tspan><tspan font-style="italic" fill="#c4601e" stroke="#c4601e" stroke-width="0.4">Aebp1</tspan></text>
<line x1="256.30" y1="140.00" x2="256.30" y2="145.00" stroke="#231f20" stroke-width="1.6" stroke-linecap="butt"/>
<line x1="276.77" y1="140.00" x2="276.77" y2="145.00" stroke="#231f20" stroke-width="1.6" stroke-linecap="butt"/>
<line x1="297.24" y1="140.00" x2="297.24" y2="145.00" stroke="#231f20" stroke-width="1.6" stroke-linecap="butt"/>
<line x1="317.71" y1="140.00" x2="317.71" y2="145.00" stroke="#231f20" stroke-width="1.6" stroke-linecap="butt"/>
<line x1="338.18" y1="140.00" x2="338.18" y2="145.00" stroke="#231f20" stroke-width="1.6" stroke-linecap="butt"/>
<line x1="358.65" y1="140.00" x2="358.65" y2="145.00" stroke="#231f20" stroke-width="1.6" stroke-linecap="butt"/>
<line x1="379.12" y1="140.00" x2="379.12" y2="145.00" stroke="#231f20" stroke-width="1.6" stroke-linecap="butt"/>
<line x1="399.59" y1="140.00" x2="399.59" y2="145.00" stroke="#231f20" stroke-width="1.6" stroke-linecap="butt"/>
<line x1="420.06" y1="140.00" x2="420.06" y2="145.00" stroke="#231f20" stroke-width="1.6" stroke-linecap="butt"/>
<line x1="440.53" y1="140.00" x2="440.53" y2="145.00" stroke="#231f20" stroke-width="1.6" stroke-linecap="butt"/>
<line x1="461.00" y1="140.00" x2="461.00" y2="145.00" stroke="#231f20" stroke-width="1.6" stroke-linecap="butt"/>
<line x1="481.47" y1="140.00" x2="481.47" y2="145.00" stroke="#231f20" stroke-width="1.6" stroke-linecap="butt"/>
<line x1="501.94" y1="140.00" x2="501.94" y2="145.00" stroke="#231f20" stroke-width="1.6" stroke-linecap="butt"/>
<line x1="522.41" y1="140.00" x2="522.41" y2="145.00" stroke="#231f20" stroke-width="1.6" stroke-linecap="butt"/>
<line x1="542.88" y1="140.00" x2="542.88" y2="145.00" stroke="#231f20" stroke-width="1.6" stroke-linecap="butt"/>
<line x1="563.35" y1="140.00" x2="563.35" y2="145.00" stroke="#231f20" stroke-width="1.6" stroke-linecap="butt"/>
<line x1="583.82" y1="140.00" x2="583.82" y2="145.00" stroke="#231f20" stroke-width="1.6" stroke-linecap="butt"/>
<line x1="604.29" y1="140.00" x2="604.29" y2="145.00" stroke="#231f20" stroke-width="1.6" stroke-linecap="butt"/>
<line x1="624.76" y1="140.00" x2="624.76" y2="145.00" stroke="#231f20" stroke-width="1.6" stroke-linecap="butt"/>
<line x1="645.23" y1="140.00" x2="645.23" y2="145.00" stroke="#231f20" stroke-width="1.6" stroke-linecap="butt"/>
<line x1="665.70" y1="140.00" x2="665.70" y2="145.00" stroke="#231f20" stroke-width="1.6" stroke-linecap="butt"/>
<line x1="686.17" y1="140.00" x2="686.17" y2="145.00" stroke="#231f20" stroke-width="1.6" stroke-linecap="butt"/>
<line x1="712.75" y1="140.30" x2="712.75" y2="145.00" stroke="#231f20" stroke-width="1.6" stroke-linecap="butt"/>
<line x1="733.23" y1="140.30" x2="733.23" y2="145.00" stroke="#231f20" stroke-width="1.6" stroke-linecap="butt"/>
<line x1="753.71" y1="140.30" x2="753.71" y2="145.00" stroke="#231f20" stroke-width="1.6" stroke-linecap="butt"/>
<line x1="774.19" y1="140.30" x2="774.19" y2="145.00" stroke="#231f20" stroke-width="1.6" stroke-linecap="butt"/>
<line x1="794.67" y1="140.30" x2="794.67" y2="145.00" stroke="#231f20" stroke-width="1.6" stroke-linecap="butt"/>
<line x1="815.15" y1="140.30" x2="815.15" y2="145.00" stroke="#231f20" stroke-width="1.6" stroke-linecap="butt"/>
<line x1="835.63" y1="140.30" x2="835.63" y2="145.00" stroke="#231f20" stroke-width="1.6" stroke-linecap="butt"/>
<line x1="856.11" y1="140.30" x2="856.11" y2="145.00" stroke="#231f20" stroke-width="1.6" stroke-linecap="butt"/>
<line x1="876.59" y1="140.30" x2="876.59" y2="145.00" stroke="#231f20" stroke-width="1.6" stroke-linecap="butt"/>
<line x1="897.07" y1="140.30" x2="897.07" y2="145.00" stroke="#231f20" stroke-width="1.6" stroke-linecap="butt"/>
<line x1="53.80" y1="145.30" x2="53.80" y2="1386.60" stroke="#2e2e2e" stroke-width="1.3" stroke-linecap="butt"/>
<text transform="translate(35.80,845.30) rotate(-90) scale(0.9440,1)" text-anchor="start" font-size="22.1" font-weight="bold" xml:space="preserve"><tspan font-style="normal" fill="#231f20">Named ortholog</tspan></text>
<line x1="53.80" y1="1432.00" x2="53.80" y2="1856.60" stroke="#2e2e2e" stroke-width="1.3" stroke-linecap="butt"/>
<text transform="translate(35.80,1737.00) rotate(-90) scale(0.9440,1)" text-anchor="start" font-size="22.1" font-weight="bold" xml:space="preserve"><tspan font-style="normal" fill="#231f20">Unnamed ortholog</tspan></text>
<line x1="52.90" y1="1888.50" x2="52.90" y2="1933.60" stroke="#2e2e2e" stroke-width="1.3" stroke-linecap="butt"/>
<text transform="translate(15.00,1951.00) rotate(-90) scale(0.9440,1)" text-anchor="start" font-size="22.1" font-weight="bold" xml:space="preserve"><tspan font-style="normal" fill="#231f20">Missed</tspan></text>
<text transform="translate(35.80,1958.30) rotate(-90) scale(0.9440,1)" text-anchor="start" font-size="22.1" font-weight="bold" xml:space="preserve"><tspan font-style="normal" fill="#231f20">ortholog</tspan></text>
<line x1="53.80" y1="1988.20" x2="53.80" y2="2538.00" stroke="#2e2e2e" stroke-width="1.3" stroke-linecap="butt"/>
<text transform="translate(35.80,2378.30) rotate(-90) scale(0.9440,1)" text-anchor="start" font-size="22.1" font-weight="bold" xml:space="preserve"><tspan font-style="normal" fill="#231f20">Non-ortholog (homolog)</tspan></text>
<text transform="translate(990.60,159.00) scale(0.8366,1)" text-anchor="start" font-size="20.2" font-weight="normal" xml:space="preserve"><tspan font-style="italic" fill="#2aa9db" stroke="#2aa9db" stroke-width="0.4">ABCA3</tspan></text>
<text transform="translate(945.30,206.90) scale(0.8366,1)" text-anchor="start" font-size="20.2" font-weight="normal" xml:space="preserve"><tspan font-style="italic" fill="#231f20" stroke="#231f20" stroke-width="0.4">ABCA3</tspan></text>
<text transform="translate(1040.20,206.90) scale(0.8366,1)" text-anchor="start" font-size="20.2" font-weight="normal" xml:space="preserve"><tspan font-style="italic" fill="#c4601e" stroke="#c4601e" stroke-width="0.4">Abca3</tspan></text>
<line x1="1007.20" y1="163.20" x2="991.80" y2="188.30" stroke="#8cc03f" stroke-width="2.2" stroke-linecap="butt"/>
<line x1="1028.00" y1="163.20" x2="1043.20" y2="188.30" stroke="#8cc03f" stroke-width="2.2" stroke-linecap="butt"/>
<line x1="1005.40" y1="198.40" x2="1035.70" y2="198.40" stroke="#8cc03f" stroke-width="2.2" stroke-linecap="butt"/>
<text transform="translate(1023.60,1436.80) scale(0.8366,1)" text-anchor="start" font-size="20.2" font-weight="normal" xml:space="preserve"><tspan font-style="italic" fill="#2aa9db" stroke="#2aa9db" stroke-width="0.4">DYNLRB2</tspan></text>
<text transform="translate(924.60,1484.80) scale(0.8366,1)" text-anchor="start" font-size="20.2" font-weight="normal" xml:space="preserve"><tspan font-style="italic" fill="#231f20" stroke="#231f20" stroke-width="0.4">LOC105861217</tspan></text>
<text transform="translate(1087.60,1484.80) scale(0.8366,1)" text-anchor="start" font-size="20.2" font-weight="normal" xml:space="preserve"><tspan font-style="italic" fill="#c4601e" stroke="#c4601e" stroke-width="0.4">Dynlrb2</tspan></text>
<line x1="1051.40" y1="1441.90" x2="1037.30" y2="1465.60" stroke="#231f20" stroke-width="2.1" stroke-linecap="butt"/>
<line x1="1073.20" y1="1441.90" x2="1087.60" y2="1465.60" stroke="#231f20" stroke-width="2.1" stroke-linecap="butt"/>
<line x1="1050.00" y1="1475.80" x2="1080.20" y2="1475.80" stroke="#231f20" stroke-width="2.1" stroke-linecap="butt"/>
<text transform="translate(1040.00,1708.20) scale(0.8366,1)" text-anchor="start" font-size="20.2" font-weight="normal" xml:space="preserve"><tspan font-style="italic" fill="#2aa9db" stroke="#2aa9db" stroke-width="0.4">CD14</tspan></text>
<text transform="translate(922.60,1756.30) scale(0.8366,1)" text-anchor="start" font-size="20.2" font-weight="normal" xml:space="preserve"><tspan font-style="italic" fill="#231f20" stroke="#231f20" stroke-width="0.4">LOC105862649</tspan></text>
<text transform="translate(1084.50,1756.30) scale(0.8366,1)" text-anchor="start" font-size="20.2" font-weight="normal" xml:space="preserve"><tspan font-style="italic" fill="#c4601e" stroke="#c4601e" stroke-width="0.4">Cd14</tspan></text>
<line x1="1050.00" y1="1713.00" x2="1035.00" y2="1737.30" stroke="#231f20" stroke-width="2.1" stroke-linecap="butt"/>
<line x1="1070.60" y1="1713.00" x2="1086.20" y2="1737.30" stroke="#231f20" stroke-width="2.1" stroke-linecap="butt"/>
<line x1="1047.70" y1="1748.30" x2="1078.30" y2="1748.30" stroke="#231f20" stroke-width="2.1" stroke-linecap="butt"/>
<text transform="translate(1039.20,1795.80) scale(0.8366,1)" text-anchor="start" font-size="20.2" font-weight="normal" xml:space="preserve"><tspan font-style="italic" fill="#2aa9db" stroke="#2aa9db" stroke-width="0.4">PALM</tspan></text>
<text transform="translate(922.60,1843.40) scale(0.8366,1)" text-anchor="start" font-size="20.2" font-weight="normal" xml:space="preserve"><tspan font-style="italic" fill="#231f20" stroke="#231f20" stroke-width="0.4">LOC105860793</tspan></text>
<text transform="translate(1085.30,1843.40) scale(0.8366,1)" text-anchor="start" font-size="20.2" font-weight="normal" xml:space="preserve"><tspan font-style="italic" fill="#c4601e" stroke="#c4601e" stroke-width="0.4">Palm</tspan></text>
<line x1="1050.00" y1="1800.70" x2="1035.00" y2="1825.00" stroke="#231f20" stroke-width="2.1" stroke-linecap="butt"/>
<line x1="1070.60" y1="1800.70" x2="1086.20" y2="1825.00" stroke="#231f20" stroke-width="2.1" stroke-linecap="butt"/>
<line x1="1047.70" y1="1836.00" x2="1078.30" y2="1836.00" stroke="#231f20" stroke-width="2.1" stroke-linecap="butt"/>
<text transform="translate(1018.80,1894.80) scale(0.8366,1)" text-anchor="start" font-size="20.2" font-weight="normal" xml:space="preserve"><tspan font-style="italic" fill="#2aa9db" stroke="#2aa9db" stroke-width="0.4">ALDH1A1</tspan></text>
<text transform="translate(922.60,1942.00) scale(0.8366,1)" text-anchor="start" font-size="20.2" font-weight="normal" xml:space="preserve"><tspan font-style="italic" fill="#231f20" stroke="#231f20" stroke-width="0.4">LOC105874770</tspan></text>
<text transform="translate(1079.10,1942.00) scale(0.8366,1)" text-anchor="start" font-size="20.2" font-weight="normal" xml:space="preserve"><tspan font-style="italic" fill="#c4601e" stroke="#c4601e" stroke-width="0.4">Aldh1a1</tspan></text>
<line x1="1048.60" y1="1899.00" x2="1033.60" y2="1923.10" stroke="#231f20" stroke-width="2.1" stroke-linecap="butt"/>
<line x1="1069.20" y1="1899.00" x2="1084.50" y2="1923.10" stroke="#231f20" stroke-width="2.1" stroke-linecap="butt"/>
<line x1="1045.70" y1="1935.00" x2="1075.40" y2="1935.00" stroke="#9c9c9c" stroke-width="2.2" stroke-dasharray="4.4,3.0" stroke-linecap="butt"/>
<text transform="translate(992.00,1998.70) scale(0.8366,1)" text-anchor="start" font-size="20.2" font-weight="normal" xml:space="preserve"><tspan font-style="italic" fill="#2aa9db" stroke="#2aa9db" stroke-width="0.4">RAMP2</tspan></text>
<text transform="translate(945.30,2046.30) scale(0.8366,1)" text-anchor="start" font-size="20.2" font-weight="normal" xml:space="preserve"><tspan font-style="italic" fill="#231f20" stroke="#231f20" stroke-width="0.4">RAMP1</tspan></text>
<text transform="translate(1044.30,2046.30) scale(0.8366,1)" text-anchor="start" font-size="20.2" font-weight="normal" xml:space="preserve"><tspan font-style="italic" fill="#c4601e" stroke="#c4601e" stroke-width="0.4">Ramp2</tspan></text>
<line x1="1013.20" y1="2003.00" x2="998.20" y2="2027.90" stroke="#9c9c9c" stroke-width="2.2" stroke-dasharray="4.4,3.0" stroke-linecap="butt"/>
<line x1="1033.00" y1="2003.00" x2="1048.60" y2="2027.90" stroke="#231f20" stroke-width="2.1" stroke-linecap="butt"/>
<line x1="1010.40" y1="2038.30" x2="1040.10" y2="2038.30" stroke="#9c9c9c" stroke-width="2.2" stroke-dasharray="4.4,3.0" stroke-linecap="butt"/>
<text transform="translate(1009.00,2038.70) scale(1.0800,1)" text-anchor="middle" font-size="22" font-weight="bold" xml:space="preserve"><tspan font-style="normal" fill="#231f20">*</tspan></text>
<text transform="translate(1132.00,2044.30) scale(0.8366,1)" text-anchor="start" font-size="20.2" font-weight="normal" xml:space="preserve"><tspan font-style="italic" fill="#2aa9db" stroke="#2aa9db" stroke-width="0.4">RAMP2</tspan></text>
<text transform="translate(1087.50,2092.10) scale(0.8366,1)" text-anchor="start" font-size="20.2" font-weight="normal" xml:space="preserve"><tspan font-style="italic" fill="#231f20" stroke="#231f20" stroke-width="0.4">RAMP2</tspan></text>
<text transform="translate(1183.80,2092.10) scale(0.8366,1)" text-anchor="start" font-size="20.2" font-weight="normal" xml:space="preserve"><tspan font-style="italic" fill="#c4601e" stroke="#c4601e" stroke-width="0.4">Ramp2</tspan></text>
<line x1="1149.80" y1="2049.10" x2="1134.80" y2="2073.70" stroke="#231f20" stroke-width="2.1" stroke-linecap="butt"/>
<line x1="1170.20" y1="2049.10" x2="1185.70" y2="2073.70" stroke="#231f20" stroke-width="2.1" stroke-linecap="butt"/>
<line x1="1147.60" y1="2083.90" x2="1178.10" y2="2083.90" stroke="#231f20" stroke-width="2.1" stroke-linecap="butt"/>
<text transform="translate(992.00,2092.10) scale(0.8366,1)" text-anchor="start" font-size="20.2" font-weight="normal" xml:space="preserve"><tspan font-style="italic" fill="#2aa9db" stroke="#2aa9db" stroke-width="0.4">RAMP3</tspan></text>
<text transform="translate(948.60,2139.60) scale(0.8366,1)" text-anchor="start" font-size="20.2" font-weight="normal" xml:space="preserve"><tspan font-style="italic" fill="#231f20" stroke="#231f20" stroke-width="0.4">RAMP2</tspan></text>
<text transform="translate(1044.30,2139.60) scale(0.8366,1)" text-anchor="start" font-size="20.2" font-weight="normal" xml:space="preserve"><tspan font-style="italic" fill="#c4601e" stroke="#c4601e" stroke-width="0.4">Ramp2</tspan></text>
<line x1="1013.20" y1="2096.60" x2="998.20" y2="2121.20" stroke="#9c9c9c" stroke-width="2.2" stroke-dasharray="4.4,3.0" stroke-linecap="butt"/>
<line x1="1033.00" y1="2096.60" x2="1048.60" y2="2121.20" stroke="#9c9c9c" stroke-width="2.2" stroke-dasharray="4.4,3.0" stroke-linecap="butt"/>
<line x1="1010.40" y1="2131.40" x2="1040.90" y2="2131.40" stroke="#231f20" stroke-width="2.1" stroke-linecap="butt"/>
<text transform="translate(1055.60,2084.80) scale(1.0800,1)" text-anchor="middle" font-size="22" font-weight="bold" xml:space="preserve"><tspan font-style="normal" fill="#2aa9db">*</tspan></text>
<text transform="translate(998.60,2201.00) scale(0.8366,1)" text-anchor="start" font-size="20.2" font-weight="normal" xml:space="preserve"><tspan font-style="italic" fill="#2aa9db" stroke="#2aa9db" stroke-width="0.4">TEKT1</tspan></text>
<text transform="translate(955.30,2248.50) scale(0.8366,1)" text-anchor="start" font-size="20.2" font-weight="normal" xml:space="preserve"><tspan font-style="italic" fill="#231f20" stroke="#231f20" stroke-width="0.4">TEKT3</tspan></text>
<text transform="translate(1047.60,2248.50) scale(0.8366,1)" text-anchor="start" font-size="20.2" font-weight="normal" xml:space="preserve"><tspan font-style="italic" fill="#c4601e" stroke="#c4601e" stroke-width="0.4">Tekt1</tspan></text>
<line x1="1016.00" y1="2205.50" x2="1001.00" y2="2230.00" stroke="#9c9c9c" stroke-width="2.2" stroke-dasharray="4.4,3.0" stroke-linecap="butt"/>
<line x1="1036.40" y1="2205.50" x2="1052.20" y2="2230.00" stroke="#231f20" stroke-width="2.1" stroke-linecap="butt"/>
<line x1="1014.60" y1="2240.00" x2="1042.40" y2="2240.00" stroke="#9c9c9c" stroke-width="2.2" stroke-dasharray="4.4,3.0" stroke-linecap="butt"/>
<text transform="translate(1014.00,2240.40) scale(1.0800,1)" text-anchor="middle" font-size="22" font-weight="bold" xml:space="preserve"><tspan font-style="normal" fill="#231f20">*</tspan></text>
<text transform="translate(1140.00,2219.00) scale(0.8366,1)" text-anchor="start" font-size="20.2" font-weight="normal" xml:space="preserve"><tspan font-style="italic" fill="#2aa9db" stroke="#2aa9db" stroke-width="0.4">TEKT1</tspan></text>
<text transform="translate(1098.90,2267.10) scale(0.8366,1)" text-anchor="start" font-size="20.2" font-weight="normal" xml:space="preserve"><tspan font-style="italic" fill="#231f20" stroke="#231f20" stroke-width="0.4">TEKT1</tspan></text>
<text transform="translate(1186.10,2267.10) scale(0.8366,1)" text-anchor="start" font-size="20.2" font-weight="normal" xml:space="preserve"><tspan font-style="italic" fill="#c4601e" stroke="#c4601e" stroke-width="0.4">Tekt1</tspan></text>
<line x1="1155.50" y1="2224.40" x2="1140.50" y2="2248.70" stroke="#231f20" stroke-width="2.1" stroke-linecap="butt"/>
<line x1="1175.80" y1="2224.40" x2="1191.40" y2="2248.70" stroke="#231f20" stroke-width="2.1" stroke-linecap="butt"/>
<line x1="1152.60" y1="2258.60" x2="1183.80" y2="2258.60" stroke="#231f20" stroke-width="2.1" stroke-linecap="butt"/>
<text transform="translate(978.40,2323.40) scale(0.8366,1)" text-anchor="start" font-size="20.2" font-weight="normal" xml:space="preserve"><tspan font-style="italic" fill="#2aa9db" stroke="#2aa9db" stroke-width="0.4">ADAMTS8</tspan></text>
<text transform="translate(925.50,2370.90) scale(0.8366,1)" text-anchor="start" font-size="20.2" font-weight="normal" xml:space="preserve"><tspan font-style="italic" fill="#231f20" stroke="#231f20" stroke-width="0.4">ADAMTS8</tspan></text>
<text transform="translate(1044.30,2370.90) scale(0.8366,1)" text-anchor="start" font-size="20.2" font-weight="normal" xml:space="preserve"><tspan font-style="italic" fill="#c4601e" stroke="#c4601e" stroke-width="0.4">Adamts15</tspan></text>
<line x1="1010.40" y1="2327.60" x2="995.40" y2="2351.70" stroke="#231f20" stroke-width="2.1" stroke-linecap="butt"/>
<line x1="1030.80" y1="2327.60" x2="1046.30" y2="2351.70" stroke="#9c9c9c" stroke-width="2.2" stroke-dasharray="4.4,3.0" stroke-linecap="butt"/>
<line x1="1007.60" y1="2363.00" x2="1037.30" y2="2363.00" stroke="#9c9c9c" stroke-width="2.2" stroke-dasharray="4.4,3.0" stroke-linecap="butt"/>
<text transform="translate(1129.20,2364.70) scale(1.0800,1)" text-anchor="middle" font-size="22" font-weight="bold" xml:space="preserve"><tspan font-style="normal" fill="#c4601e">*</tspan></text>
<text transform="translate(1126.30,2343.50) scale(0.8366,1)" text-anchor="start" font-size="20.2" font-weight="normal" xml:space="preserve"><tspan font-style="italic" fill="#2aa9db" stroke="#2aa9db" stroke-width="0.4">ADAMTS8</tspan></text>
<text transform="translate(1071.10,2391.30) scale(0.8366,1)" text-anchor="start" font-size="20.2" font-weight="normal" xml:space="preserve"><tspan font-style="italic" fill="#231f20" stroke="#231f20" stroke-width="0.4">ADAMTS8</tspan></text>
<text transform="translate(1185.70,2391.30) scale(0.8366,1)" text-anchor="start" font-size="20.2" font-weight="normal" xml:space="preserve"><tspan font-style="italic" fill="#c4601e" stroke="#c4601e" stroke-width="0.4">Adamts8</tspan></text>
<line x1="1154.60" y1="2348.30" x2="1139.60" y2="2372.30" stroke="#231f20" stroke-width="2.1" stroke-linecap="butt"/>
<line x1="1175.30" y1="2348.30" x2="1190.80" y2="2372.30" stroke="#231f20" stroke-width="2.1" stroke-linecap="butt"/>
<line x1="1153.20" y1="2383.00" x2="1183.80" y2="2383.00" stroke="#231f20" stroke-width="2.1" stroke-linecap="butt"/>
<text transform="translate(990.60,2448.70) scale(0.8366,1)" text-anchor="start" font-size="20.2" font-weight="normal" xml:space="preserve"><tspan font-style="italic" fill="#2aa9db" stroke="#2aa9db" stroke-width="0.4">AEBP1</tspan></text>
<text transform="translate(948.60,2495.90) scale(0.8366,1)" text-anchor="start" font-size="20.2" font-weight="normal" xml:space="preserve"><tspan font-style="italic" fill="#231f20" stroke="#231f20" stroke-width="0.4">AEBP1</tspan></text>
<text transform="translate(1045.20,2495.90) scale(0.8366,1)" text-anchor="start" font-size="20.2" font-weight="normal" xml:space="preserve"><tspan font-style="italic" fill="#c4601e" stroke="#c4601e" stroke-width="0.4">Cpxm1</tspan></text>
<line x1="1009.80" y1="2452.90" x2="994.80" y2="2477.00" stroke="#231f20" stroke-width="2.1" stroke-linecap="butt"/>
<line x1="1030.80" y1="2452.90" x2="1046.30" y2="2477.00" stroke="#9c9c9c" stroke-width="2.2" stroke-dasharray="4.4,3.0" stroke-linecap="butt"/>
<line x1="1007.00" y1="2488.30" x2="1037.30" y2="2488.30" stroke="#9c9c9c" stroke-width="2.2" stroke-dasharray="4.4,3.0" stroke-linecap="butt"/>
<text transform="translate(1105.10,2489.70) scale(1.0800,1)" text-anchor="middle" font-size="22" font-weight="bold" xml:space="preserve"><tspan font-style="normal" fill="#c4601e">*</tspan></text>
<text transform="translate(1135.40,2469.90) scale(0.8366,1)" text-anchor="start" font-size="20.2" font-weight="normal" xml:space="preserve"><tspan font-style="italic" fill="#2aa9db" stroke="#2aa9db" stroke-width="0.4">AEBP1</tspan></text>
<text transform="translate(1092.30,2518.00) scale(0.8366,1)" text-anchor="start" font-size="20.2" font-weight="normal" xml:space="preserve"><tspan font-style="italic" fill="#231f20" stroke="#231f20" stroke-width="0.4">AEBP1</tspan></text>
<text transform="translate(1183.80,2518.00) scale(0.8366,1)" text-anchor="start" font-size="20.2" font-weight="normal" xml:space="preserve"><tspan font-style="italic" fill="#c4601e" stroke="#c4601e" stroke-width="0.4">Aebp1</tspan></text>
<line x1="1151.80" y1="2475.00" x2="1136.80" y2="2499.00" stroke="#231f20" stroke-width="2.1" stroke-linecap="butt"/>
<line x1="1172.40" y1="2475.00" x2="1188.00" y2="2499.00" stroke="#231f20" stroke-width="2.1" stroke-linecap="butt"/>
<line x1="1149.80" y1="2510.00" x2="1180.00" y2="2510.00" stroke="#231f20" stroke-width="2.1" stroke-linecap="butt"/>
<text transform="translate(126.00,2582.40) scale(0.8366,1)" text-anchor="start" font-size="20.2" font-weight="normal" xml:space="preserve"><tspan font-style="normal" fill="#231f20" stroke="#231f20" stroke-width="0.4">ln(UP10K+1)</tspan></text>
<defs><linearGradient id="gr" x1="0" x2="1" y1="0" y2="0"><stop offset="0" stop-color="#ffffff"/><stop offset="0.5" stop-color="#8e8c8c"/><stop offset="1" stop-color="#0c0a0a"/></linearGradient></defs>
<rect x="119.5" y="2596.6" width="106.7" height="18.2" fill="url(#gr)" stroke="#231f20" stroke-width="2.0"/>
<line x1="172.30" y1="2613.20" x2="172.30" y2="2614.60" stroke="#231f20" stroke-width="1.0" stroke-linecap="butt"/>
<text transform="translate(120.80,2637.40) scale(0.8366,1)" text-anchor="middle" font-size="20.2" font-weight="normal" xml:space="preserve"><tspan font-style="normal" fill="#231f20" stroke="#231f20" stroke-width="0.4">0</tspan></text>
<text transform="translate(172.20,2637.40) scale(0.8366,1)" text-anchor="middle" font-size="20.2" font-weight="normal" xml:space="preserve"><tspan font-style="normal" fill="#231f20" stroke="#231f20" stroke-width="0.4">2</tspan></text>
<text transform="translate(223.20,2637.40) scale(0.8366,1)" text-anchor="middle" font-size="20.2" font-weight="normal" xml:space="preserve"><tspan font-style="normal" fill="#231f20" stroke="#231f20" stroke-width="0.4">4</tspan></text>
<text transform="translate(333.60,2581.20) scale(0.8366,1)" text-anchor="start" font-size="20.2" font-weight="normal" xml:space="preserve"><tspan font-style="normal" fill="#231f20" stroke="#231f20" stroke-width="0.4">% of cells</tspan></text>
<circle cx="323.2" cy="2600.3" r="4.5" fill="#0c0a0a"/>
<circle cx="356.4" cy="2600.3" r="5.7" fill="#0c0a0a"/>
<circle cx="387.3" cy="2600.3" r="7.9" fill="#0c0a0a"/>
<circle cx="421.7" cy="2600.3" r="11.1" fill="#0c0a0a"/>
<text transform="translate(323.00,2630.00) scale(0.8366,1)" text-anchor="middle" font-size="20.2" font-weight="normal" xml:space="preserve"><tspan font-style="normal" fill="#231f20" stroke="#231f20" stroke-width="0.4">12.5</tspan></text>
<text transform="translate(355.00,2630.00) scale(0.8366,1)" text-anchor="middle" font-size="20.2" font-weight="normal" xml:space="preserve"><tspan font-style="normal" fill="#231f20" stroke="#231f20" stroke-width="0.4">25</tspan></text>
<text transform="translate(386.00,2630.00) scale(0.8366,1)" text-anchor="middle" font-size="20.2" font-weight="normal" xml:space="preserve"><tspan font-style="normal" fill="#231f20" stroke="#231f20" stroke-width="0.4">50</tspan></text>
<text transform="translate(421.20,2630.00) scale(0.8366,1)" text-anchor="middle" font-size="20.2" font-weight="normal" xml:space="preserve"><tspan font-style="normal" fill="#231f20" stroke="#231f20" stroke-width="0.4">100</tspan></text>
<text transform="translate(513.20,2581.70) scale(0.8420,1)" text-anchor="start" font-size="20.2" font-weight="normal" xml:space="preserve"><tspan font-style="normal" fill="#231f20" stroke="#231f20" stroke-width="0.4">AT2, Alveolar type 2</tspan></text>
<text transform="translate(680.00,2581.70) scale(0.8420,1)" text-anchor="start" font-size="20.2" font-weight="normal" xml:space="preserve"><tspan font-style="normal" fill="#231f20" stroke="#231f20" stroke-width="0.4">cDC, cConventional dendritic</tspan></text>
<text transform="translate(513.20,2606.50) scale(0.8420,1)" text-anchor="start" font-size="20.2" font-weight="normal" xml:space="preserve"><tspan font-style="normal" fill="#231f20" stroke="#231f20" stroke-width="0.4">Adv, Adventitial</tspan></text>
<text transform="translate(680.00,2606.50) scale(0.8420,1)" text-anchor="start" font-size="20.2" font-weight="normal" xml:space="preserve"><tspan font-style="normal" fill="#231f20" stroke="#231f20" stroke-width="0.4">pDC, Plasmacytoid dendritic</tspan></text>
<text transform="translate(513.20,2631.30) scale(0.8420,1)" text-anchor="start" font-size="20.2" font-weight="normal" xml:space="preserve"><tspan font-style="normal" fill="#231f20" stroke="#231f20" stroke-width="0.4">Alv, Alveolar</tspan></text>
<text transform="translate(680.00,2631.30) scale(0.8420,1)" text-anchor="start" font-size="20.2" font-weight="normal" xml:space="preserve"><tspan font-style="normal" fill="#231f20" stroke="#231f20" stroke-width="0.4">FA, Fibroadipogenic progenitor</tspan></text>
<text transform="translate(513.20,2656.10) scale(0.8420,1)" text-anchor="start" font-size="20.2" font-weight="normal" xml:space="preserve"><tspan font-style="normal" fill="#231f20" stroke="#231f20" stroke-width="0.4">MΦ, Macrophage</tspan></text>
<text transform="translate(680.00,2656.10) scale(0.8420,1)" text-anchor="start" font-size="20.2" font-weight="normal" xml:space="preserve"><tspan font-style="normal" fill="#231f20" stroke="#231f20" stroke-width="0.4">PF, Proliferating</tspan></text>
</svg></body></html>
